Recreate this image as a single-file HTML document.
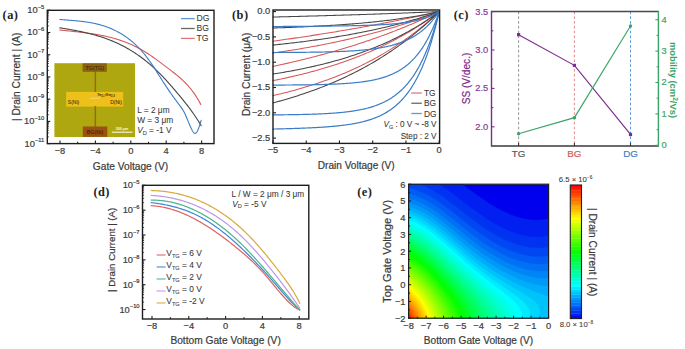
<!DOCTYPE html>
<html><head><meta charset="utf-8"><title>Figure</title>
<style>
html,body{margin:0;padding:0;background:#fff;}
body{width:685px;height:349px;overflow:hidden;}
svg{display:block;}

</style></head>
<body>
<svg width="685" height="349" viewBox="0 0 685 349">
<rect width="685" height="349" fill="#fff"/>
<g>
<rect x="54.4" y="63.2" width="80.6" height="73.8" fill="#afa70f"/>
<rect x="66.2" y="91.9" width="57" height="14.7" fill="#eec01a"/>
<rect x="94.6" y="71" width="1.5" height="21" fill="#9a6a12"/>
<rect x="94.6" y="106" width="1.5" height="21" fill="#9a6a12"/>
<rect x="82.6" y="63.3" width="24.2" height="8.5" fill="#8a6212"/>
<rect x="82.8" y="126.5" width="24.5" height="10.4" fill="#9a5212"/>
<rect x="90" y="97.6" width="10" height="1.4" fill="#f2d27a" opacity="0.8"/>
<text x="94.7" y="70" font-size="5.4" text-anchor="middle" fill="#3a2a08" font-family='"Liberation Sans", sans-serif' stroke="#3a2a08" stroke-width="0.08">TG(TG)</text>
<text x="95" y="133.6" font-size="5.4" text-anchor="middle" fill="#3a2008" font-family='"Liberation Sans", sans-serif' stroke="#3a2008" stroke-width="0.08">BG(Ni)</text>
<text x="73.5" y="104.4" font-size="5" text-anchor="middle" fill="#4a3208" font-family='"Liberation Sans", sans-serif' stroke="#4a3208" stroke-width="0.08">S(Ni)</text>
<text x="116" y="104.4" font-size="5" text-anchor="middle" fill="#4a3208" font-family='"Liberation Sans", sans-serif' stroke="#4a3208" stroke-width="0.08">D(Ni)</text>
<text x="97" y="96.2" font-size="4.2" fill="#3a2a08" font-family='"Liberation Sans", sans-serif' stroke="#3a2a08" stroke-width="0.08">Te<tspan font-size="3" dy="1">0.7</tspan><tspan dy="-1">Se</tspan><tspan font-size="3" dy="1">0.3</tspan></text>
<rect x="111.8" y="131.6" width="20.7" height="1.2" fill="#f4f0d0"/>
<text x="122" y="130" font-size="3.6" text-anchor="middle" fill="#f4f0d0" font-family='"Liberation Sans", sans-serif' font-weight="bold" stroke="#f4f0d0" stroke-width="0.08">200 μm</text>
</g>
<path d="M59.8,30 60.8,30.11 61.8,30.22 62.8,30.33 63.8,30.44 64.8,30.54 65.8,30.65 66.8,30.76 67.8,30.86 68.8,30.97 69.8,31.07 70.8,31.18 71.8,31.28 72.8,31.39 73.8,31.49 74.8,31.6 75.8,31.71 76.8,31.82 77.8,31.93 78.8,32.04 79.8,32.16 80.8,32.27 81.8,32.39 82.8,32.51 83.8,32.63 84.8,32.76 85.8,32.89 86.8,33.02 87.8,33.15 88.8,33.29 89.8,33.43 90.8,33.58 91.8,33.72 92.8,33.88 93.8,34.03 94.8,34.19 95.8,34.36 96.8,34.53 97.8,34.7 98.8,34.88 99.8,35.07 100.8,35.26 101.8,35.46 102.8,35.66 103.8,35.87 104.8,36.08 105.8,36.3 106.8,36.53 107.8,36.76 108.8,37 109.8,37.25 110.8,37.5 111.8,37.76 112.8,38.03 113.8,38.31 114.8,38.59 115.8,38.89 116.8,39.19 117.8,39.5 118.8,39.82 119.8,40.14 120.8,40.48 121.8,40.82 122.8,41.18 123.8,41.54 124.8,41.92 125.8,42.3 126.8,42.69 127.8,43.1 128.8,43.51 129.8,43.93 130.8,44.37 131.8,44.81 132.8,45.27 133.8,45.74 134.8,46.22 135.8,46.71 136.8,47.21 137.8,47.73 138.8,48.26 139.8,48.79 140.8,49.35 141.8,49.91 142.8,50.49 143.8,51.08 144.8,51.68 145.8,52.3 146.8,52.93 147.8,53.57 148.8,54.23 149.8,54.9 150.8,55.58 151.8,56.28 152.8,56.98 153.8,57.7 154.8,58.42 155.8,59.15 156.8,59.88 157.8,60.63 158.8,61.37 159.8,62.13 160.8,62.88 161.8,63.64 162.8,64.39 163.8,65.15 164.8,65.91 165.8,66.67 166.8,67.42 167.8,68.17 168.8,68.92 169.8,69.67 170.8,70.42 171.8,71.18 172.8,71.94 173.8,72.72 174.8,73.5 175.8,74.29 176.8,75.1 177.8,75.93 178.8,76.77 179.8,77.63 180.8,78.51 181.8,79.42 182.8,80.35 183.8,81.3 184.8,82.29 185.8,83.3 186.8,84.35 187.8,85.44 188.8,86.57 189.8,87.74 190.8,88.96 191.8,90.23 192.8,91.56 193.8,92.94 194.8,94.38 195.8,95.89 196.8,97.46 197.8,99.1 198.8,100.81 199.8,102.61 200.8,104.48" fill="none" stroke="#d85858" stroke-width="1.1" stroke-linejoin="round" stroke-linecap="round"/>
<path d="M59.8,27.84 60.8,28 61.81,28.16 62.81,28.32 63.81,28.49 64.81,28.65 65.82,28.82 66.82,28.99 67.82,29.16 68.83,29.33 69.83,29.5 70.83,29.68 71.83,29.86 72.84,30.04 73.84,30.23 74.84,30.41 75.85,30.61 76.85,30.8 77.85,31 78.85,31.2 79.86,31.4 80.86,31.61 81.86,31.82 82.87,32.04 83.87,32.26 84.87,32.49 85.87,32.72 86.88,32.95 87.88,33.19 88.88,33.44 89.89,33.69 90.89,33.95 91.89,34.21 92.89,34.48 93.9,34.75 94.9,35.03 95.9,35.32 96.9,35.61 97.91,35.91 98.91,36.21 99.91,36.52 100.92,36.84 101.92,37.17 102.92,37.51 103.92,37.85 104.93,38.2 105.93,38.55 106.93,38.92 107.94,39.29 108.94,39.68 109.94,40.07 110.94,40.46 111.95,40.87 112.95,41.29 113.95,41.71 114.96,42.15 115.96,42.59 116.96,43.05 117.96,43.51 118.97,43.99 119.97,44.47 120.97,44.96 121.98,45.47 122.98,45.98 123.98,46.51 124.98,47.04 125.99,47.59 126.99,48.15 127.99,48.72 129,49.3 130,49.89 131,50.5 132,51.12 133.01,51.74 134.01,52.39 135.01,53.04 136.02,53.71 137.02,54.38 138.02,55.08 139.02,55.78 140.03,56.5 141.03,57.23 142.03,57.97 143.04,58.73 144.04,59.51 145.04,60.29 146.04,61.09 147.05,61.91 148.05,62.74 149.05,63.58 150.06,64.44 151.06,65.31 152.06,66.2 153.06,67.11 154.07,68.02 155.07,68.96 156.07,69.91 157.08,70.88 158.08,71.86 159.08,72.86 160.08,73.87 161.09,74.9 162.09,75.94 163.09,76.99 164.1,78.06 165.1,79.14 166.1,80.23 167.1,81.33 168.11,82.44 169.11,83.56 170.11,84.69 171.11,85.83 172.12,86.98 173.12,88.13 174.12,89.29 175.13,90.46 176.13,91.63 177.13,92.8 178.13,93.99 179.14,95.18 180.14,96.38 181.14,97.59 182.15,98.81 183.15,100.04 184.15,101.29 185.15,102.55 186.16,103.83 187.16,105.12 188.16,106.43 189.17,107.76 190.17,109.11 191.17,110.48 192.17,111.87 193.18,113.29 194.18,114.73 195.18,116.2 196.19,117.7 197.19,119.23 198.19,120.8 199.19,122.39 200.2,124.03 201.2,125.7" fill="none" stroke="#454545" stroke-width="1.1" stroke-linejoin="round" stroke-linecap="round"/>
<path d="M59.8,19.48 60.3,19.52 60.8,19.56 61.3,19.6 61.81,19.64 62.31,19.68 62.81,19.72 63.31,19.76 63.81,19.8 64.31,19.84 64.81,19.88 65.32,19.92 65.82,19.96 66.32,20 66.82,20.04 67.32,20.08 67.82,20.12 68.32,20.15 68.83,20.19 69.33,20.23 69.83,20.27 70.33,20.31 70.83,20.35 71.33,20.39 71.83,20.43 72.34,20.47 72.84,20.52 73.34,20.56 73.84,20.6 74.34,20.65 74.84,20.69 75.34,20.73 75.85,20.78 76.35,20.83 76.85,20.87 77.35,20.92 77.85,20.97 78.35,21.02 78.85,21.07 79.36,21.13 79.86,21.18 80.36,21.23 80.86,21.29 81.36,21.35 81.86,21.41 82.36,21.47 82.87,21.53 83.37,21.59 83.87,21.65 84.37,21.72 84.87,21.79 85.37,21.86 85.87,21.93 86.38,22 86.88,22.07 87.38,22.15 87.88,22.23 88.38,22.3 88.88,22.39 89.38,22.47 89.89,22.55 90.39,22.64 90.89,22.73 91.39,22.82 91.89,22.92 92.39,23.01 92.89,23.11 93.4,23.21 93.9,23.31 94.4,23.42 94.9,23.53 95.4,23.64 95.9,23.75 96.4,23.87 96.9,23.99 97.41,24.11 97.91,24.23 98.41,24.36 98.91,24.49 99.41,24.62 99.91,24.75 100.41,24.89 100.92,25.03 101.42,25.17 101.92,25.32 102.42,25.47 102.92,25.63 103.42,25.78 103.92,25.94 104.43,26.1 104.93,26.27 105.43,26.44 105.93,26.61 106.43,26.79 106.93,26.97 107.43,27.15 107.94,27.34 108.44,27.53 108.94,27.73 109.44,27.93 109.94,28.13 110.44,28.34 110.94,28.55 111.45,28.76 111.95,28.98 112.45,29.2 112.95,29.43 113.45,29.66 113.95,29.89 114.45,30.13 114.96,30.37 115.46,30.62 115.96,30.87 116.46,31.13 116.96,31.39 117.46,31.65 117.96,31.92 118.47,32.19 118.97,32.47 119.47,32.75 119.97,33.04 120.47,33.33 120.97,33.63 121.47,33.93 121.98,34.24 122.48,34.55 122.98,34.87 123.48,35.19 123.98,35.52 124.48,35.85 124.98,36.19 125.49,36.53 125.99,36.87 126.49,37.23 126.99,37.59 127.49,37.95 127.99,38.32 128.49,38.69 129,39.08 129.5,39.46 130,39.86 130.5,40.25 131,40.66 131.5,41.07 132,41.49 132.51,41.92 133.01,42.35 133.51,42.79 134.01,43.23 134.51,43.68 135.01,44.14 135.51,44.61 136.02,45.08 136.52,45.56 137.02,46.05 137.52,46.55 138.02,47.05 138.52,47.56 139.02,48.08 139.53,48.61 140.03,49.15 140.53,49.69 141.03,50.24 141.53,50.8 142.03,51.37 142.53,51.95 143.04,52.53 143.54,53.13 144.04,53.73 144.54,54.35 145.04,54.97 145.54,55.6 146.04,56.24 146.55,56.89 147.05,57.55 147.55,58.22 148.05,58.89 148.55,59.58 149.05,60.28 149.55,60.98 150.06,61.7 150.56,62.42 151.06,63.15 151.56,63.89 152.06,64.63 152.56,65.38 153.06,66.13 153.57,66.89 154.07,67.66 154.57,68.43 155.07,69.2 155.57,69.98 156.07,70.76 156.57,71.55 157.08,72.33 157.58,73.12 158.08,73.91 158.58,74.7 159.08,75.5 159.58,76.29 160.08,77.08 160.59,77.87 161.09,78.66 161.59,79.45 162.09,80.24 162.59,81.03 163.09,81.81 163.59,82.59 164.1,83.37 164.6,84.14 165.1,84.91 165.6,85.67 166.1,86.43 166.6,87.18 167.1,87.93 167.6,88.68 168.11,89.42 168.61,90.15 169.11,90.88 169.61,91.6 170.11,92.33 170.61,93.04 171.11,93.75 171.62,94.46 172.12,95.17 172.62,95.87 173.12,96.56 173.62,97.26 174.12,97.95 174.62,98.63 175.13,99.31 175.63,99.99 176.13,100.67 176.63,101.34 177.13,102.01 177.63,102.68 178.13,103.34 178.64,104 179.14,104.66 179.64,105.32 180.14,105.99 180.64,106.67 181.14,107.37 181.64,108.1 182.15,108.85 182.65,109.65 183.15,110.48 183.65,111.36 184.15,112.29 184.65,113.28 185.15,114.33 185.66,115.43 186.16,116.57 186.66,117.74 187.16,118.94 187.66,120.15 188.16,121.37 188.66,122.59 189.17,123.79 189.67,124.98 190.17,126.14 190.67,127.26 191.17,128.34 191.67,129.36 192.17,130.32 192.68,131.2 193.18,131.97 193.68,132.61 194.18,133.09 194.68,133.39 195.18,133.47 195.68,133.32 196.19,132.93 196.69,132.33 197.19,131.52 197.69,130.52 198.19,129.35 198.69,128.04 199.19,126.6 199.7,125.09 200.2,123.51 200.7,121.91 201.2,120.32" fill="none" stroke="#3b7cc8" stroke-width="1.1" stroke-linejoin="round" stroke-linecap="round"/>
<rect x="47.3" y="10.3" width="166.7" height="133.29999999999998" fill="none" stroke="#1e1e1e" stroke-width="1.4"/>
<line x1="60" y1="143.6" x2="60" y2="140.6" stroke="#1e1e1e" stroke-width="1.1" />
<text x="60" y="154" font-size="9.3" text-anchor="middle" fill="#3a3a3a" font-family='"Liberation Sans", sans-serif' font-weight="normal"  stroke="#3a3a3a" stroke-width="0.2">−8</text>
<line x1="77.7" y1="143.6" x2="77.7" y2="141.8" stroke="#1e1e1e" stroke-width="1.1" />
<line x1="95.4" y1="143.6" x2="95.4" y2="140.6" stroke="#1e1e1e" stroke-width="1.1" />
<text x="95.4" y="154" font-size="9.3" text-anchor="middle" fill="#3a3a3a" font-family='"Liberation Sans", sans-serif' font-weight="normal"  stroke="#3a3a3a" stroke-width="0.2">−4</text>
<line x1="113.1" y1="143.6" x2="113.1" y2="141.8" stroke="#1e1e1e" stroke-width="1.1" />
<line x1="130.8" y1="143.6" x2="130.8" y2="140.6" stroke="#1e1e1e" stroke-width="1.1" />
<text x="130.8" y="154" font-size="9.3" text-anchor="middle" fill="#3a3a3a" font-family='"Liberation Sans", sans-serif' font-weight="normal"  stroke="#3a3a3a" stroke-width="0.2">0</text>
<line x1="148.5" y1="143.6" x2="148.5" y2="141.8" stroke="#1e1e1e" stroke-width="1.1" />
<line x1="166.2" y1="143.6" x2="166.2" y2="140.6" stroke="#1e1e1e" stroke-width="1.1" />
<text x="166.2" y="154" font-size="9.3" text-anchor="middle" fill="#3a3a3a" font-family='"Liberation Sans", sans-serif' font-weight="normal"  stroke="#3a3a3a" stroke-width="0.2">4</text>
<line x1="183.9" y1="143.6" x2="183.9" y2="141.8" stroke="#1e1e1e" stroke-width="1.1" />
<line x1="201.6" y1="143.6" x2="201.6" y2="140.6" stroke="#1e1e1e" stroke-width="1.1" />
<text x="201.6" y="154" font-size="9.3" text-anchor="middle" fill="#3a3a3a" font-family='"Liberation Sans", sans-serif' font-weight="normal"  stroke="#3a3a3a" stroke-width="0.2">8</text>
<line x1="47.3" y1="10.3" x2="50.3" y2="10.3" stroke="#1e1e1e" stroke-width="1.1" />
<line x1="47.3" y1="25.83" x2="48.9" y2="25.83" stroke="#1e1e1e" stroke-width="0.8" />
<line x1="47.3" y1="21.92" x2="48.9" y2="21.92" stroke="#1e1e1e" stroke-width="0.8" />
<line x1="47.3" y1="19.14" x2="48.9" y2="19.14" stroke="#1e1e1e" stroke-width="0.8" />
<line x1="47.3" y1="16.99" x2="48.9" y2="16.99" stroke="#1e1e1e" stroke-width="0.8" />
<line x1="47.3" y1="15.23" x2="48.9" y2="15.23" stroke="#1e1e1e" stroke-width="0.8" />
<line x1="47.3" y1="13.74" x2="48.9" y2="13.74" stroke="#1e1e1e" stroke-width="0.8" />
<line x1="47.3" y1="12.45" x2="48.9" y2="12.45" stroke="#1e1e1e" stroke-width="0.8" />
<line x1="47.3" y1="11.32" x2="48.9" y2="11.32" stroke="#1e1e1e" stroke-width="0.8" />
<text x="44.3" y="13.2" font-size="9.3" text-anchor="end" fill="#3a3a3a" font-family='"Liberation Sans", sans-serif' stroke="#3a3a3a" stroke-width="0.2">10<tspan font-size="5.8" dy="-4.3">−5</tspan></text>
<line x1="47.3" y1="32.52" x2="50.3" y2="32.52" stroke="#1e1e1e" stroke-width="1.1" />
<line x1="47.3" y1="48.05" x2="48.9" y2="48.05" stroke="#1e1e1e" stroke-width="0.8" />
<line x1="47.3" y1="44.14" x2="48.9" y2="44.14" stroke="#1e1e1e" stroke-width="0.8" />
<line x1="47.3" y1="41.36" x2="48.9" y2="41.36" stroke="#1e1e1e" stroke-width="0.8" />
<line x1="47.3" y1="39.21" x2="48.9" y2="39.21" stroke="#1e1e1e" stroke-width="0.8" />
<line x1="47.3" y1="37.45" x2="48.9" y2="37.45" stroke="#1e1e1e" stroke-width="0.8" />
<line x1="47.3" y1="35.96" x2="48.9" y2="35.96" stroke="#1e1e1e" stroke-width="0.8" />
<line x1="47.3" y1="34.67" x2="48.9" y2="34.67" stroke="#1e1e1e" stroke-width="0.8" />
<line x1="47.3" y1="33.54" x2="48.9" y2="33.54" stroke="#1e1e1e" stroke-width="0.8" />
<text x="44.3" y="35.42" font-size="9.3" text-anchor="end" fill="#3a3a3a" font-family='"Liberation Sans", sans-serif' stroke="#3a3a3a" stroke-width="0.2">10<tspan font-size="5.8" dy="-4.3">−6</tspan></text>
<line x1="47.3" y1="54.74" x2="50.3" y2="54.74" stroke="#1e1e1e" stroke-width="1.1" />
<line x1="47.3" y1="70.27" x2="48.9" y2="70.27" stroke="#1e1e1e" stroke-width="0.8" />
<line x1="47.3" y1="66.36" x2="48.9" y2="66.36" stroke="#1e1e1e" stroke-width="0.8" />
<line x1="47.3" y1="63.58" x2="48.9" y2="63.58" stroke="#1e1e1e" stroke-width="0.8" />
<line x1="47.3" y1="61.43" x2="48.9" y2="61.43" stroke="#1e1e1e" stroke-width="0.8" />
<line x1="47.3" y1="59.67" x2="48.9" y2="59.67" stroke="#1e1e1e" stroke-width="0.8" />
<line x1="47.3" y1="58.18" x2="48.9" y2="58.18" stroke="#1e1e1e" stroke-width="0.8" />
<line x1="47.3" y1="56.89" x2="48.9" y2="56.89" stroke="#1e1e1e" stroke-width="0.8" />
<line x1="47.3" y1="55.76" x2="48.9" y2="55.76" stroke="#1e1e1e" stroke-width="0.8" />
<text x="44.3" y="57.64" font-size="9.3" text-anchor="end" fill="#3a3a3a" font-family='"Liberation Sans", sans-serif' stroke="#3a3a3a" stroke-width="0.2">10<tspan font-size="5.8" dy="-4.3">−7</tspan></text>
<line x1="47.3" y1="76.96" x2="50.3" y2="76.96" stroke="#1e1e1e" stroke-width="1.1" />
<line x1="47.3" y1="92.49" x2="48.9" y2="92.49" stroke="#1e1e1e" stroke-width="0.8" />
<line x1="47.3" y1="88.58" x2="48.9" y2="88.58" stroke="#1e1e1e" stroke-width="0.8" />
<line x1="47.3" y1="85.8" x2="48.9" y2="85.8" stroke="#1e1e1e" stroke-width="0.8" />
<line x1="47.3" y1="83.65" x2="48.9" y2="83.65" stroke="#1e1e1e" stroke-width="0.8" />
<line x1="47.3" y1="81.89" x2="48.9" y2="81.89" stroke="#1e1e1e" stroke-width="0.8" />
<line x1="47.3" y1="80.4" x2="48.9" y2="80.4" stroke="#1e1e1e" stroke-width="0.8" />
<line x1="47.3" y1="79.11" x2="48.9" y2="79.11" stroke="#1e1e1e" stroke-width="0.8" />
<line x1="47.3" y1="77.98" x2="48.9" y2="77.98" stroke="#1e1e1e" stroke-width="0.8" />
<text x="44.3" y="79.86" font-size="9.3" text-anchor="end" fill="#3a3a3a" font-family='"Liberation Sans", sans-serif' stroke="#3a3a3a" stroke-width="0.2">10<tspan font-size="5.8" dy="-4.3">−8</tspan></text>
<line x1="47.3" y1="99.18" x2="50.3" y2="99.18" stroke="#1e1e1e" stroke-width="1.1" />
<line x1="47.3" y1="114.71" x2="48.9" y2="114.71" stroke="#1e1e1e" stroke-width="0.8" />
<line x1="47.3" y1="110.8" x2="48.9" y2="110.8" stroke="#1e1e1e" stroke-width="0.8" />
<line x1="47.3" y1="108.02" x2="48.9" y2="108.02" stroke="#1e1e1e" stroke-width="0.8" />
<line x1="47.3" y1="105.87" x2="48.9" y2="105.87" stroke="#1e1e1e" stroke-width="0.8" />
<line x1="47.3" y1="104.11" x2="48.9" y2="104.11" stroke="#1e1e1e" stroke-width="0.8" />
<line x1="47.3" y1="102.62" x2="48.9" y2="102.62" stroke="#1e1e1e" stroke-width="0.8" />
<line x1="47.3" y1="101.33" x2="48.9" y2="101.33" stroke="#1e1e1e" stroke-width="0.8" />
<line x1="47.3" y1="100.2" x2="48.9" y2="100.2" stroke="#1e1e1e" stroke-width="0.8" />
<text x="44.3" y="102.08" font-size="9.3" text-anchor="end" fill="#3a3a3a" font-family='"Liberation Sans", sans-serif' stroke="#3a3a3a" stroke-width="0.2">10<tspan font-size="5.8" dy="-4.3">−9</tspan></text>
<line x1="47.3" y1="121.4" x2="50.3" y2="121.4" stroke="#1e1e1e" stroke-width="1.1" />
<line x1="47.3" y1="136.93" x2="48.9" y2="136.93" stroke="#1e1e1e" stroke-width="0.8" />
<line x1="47.3" y1="133.02" x2="48.9" y2="133.02" stroke="#1e1e1e" stroke-width="0.8" />
<line x1="47.3" y1="130.24" x2="48.9" y2="130.24" stroke="#1e1e1e" stroke-width="0.8" />
<line x1="47.3" y1="128.09" x2="48.9" y2="128.09" stroke="#1e1e1e" stroke-width="0.8" />
<line x1="47.3" y1="126.33" x2="48.9" y2="126.33" stroke="#1e1e1e" stroke-width="0.8" />
<line x1="47.3" y1="124.84" x2="48.9" y2="124.84" stroke="#1e1e1e" stroke-width="0.8" />
<line x1="47.3" y1="123.55" x2="48.9" y2="123.55" stroke="#1e1e1e" stroke-width="0.8" />
<line x1="47.3" y1="122.42" x2="48.9" y2="122.42" stroke="#1e1e1e" stroke-width="0.8" />
<text x="44.3" y="124.3" font-size="9.3" text-anchor="end" fill="#3a3a3a" font-family='"Liberation Sans", sans-serif' stroke="#3a3a3a" stroke-width="0.2">10<tspan font-size="5.8" dy="-4.3">−10</tspan></text>
<line x1="47.3" y1="143.62" x2="50.3" y2="143.62" stroke="#1e1e1e" stroke-width="1.1" />
<text x="44.3" y="146.52" font-size="9.3" text-anchor="end" fill="#3a3a3a" font-family='"Liberation Sans", sans-serif' stroke="#3a3a3a" stroke-width="0.2">10<tspan font-size="5.8" dy="-4.3">−11</tspan></text>
<line x1="181" y1="18.6" x2="194.7" y2="18.6" stroke="#3b7cc8" stroke-width="1.3" opacity="0.8"/>
<text x="196.5" y="21" font-size="8.6" text-anchor="start" fill="#3a3a3a" font-family='"Liberation Sans", sans-serif' font-weight="normal"  stroke="#3a3a3a" stroke-width="0.08">DG</text>
<line x1="181" y1="28.5" x2="194.7" y2="28.5" stroke="#454545" stroke-width="1.3" opacity="0.8"/>
<text x="196.5" y="30.9" font-size="8.6" text-anchor="start" fill="#3a3a3a" font-family='"Liberation Sans", sans-serif' font-weight="normal"  stroke="#3a3a3a" stroke-width="0.08">BG</text>
<line x1="181" y1="38.4" x2="194.7" y2="38.4" stroke="#d85858" stroke-width="1.3" opacity="0.8"/>
<text x="196.5" y="40.8" font-size="8.6" text-anchor="start" fill="#3a3a3a" font-family='"Liberation Sans", sans-serif' font-weight="normal"  stroke="#3a3a3a" stroke-width="0.08">TG</text>
<text x="137.2" y="112.6" font-size="8.3" text-anchor="start" fill="#3a3a3a" font-family='"Liberation Sans", sans-serif' font-weight="normal"  stroke="#3a3a3a" stroke-width="0.08">L = 2 μm</text>
<text x="137.2" y="123.2" font-size="8.3" text-anchor="start" fill="#3a3a3a" font-family='"Liberation Sans", sans-serif' font-weight="normal"  stroke="#3a3a3a" stroke-width="0.08">W = 3 μm</text>
<text x="137.2" y="133.4" font-size="8.3" fill="#3a3a3a" font-family='"Liberation Sans", sans-serif' stroke="#3a3a3a" stroke-width="0.08"><tspan font-style="italic">V</tspan><tspan font-size="5.6" dy="1.8">D</tspan><tspan dy="-1.8"> = -1 V</tspan></text>
<text x="130.5" y="169.8" font-size="10.2" text-anchor="middle" fill="#3a3a3a" font-family='"Liberation Sans", sans-serif' font-weight="normal"  stroke="#3a3a3a" stroke-width="0.2">Gate Voltage (V)</text>
<text x="0" y="0" font-size="10.2" text-anchor="middle" fill="#3a3a3a" font-family='"Liberation Sans", sans-serif' transform="translate(16.4,76.8) rotate(-90)" dy="3.65"  stroke="#3a3a3a" stroke-width="0.2">| Drain Current | (A)</text>
<text x="2.6" y="19" font-size="12.4" text-anchor="start" fill="#222" font-family='"Liberation Serif", serif' font-weight="bold" stroke="none" letter-spacing="0.45">(a)</text>
<path d="M273,41.2 274.66,40.97 276.32,40.74 277.99,40.51 279.65,40.28 281.31,40.05 282.97,39.81 284.63,39.58 286.3,39.34 287.96,39.1 289.62,38.86 291.28,38.62 292.94,38.38 294.61,38.14 296.27,37.89 297.93,37.65 299.59,37.4 301.25,37.15 302.92,36.9 304.58,36.65 306.24,36.4 307.9,36.15 309.56,35.9 311.23,35.64 312.89,35.38 314.55,35.13 316.21,34.87 317.87,34.61 319.54,34.34 321.2,34.08 322.86,33.82 324.52,33.55 326.18,33.28 327.85,33.02 329.51,32.75 331.17,32.47 332.83,32.2 334.49,31.93 336.16,31.65 337.82,31.38 339.48,31.1 341.14,30.82 342.8,30.54 344.47,30.26 346.13,29.97 347.79,29.69 349.45,29.4 351.11,29.11 352.78,28.82 354.44,28.53 356.1,28.24 357.76,27.95 359.42,27.65 361.09,27.36 362.75,27.06 364.41,26.76 366.07,26.46 367.73,26.15 369.4,25.85 371.06,25.54 372.72,25.24 374.38,24.93 376.04,24.62 377.71,24.31 379.37,23.99 381.03,23.68 382.69,23.36 384.35,23.04 386.02,22.72 387.68,22.4 389.34,22.08 391,21.75 392.66,21.43 394.33,21.1 395.99,20.77 397.65,20.44 399.31,20.11 400.97,19.77 402.64,19.44 404.3,19.1 405.96,18.76 407.62,18.42 409.28,18.08 410.95,17.73 412.61,17.38 414.27,17.04 415.93,16.69 417.59,16.33 419.26,15.98 420.92,15.63 422.58,15.27 424.24,14.91 425.9,14.55 427.57,14.19 429.23,13.82 430.89,13.46 432.55,13.09 434.21,12.72 435.88,12.35 437.54,11.98 439.2,11.6" fill="none" stroke="#d85858" stroke-width="1.05" stroke-linejoin="round" stroke-linecap="round"/>
<path d="M273,53.09 274.66,52.85 276.32,52.6 277.99,52.36 279.65,52.11 281.31,51.85 282.97,51.6 284.63,51.34 286.3,51.08 287.96,50.82 289.62,50.55 291.28,50.28 292.94,50.01 294.61,49.74 296.27,49.46 297.93,49.18 299.59,48.9 301.25,48.62 302.92,48.33 304.58,48.04 306.24,47.75 307.9,47.45 309.56,47.15 311.23,46.85 312.89,46.54 314.55,46.23 316.21,45.92 317.87,45.61 319.54,45.29 321.2,44.97 322.86,44.64 324.52,44.32 326.18,43.99 327.85,43.65 329.51,43.31 331.17,42.97 332.83,42.63 334.49,42.28 336.16,41.93 337.82,41.57 339.48,41.22 341.14,40.85 342.8,40.49 344.47,40.12 346.13,39.75 347.79,39.37 349.45,38.99 351.11,38.6 352.78,38.22 354.44,37.82 356.1,37.43 357.76,37.03 359.42,36.62 361.09,36.21 362.75,35.8 364.41,35.39 366.07,34.97 367.73,34.54 369.4,34.11 371.06,33.68 372.72,33.24 374.38,32.8 376.04,32.35 377.71,31.9 379.37,31.44 381.03,30.98 382.69,30.52 384.35,30.05 386.02,29.58 387.68,29.1 389.34,28.61 391,28.12 392.66,27.63 394.33,27.13 395.99,26.63 397.65,26.12 399.31,25.61 400.97,25.09 402.64,24.56 404.3,24.03 405.96,23.5 407.62,22.96 409.28,22.41 410.95,21.86 412.61,21.31 414.27,20.74 415.93,20.18 417.59,19.6 419.26,19.02 420.92,18.44 422.58,17.85 424.24,17.25 425.9,16.65 427.57,16.04 429.23,15.42 430.89,14.8 432.55,14.17 434.21,13.54 435.88,12.9 437.54,12.25 439.2,11.6" fill="none" stroke="#d85858" stroke-width="1.05" stroke-linejoin="round" stroke-linecap="round"/>
<path d="M273,66.4 274.66,66.05 276.32,65.69 277.99,65.33 279.65,64.97 281.31,64.61 282.97,64.24 284.63,63.87 286.3,63.5 287.96,63.12 289.62,62.74 291.28,62.36 292.94,61.97 294.61,61.58 296.27,61.19 297.93,60.79 299.59,60.39 301.25,59.99 302.92,59.58 304.58,59.17 306.24,58.76 307.9,58.34 309.56,57.92 311.23,57.5 312.89,57.07 314.55,56.64 316.21,56.21 317.87,55.77 319.54,55.33 321.2,54.88 322.86,54.44 324.52,53.98 326.18,53.53 327.85,53.07 329.51,52.6 331.17,52.13 332.83,51.66 334.49,51.19 336.16,50.71 337.82,50.22 339.48,49.74 341.14,49.24 342.8,48.75 344.47,48.25 346.13,47.74 347.79,47.23 349.45,46.72 351.11,46.2 352.78,45.68 354.44,45.16 356.1,44.63 357.76,44.09 359.42,43.55 361.09,43.01 362.75,42.46 364.41,41.91 366.07,41.35 367.73,40.79 369.4,40.22 371.06,39.65 372.72,39.07 374.38,38.49 376.04,37.91 377.71,37.32 379.37,36.72 381.03,36.12 382.69,35.51 384.35,34.9 386.02,34.29 387.68,33.67 389.34,33.04 391,32.41 392.66,31.77 394.33,31.13 395.99,30.48 397.65,29.83 399.31,29.17 400.97,28.5 402.64,27.84 404.3,27.16 405.96,26.48 407.62,25.79 409.28,25.1 410.95,24.4 412.61,23.7 414.27,22.99 415.93,22.27 417.59,21.55 419.26,20.82 420.92,20.09 422.58,19.35 424.24,18.6 425.9,17.85 427.57,17.09 429.23,16.33 430.89,15.56 432.55,14.78 434.21,13.99 435.88,13.2 437.54,12.4 439.2,11.6" fill="none" stroke="#d85858" stroke-width="1.05" stroke-linejoin="round" stroke-linecap="round"/>
<path d="M273,80.62 274.66,80.29 276.32,79.96 277.99,79.62 279.65,79.28 281.31,78.93 282.97,78.58 284.63,78.23 286.3,77.87 287.96,77.5 289.62,77.13 291.28,76.75 292.94,76.37 294.61,75.99 296.27,75.6 297.93,75.2 299.59,74.8 301.25,74.39 302.92,73.98 304.58,73.56 306.24,73.14 307.9,72.71 309.56,72.27 311.23,71.83 312.89,71.38 314.55,70.93 316.21,70.47 317.87,70 319.54,69.53 321.2,69.05 322.86,68.57 324.52,68.07 326.18,67.57 327.85,67.07 329.51,66.56 331.17,66.04 332.83,65.51 334.49,64.98 336.16,64.44 337.82,63.89 339.48,63.33 341.14,62.77 342.8,62.2 344.47,61.62 346.13,61.03 347.79,60.44 349.45,59.84 351.11,59.23 352.78,58.61 354.44,57.98 356.1,57.34 357.76,56.7 359.42,56.05 361.09,55.38 362.75,54.71 364.41,54.03 366.07,53.34 367.73,52.64 369.4,51.93 371.06,51.22 372.72,50.49 374.38,49.75 376.04,49 377.71,48.24 379.37,47.47 381.03,46.7 382.69,45.91 384.35,45.11 386.02,44.29 387.68,43.47 389.34,42.64 391,41.79 392.66,40.94 394.33,40.07 395.99,39.19 397.65,38.3 399.31,37.4 400.97,36.48 402.64,35.55 404.3,34.61 405.96,33.66 407.62,32.69 409.28,31.71 410.95,30.71 412.61,29.71 414.27,28.69 415.93,27.65 417.59,26.6 419.26,25.54 420.92,24.46 422.58,23.37 424.24,22.26 425.9,21.14 427.57,20.01 429.23,18.85 430.89,17.68 432.55,16.5 434.21,15.3 435.88,14.08 437.54,12.85 439.2,11.6" fill="none" stroke="#d85858" stroke-width="1.05" stroke-linejoin="round" stroke-linecap="round"/>
<path d="M273,95.6 274.66,95.22 276.32,94.83 277.99,94.44 279.65,94.04 281.31,93.64 282.97,93.23 284.63,92.81 286.3,92.39 287.96,91.96 289.62,91.53 291.28,91.09 292.94,90.65 294.61,90.19 296.27,89.73 297.93,89.27 299.59,88.8 301.25,88.32 302.92,87.83 304.58,87.34 306.24,86.84 307.9,86.33 309.56,85.82 311.23,85.3 312.89,84.77 314.55,84.23 316.21,83.69 317.87,83.14 319.54,82.58 321.2,82.01 322.86,81.43 324.52,80.85 326.18,80.25 327.85,79.65 329.51,79.04 331.17,78.42 332.83,77.79 334.49,77.16 336.16,76.51 337.82,75.85 339.48,75.19 341.14,74.52 342.8,73.83 344.47,73.14 346.13,72.43 347.79,71.72 349.45,70.99 351.11,70.26 352.78,69.51 354.44,68.76 356.1,67.99 357.76,67.21 359.42,66.42 361.09,65.62 362.75,64.81 364.41,63.99 366.07,63.15 367.73,62.3 369.4,61.44 371.06,60.57 372.72,59.69 374.38,58.79 376.04,57.88 377.71,56.95 379.37,56.02 381.03,55.07 382.69,54.1 384.35,53.12 386.02,52.13 387.68,51.13 389.34,50.11 391,49.07 392.66,48.02 394.33,46.95 395.99,45.87 397.65,44.78 399.31,43.67 400.97,42.54 402.64,41.39 404.3,40.23 405.96,39.05 407.62,37.86 409.28,36.65 410.95,35.42 412.61,34.17 414.27,32.91 415.93,31.62 417.59,30.32 419.26,29 420.92,27.66 422.58,26.31 424.24,24.93 425.9,23.53 427.57,22.11 429.23,20.67 430.89,19.22 432.55,17.74 434.21,16.23 435.88,14.71 437.54,13.17 439.2,11.6" fill="none" stroke="#d85858" stroke-width="1.05" stroke-linejoin="round" stroke-linecap="round"/>
<path d="M273,17.01 274.66,16.98 276.32,16.94 277.99,16.9 279.65,16.86 281.31,16.82 282.97,16.78 284.63,16.74 286.3,16.69 287.96,16.65 289.62,16.61 291.28,16.57 292.94,16.53 294.61,16.49 296.27,16.44 297.93,16.4 299.59,16.36 301.25,16.32 302.92,16.27 304.58,16.23 306.24,16.18 307.9,16.14 309.56,16.1 311.23,16.05 312.89,16.01 314.55,15.96 316.21,15.91 317.87,15.87 319.54,15.82 321.2,15.78 322.86,15.73 324.52,15.68 326.18,15.63 327.85,15.59 329.51,15.54 331.17,15.49 332.83,15.44 334.49,15.39 336.16,15.34 337.82,15.29 339.48,15.24 341.14,15.19 342.8,15.14 344.47,15.09 346.13,15.04 347.79,14.99 349.45,14.94 351.11,14.88 352.78,14.83 354.44,14.78 356.1,14.73 357.76,14.67 359.42,14.62 361.09,14.57 362.75,14.51 364.41,14.46 366.07,14.4 367.73,14.35 369.4,14.29 371.06,14.23 372.72,14.18 374.38,14.12 376.04,14.06 377.71,14.01 379.37,13.95 381.03,13.89 382.69,13.83 384.35,13.77 386.02,13.71 387.68,13.65 389.34,13.59 391,13.53 392.66,13.47 394.33,13.41 395.99,13.35 397.65,13.29 399.31,13.22 400.97,13.16 402.64,13.1 404.3,13.03 405.96,12.97 407.62,12.9 409.28,12.84 410.95,12.77 412.61,12.71 414.27,12.64 415.93,12.58 417.59,12.51 419.26,12.44 420.92,12.37 422.58,12.31 424.24,12.24 425.9,12.17 427.57,12.1 429.23,12.03 430.89,11.96 432.55,11.89 434.21,11.82 435.88,11.74 437.54,11.67 439.2,11.6" fill="none" stroke="#454545" stroke-width="1.05" stroke-linejoin="round" stroke-linecap="round"/>
<path d="M273,27.99 274.66,27.94 276.32,27.89 277.99,27.84 279.65,27.78 281.31,27.72 282.97,27.67 284.63,27.61 286.3,27.55 287.96,27.49 289.62,27.43 291.28,27.36 292.94,27.3 294.61,27.23 296.27,27.17 297.93,27.1 299.59,27.03 301.25,26.96 302.92,26.88 304.58,26.81 306.24,26.73 307.9,26.66 309.56,26.58 311.23,26.5 312.89,26.41 314.55,26.33 316.21,26.24 317.87,26.16 319.54,26.07 321.2,25.98 322.86,25.88 324.52,25.79 326.18,25.69 327.85,25.6 329.51,25.5 331.17,25.39 332.83,25.29 334.49,25.18 336.16,25.07 337.82,24.96 339.48,24.85 341.14,24.73 342.8,24.62 344.47,24.5 346.13,24.37 347.79,24.25 349.45,24.12 351.11,23.99 352.78,23.86 354.44,23.72 356.1,23.59 357.76,23.44 359.42,23.3 361.09,23.15 362.75,23 364.41,22.85 366.07,22.7 367.73,22.54 369.4,22.38 371.06,22.21 372.72,22.04 374.38,21.87 376.04,21.69 377.71,21.51 379.37,21.33 381.03,21.14 382.69,20.95 384.35,20.76 386.02,20.56 387.68,20.36 389.34,20.15 391,19.94 392.66,19.73 394.33,19.51 395.99,19.29 397.65,19.06 399.31,18.83 400.97,18.59 402.64,18.35 404.3,18.1 405.96,17.85 407.62,17.59 409.28,17.33 410.95,17.06 412.61,16.79 414.27,16.51 415.93,16.23 417.59,15.94 419.26,15.65 420.92,15.34 422.58,15.04 424.24,14.72 425.9,14.4 427.57,14.08 429.23,13.74 430.89,13.4 432.55,13.06 434.21,12.7 435.88,12.34 437.54,11.98 439.2,11.6" fill="none" stroke="#454545" stroke-width="1.05" stroke-linejoin="round" stroke-linecap="round"/>
<path d="M273,45.05 274.66,44.88 276.32,44.71 277.99,44.53 279.65,44.36 281.31,44.18 282.97,44 284.63,43.82 286.3,43.63 287.96,43.45 289.62,43.26 291.28,43.07 292.94,42.87 294.61,42.68 296.27,42.48 297.93,42.28 299.59,42.07 301.25,41.87 302.92,41.66 304.58,41.45 306.24,41.23 307.9,41.02 309.56,40.8 311.23,40.57 312.89,40.35 314.55,40.12 316.21,39.89 317.87,39.66 319.54,39.42 321.2,39.18 322.86,38.94 324.52,38.69 326.18,38.44 327.85,38.19 329.51,37.93 331.17,37.68 332.83,37.41 334.49,37.15 336.16,36.88 337.82,36.61 339.48,36.33 341.14,36.06 342.8,35.77 344.47,35.49 346.13,35.2 347.79,34.91 349.45,34.61 351.11,34.31 352.78,34.01 354.44,33.7 356.1,33.39 357.76,33.07 359.42,32.75 361.09,32.43 362.75,32.1 364.41,31.77 366.07,31.43 367.73,31.09 369.4,30.75 371.06,30.4 372.72,30.04 374.38,29.69 376.04,29.32 377.71,28.96 379.37,28.59 381.03,28.21 382.69,27.83 384.35,27.44 386.02,27.05 387.68,26.66 389.34,26.26 391,25.85 392.66,25.44 394.33,25.03 395.99,24.61 397.65,24.18 399.31,23.75 400.97,23.31 402.64,22.87 404.3,22.42 405.96,21.97 407.62,21.51 409.28,21.04 410.95,20.57 412.61,20.1 414.27,19.61 415.93,19.13 417.59,18.63 419.26,18.13 420.92,17.62 422.58,17.11 424.24,16.59 425.9,16.06 427.57,15.53 429.23,14.99 430.89,14.44 432.55,13.89 434.21,13.33 435.88,12.76 437.54,12.18 439.2,11.6" fill="none" stroke="#454545" stroke-width="1.05" stroke-linejoin="round" stroke-linecap="round"/>
<path d="M273,74.04 274.66,73.78 276.32,73.51 277.99,73.25 279.65,72.97 281.31,72.69 282.97,72.41 284.63,72.13 286.3,71.84 287.96,71.54 289.62,71.24 291.28,70.94 292.94,70.63 294.61,70.31 296.27,69.99 297.93,69.67 299.59,69.34 301.25,69 302.92,68.66 304.58,68.32 306.24,67.97 307.9,67.61 309.56,67.25 311.23,66.88 312.89,66.51 314.55,66.13 316.21,65.74 317.87,65.35 319.54,64.95 321.2,64.55 322.86,64.14 324.52,63.72 326.18,63.3 327.85,62.87 329.51,62.43 331.17,61.99 332.83,61.54 334.49,61.08 336.16,60.61 337.82,60.14 339.48,59.66 341.14,59.18 342.8,58.68 344.47,58.18 346.13,57.67 347.79,57.15 349.45,56.62 351.11,56.09 352.78,55.54 354.44,54.99 356.1,54.43 357.76,53.86 359.42,53.28 361.09,52.7 362.75,52.1 364.41,51.49 366.07,50.88 367.73,50.25 369.4,49.62 371.06,48.97 372.72,48.31 374.38,47.65 376.04,46.97 377.71,46.28 379.37,45.59 381.03,44.88 382.69,44.16 384.35,43.43 386.02,42.68 387.68,41.93 389.34,41.16 391,40.38 392.66,39.59 394.33,38.79 395.99,37.97 397.65,37.15 399.31,36.3 400.97,35.45 402.64,34.58 404.3,33.7 405.96,32.8 407.62,31.89 409.28,30.97 410.95,30.03 412.61,29.07 414.27,28.11 415.93,27.12 417.59,26.12 419.26,25.11 420.92,24.08 422.58,23.03 424.24,21.96 425.9,20.88 427.57,19.78 429.23,18.67 430.89,17.54 432.55,16.39 434.21,15.22 435.88,14.03 437.54,12.82 439.2,11.6" fill="none" stroke="#454545" stroke-width="1.05" stroke-linejoin="round" stroke-linecap="round"/>
<path d="M273,102.93 274.66,102.49 276.32,102.04 277.99,101.58 279.65,101.12 281.31,100.66 282.97,100.18 284.63,99.7 286.3,99.22 287.96,98.72 289.62,98.22 291.28,97.72 292.94,97.21 294.61,96.69 296.27,96.16 297.93,95.63 299.59,95.09 301.25,94.54 302.92,93.98 304.58,93.42 306.24,92.85 307.9,92.28 309.56,91.69 311.23,91.1 312.89,90.5 314.55,89.89 316.21,89.27 317.87,88.65 319.54,88.02 321.2,87.38 322.86,86.73 324.52,86.07 326.18,85.4 327.85,84.73 329.51,84.04 331.17,83.35 332.83,82.65 334.49,81.93 336.16,81.21 337.82,80.48 339.48,79.74 341.14,78.99 342.8,78.23 344.47,77.46 346.13,76.68 347.79,75.89 349.45,75.08 351.11,74.27 352.78,73.45 354.44,72.61 356.1,71.77 357.76,70.91 359.42,70.05 361.09,69.17 362.75,68.28 364.41,67.37 366.07,66.46 367.73,65.53 369.4,64.59 371.06,63.64 372.72,62.68 374.38,61.7 376.04,60.71 377.71,59.71 379.37,58.69 381.03,57.66 382.69,56.62 384.35,55.56 386.02,54.49 387.68,53.41 389.34,52.31 391,51.19 392.66,50.07 394.33,48.92 395.99,47.76 397.65,46.59 399.31,45.4 400.97,44.19 402.64,42.97 404.3,41.73 405.96,40.48 407.62,39.21 409.28,37.92 410.95,36.62 412.61,35.3 414.27,33.96 415.93,32.6 417.59,31.22 419.26,29.83 420.92,28.42 422.58,26.99 424.24,25.54 425.9,24.07 427.57,22.58 429.23,21.08 430.89,19.55 432.55,18 434.21,16.43 435.88,14.84 437.54,13.23 439.2,11.6" fill="none" stroke="#454545" stroke-width="1.05" stroke-linejoin="round" stroke-linecap="round"/>
<path d="M273,26.55 273.83,26.54 274.66,26.54 275.49,26.53 276.32,26.52 277.15,26.52 277.99,26.51 278.82,26.51 279.65,26.5 280.48,26.49 281.31,26.49 282.14,26.48 282.97,26.47 283.8,26.47 284.63,26.46 285.46,26.45 286.3,26.45 287.13,26.44 287.96,26.44 288.79,26.43 289.62,26.42 290.45,26.42 291.28,26.41 292.11,26.4 292.94,26.4 293.77,26.39 294.61,26.38 295.44,26.38 296.27,26.37 297.1,26.36 297.93,26.36 298.76,26.35 299.59,26.34 300.42,26.34 301.25,26.33 302.08,26.32 302.92,26.31 303.75,26.31 304.58,26.3 305.41,26.29 306.24,26.29 307.07,26.28 307.9,26.27 308.73,26.26 309.56,26.26 310.39,26.25 311.23,26.24 312.06,26.23 312.89,26.23 313.72,26.22 314.55,26.21 315.38,26.2 316.21,26.19 317.04,26.19 317.87,26.18 318.7,26.17 319.54,26.16 320.37,26.15 321.2,26.15 322.03,26.14 322.86,26.13 323.69,26.12 324.52,26.11 325.35,26.1 326.18,26.09 327.01,26.08 327.85,26.07 328.68,26.06 329.51,26.05 330.34,26.04 331.17,26.03 332,26.02 332.83,26.01 333.66,26 334.49,25.99 335.32,25.98 336.16,25.97 336.99,25.96 337.82,25.95 338.65,25.94 339.48,25.92 340.31,25.91 341.14,25.9 341.97,25.89 342.8,25.87 343.63,25.86 344.47,25.85 345.3,25.83 346.13,25.82 346.96,25.81 347.79,25.79 348.62,25.78 349.45,25.76 350.28,25.75 351.11,25.73 351.94,25.71 352.78,25.7 353.61,25.68 354.44,25.66 355.27,25.64 356.1,25.63 356.93,25.61 357.76,25.59 358.59,25.57 359.42,25.55 360.25,25.53 361.09,25.51 361.92,25.48 362.75,25.46 363.58,25.44 364.41,25.41 365.24,25.39 366.07,25.36 366.9,25.34 367.73,25.31 368.56,25.28 369.4,25.25 370.23,25.22 371.06,25.19 371.89,25.16 372.72,25.13 373.55,25.1 374.38,25.06 375.21,25.03 376.04,24.99 376.88,24.95 377.71,24.92 378.54,24.88 379.37,24.84 380.2,24.79 381.03,24.75 381.86,24.7 382.69,24.66 383.52,24.61 384.35,24.56 385.19,24.51 386.02,24.45 386.85,24.4 387.68,24.34 388.51,24.28 389.34,24.22 390.17,24.16 391,24.1 391.83,24.03 392.66,23.96 393.5,23.89 394.33,23.81 395.16,23.74 395.99,23.66 396.82,23.58 397.65,23.49 398.48,23.4 399.31,23.31 400.14,23.22 400.97,23.12 401.81,23.02 402.64,22.91 403.47,22.81 404.3,22.69 405.13,22.58 405.96,22.46 406.79,22.33 407.62,22.2 408.45,22.07 409.28,21.93 410.12,21.79 410.95,21.64 411.78,21.49 412.61,21.33 413.44,21.16 414.27,20.99 415.1,20.81 415.93,20.63 416.76,20.44 417.59,20.24 418.43,20.04 419.26,19.83 420.09,19.61 420.92,19.38 421.75,19.14 422.58,18.9 423.41,18.64 424.24,18.38 425.07,18.11 425.9,17.83 426.74,17.53 427.57,17.23 428.4,16.92 429.23,16.59 430.06,16.25 430.89,15.9 431.72,15.54 432.55,15.16 433.38,14.77 434.21,14.37 435.05,13.95 435.88,13.51 436.71,13.06 437.54,12.59 438.37,12.1 439.2,11.6" fill="none" stroke="#3b7cc8" stroke-width="1.2" stroke-linejoin="round" stroke-linecap="round"/>
<path d="M273,52.49 273.83,52.49 274.66,52.49 275.49,52.49 276.32,52.48 277.15,52.48 277.99,52.48 278.82,52.47 279.65,52.47 280.48,52.46 281.31,52.46 282.14,52.46 282.97,52.45 283.8,52.45 284.63,52.44 285.46,52.44 286.3,52.44 287.13,52.43 287.96,52.43 288.79,52.42 289.62,52.42 290.45,52.41 291.28,52.41 292.11,52.4 292.94,52.39 293.77,52.39 294.61,52.38 295.44,52.38 296.27,52.37 297.1,52.36 297.93,52.36 298.76,52.35 299.59,52.34 300.42,52.33 301.25,52.33 302.08,52.32 302.92,52.31 303.75,52.3 304.58,52.29 305.41,52.28 306.24,52.27 307.07,52.26 307.9,52.25 308.73,52.24 309.56,52.23 310.39,52.22 311.23,52.21 312.06,52.2 312.89,52.19 313.72,52.18 314.55,52.16 315.38,52.15 316.21,52.14 317.04,52.12 317.87,52.11 318.7,52.09 319.54,52.08 320.37,52.06 321.2,52.05 322.03,52.03 322.86,52.01 323.69,51.99 324.52,51.98 325.35,51.96 326.18,51.94 327.01,51.92 327.85,51.9 328.68,51.88 329.51,51.85 330.34,51.83 331.17,51.81 332,51.78 332.83,51.76 333.66,51.73 334.49,51.71 335.32,51.68 336.16,51.65 336.99,51.62 337.82,51.59 338.65,51.56 339.48,51.53 340.31,51.5 341.14,51.46 341.97,51.43 342.8,51.39 343.63,51.36 344.47,51.32 345.3,51.28 346.13,51.24 346.96,51.2 347.79,51.15 348.62,51.11 349.45,51.06 350.28,51.02 351.11,50.97 351.94,50.92 352.78,50.87 353.61,50.81 354.44,50.76 355.27,50.7 356.1,50.64 356.93,50.58 357.76,50.52 358.59,50.46 359.42,50.39 360.25,50.32 361.09,50.25 361.92,50.18 362.75,50.11 363.58,50.03 364.41,49.95 365.24,49.87 366.07,49.78 366.9,49.7 367.73,49.61 368.56,49.52 369.4,49.42 370.23,49.32 371.06,49.22 371.89,49.12 372.72,49.01 373.55,48.9 374.38,48.79 375.21,48.67 376.04,48.55 376.88,48.42 377.71,48.29 378.54,48.16 379.37,48.02 380.2,47.88 381.03,47.74 381.86,47.59 382.69,47.43 383.52,47.27 384.35,47.11 385.19,46.94 386.02,46.76 386.85,46.58 387.68,46.4 388.51,46.2 389.34,46.01 390.17,45.8 391,45.59 391.83,45.38 392.66,45.15 393.5,44.92 394.33,44.69 395.16,44.44 395.99,44.19 396.82,43.93 397.65,43.66 398.48,43.38 399.31,43.1 400.14,42.81 400.97,42.5 401.81,42.19 402.64,41.87 403.47,41.54 404.3,41.2 405.13,40.84 405.96,40.48 406.79,40.11 407.62,39.72 408.45,39.32 409.28,38.91 410.12,38.49 410.95,38.05 411.78,37.6 412.61,37.14 413.44,36.66 414.27,36.16 415.1,35.66 415.93,35.13 416.76,34.59 417.59,34.03 418.43,33.46 419.26,32.87 420.09,32.26 420.92,31.63 421.75,30.98 422.58,30.31 423.41,29.62 424.24,28.91 425.07,28.18 425.9,27.42 426.74,26.64 427.57,25.84 428.4,25.01 429.23,24.16 430.06,23.28 430.89,22.37 431.72,21.44 432.55,20.47 433.38,19.48 434.21,18.45 435.05,17.39 435.88,16.31 436.71,15.18 437.54,14.02 438.37,12.83 439.2,11.6" fill="none" stroke="#3b7cc8" stroke-width="1.2" stroke-linejoin="round" stroke-linecap="round"/>
<path d="M273,85.08 273.83,85.08 274.66,85.08 275.49,85.07 276.32,85.07 277.15,85.07 277.99,85.06 278.82,85.06 279.65,85.06 280.48,85.05 281.31,85.05 282.14,85.04 282.97,85.04 283.8,85.03 284.63,85.03 285.46,85.02 286.3,85.02 287.13,85.01 287.96,85.01 288.79,85 289.62,85 290.45,84.99 291.28,84.99 292.11,84.98 292.94,84.97 293.77,84.97 294.61,84.96 295.44,84.95 296.27,84.94 297.1,84.94 297.93,84.93 298.76,84.92 299.59,84.91 300.42,84.9 301.25,84.89 302.08,84.88 302.92,84.87 303.75,84.86 304.58,84.85 305.41,84.84 306.24,84.83 307.07,84.82 307.9,84.81 308.73,84.79 309.56,84.78 310.39,84.77 311.23,84.75 312.06,84.74 312.89,84.72 313.72,84.71 314.55,84.69 315.38,84.68 316.21,84.66 317.04,84.64 317.87,84.62 318.7,84.61 319.54,84.59 320.37,84.57 321.2,84.55 322.03,84.52 322.86,84.5 323.69,84.48 324.52,84.46 325.35,84.43 326.18,84.41 327.01,84.38 327.85,84.35 328.68,84.32 329.51,84.3 330.34,84.27 331.17,84.23 332,84.2 332.83,84.17 333.66,84.14 334.49,84.1 335.32,84.06 336.16,84.03 336.99,83.99 337.82,83.95 338.65,83.9 339.48,83.86 340.31,83.82 341.14,83.77 341.97,83.72 342.8,83.67 343.63,83.62 344.47,83.57 345.3,83.51 346.13,83.46 346.96,83.4 347.79,83.34 348.62,83.27 349.45,83.21 350.28,83.14 351.11,83.07 351.94,83 352.78,82.93 353.61,82.85 354.44,82.77 355.27,82.69 356.1,82.61 356.93,82.52 357.76,82.43 358.59,82.33 359.42,82.24 360.25,82.14 361.09,82.03 361.92,81.93 362.75,81.82 363.58,81.7 364.41,81.58 365.24,81.46 366.07,81.33 366.9,81.2 367.73,81.07 368.56,80.93 369.4,80.78 370.23,80.63 371.06,80.48 371.89,80.32 372.72,80.15 373.55,79.98 374.38,79.8 375.21,79.62 376.04,79.43 376.88,79.23 377.71,79.03 378.54,78.82 379.37,78.6 380.2,78.38 381.03,78.15 381.86,77.91 382.69,77.66 383.52,77.4 384.35,77.14 385.19,76.87 386.02,76.58 386.85,76.29 387.68,75.99 388.51,75.67 389.34,75.35 390.17,75.01 391,74.67 391.83,74.31 392.66,73.94 393.5,73.55 394.33,73.16 395.16,72.75 395.99,72.32 396.82,71.88 397.65,71.43 398.48,70.96 399.31,70.48 400.14,69.98 400.97,69.46 401.81,68.92 402.64,68.37 403.47,67.79 404.3,67.2 405.13,66.59 405.96,65.95 406.79,65.3 407.62,64.62 408.45,63.92 409.28,63.19 410.12,62.44 410.95,61.66 411.78,60.86 412.61,60.03 413.44,59.17 414.27,58.29 415.1,57.37 415.93,56.42 416.76,55.44 417.59,54.43 418.43,53.38 419.26,52.29 420.09,51.17 420.92,50.01 421.75,48.81 422.58,47.57 423.41,46.28 424.24,44.96 425.07,43.58 425.9,42.17 426.74,40.7 427.57,39.18 428.4,37.61 429.23,35.99 430.06,34.31 430.89,32.57 431.72,30.78 432.55,28.92 433.38,27 434.21,25.02 435.05,22.96 435.88,20.84 436.71,18.65 437.54,16.38 438.37,14.03 439.2,11.6" fill="none" stroke="#3b7cc8" stroke-width="1.2" stroke-linejoin="round" stroke-linecap="round"/>
<path d="M273,114.88 273.83,114.87 274.66,114.86 275.49,114.86 276.32,114.85 277.15,114.84 277.99,114.84 278.82,114.83 279.65,114.82 280.48,114.81 281.31,114.8 282.14,114.8 282.97,114.79 283.8,114.78 284.63,114.77 285.46,114.76 286.3,114.75 287.13,114.74 287.96,114.73 288.79,114.72 289.62,114.7 290.45,114.69 291.28,114.68 292.11,114.67 292.94,114.65 293.77,114.64 294.61,114.63 295.44,114.61 296.27,114.6 297.1,114.58 297.93,114.57 298.76,114.55 299.59,114.53 300.42,114.52 301.25,114.5 302.08,114.48 302.92,114.46 303.75,114.44 304.58,114.42 305.41,114.4 306.24,114.38 307.07,114.36 307.9,114.33 308.73,114.31 309.56,114.29 310.39,114.26 311.23,114.24 312.06,114.21 312.89,114.18 313.72,114.15 314.55,114.12 315.38,114.09 316.21,114.06 317.04,114.03 317.87,114 318.7,113.96 319.54,113.93 320.37,113.89 321.2,113.85 322.03,113.81 322.86,113.77 323.69,113.73 324.52,113.69 325.35,113.65 326.18,113.6 327.01,113.55 327.85,113.51 328.68,113.46 329.51,113.4 330.34,113.35 331.17,113.3 332,113.24 332.83,113.18 333.66,113.12 334.49,113.06 335.32,113 336.16,112.93 336.99,112.86 337.82,112.79 338.65,112.72 339.48,112.64 340.31,112.57 341.14,112.49 341.97,112.4 342.8,112.32 343.63,112.23 344.47,112.14 345.3,112.05 346.13,111.95 346.96,111.85 347.79,111.75 348.62,111.65 349.45,111.54 350.28,111.42 351.11,111.31 351.94,111.19 352.78,111.06 353.61,110.94 354.44,110.81 355.27,110.67 356.1,110.53 356.93,110.39 357.76,110.24 358.59,110.08 359.42,109.93 360.25,109.76 361.09,109.59 361.92,109.42 362.75,109.24 363.58,109.05 364.41,108.86 365.24,108.67 366.07,108.46 366.9,108.25 367.73,108.04 368.56,107.81 369.4,107.58 370.23,107.34 371.06,107.1 371.89,106.84 372.72,106.58 373.55,106.31 374.38,106.04 375.21,105.75 376.04,105.45 376.88,105.15 377.71,104.83 378.54,104.51 379.37,104.17 380.2,103.82 381.03,103.47 381.86,103.1 382.69,102.72 383.52,102.33 384.35,101.92 385.19,101.5 386.02,101.07 386.85,100.63 387.68,100.17 388.51,99.7 389.34,99.21 390.17,98.7 391,98.18 391.83,97.65 392.66,97.1 393.5,96.52 394.33,95.94 395.16,95.33 395.99,94.7 396.82,94.05 397.65,93.39 398.48,92.7 399.31,91.99 400.14,91.26 400.97,90.5 401.81,89.72 402.64,88.91 403.47,88.08 404.3,87.23 405.13,86.34 405.96,85.43 406.79,84.49 407.62,83.52 408.45,82.52 409.28,81.48 410.12,80.42 410.95,79.32 411.78,78.18 412.61,77.01 413.44,75.8 414.27,74.55 415.1,73.27 415.93,71.94 416.76,70.57 417.59,69.16 418.43,67.7 419.26,66.2 420.09,64.65 420.92,63.05 421.75,61.39 422.58,59.69 423.41,57.93 424.24,56.12 425.07,54.25 425.9,52.32 426.74,50.32 427.57,48.27 428.4,46.15 429.23,43.96 430.06,41.7 430.89,39.37 431.72,36.97 432.55,34.49 433.38,31.93 434.21,29.29 435.05,26.57 435.88,23.76 436.71,20.86 437.54,17.87 438.37,14.78 439.2,11.6" fill="none" stroke="#3b7cc8" stroke-width="1.2" stroke-linejoin="round" stroke-linecap="round"/>
<path d="M273,129.06 273.83,129.04 274.66,129.02 275.49,129 276.32,128.98 277.15,128.96 277.99,128.93 278.82,128.91 279.65,128.89 280.48,128.87 281.31,128.85 282.14,128.83 282.97,128.8 283.8,128.78 284.63,128.76 285.46,128.74 286.3,128.71 287.13,128.69 287.96,128.66 288.79,128.64 289.62,128.62 290.45,128.59 291.28,128.56 292.11,128.54 292.94,128.51 293.77,128.49 294.61,128.46 295.44,128.43 296.27,128.4 297.1,128.37 297.93,128.34 298.76,128.31 299.59,128.28 300.42,128.25 301.25,128.22 302.08,128.19 302.92,128.16 303.75,128.13 304.58,128.09 305.41,128.06 306.24,128.02 307.07,127.99 307.9,127.95 308.73,127.91 309.56,127.87 310.39,127.84 311.23,127.8 312.06,127.76 312.89,127.71 313.72,127.67 314.55,127.63 315.38,127.59 316.21,127.54 317.04,127.49 317.87,127.45 318.7,127.4 319.54,127.35 320.37,127.3 321.2,127.25 322.03,127.19 322.86,127.14 323.69,127.08 324.52,127.03 325.35,126.97 326.18,126.91 327.01,126.85 327.85,126.78 328.68,126.72 329.51,126.65 330.34,126.59 331.17,126.52 332,126.44 332.83,126.37 333.66,126.3 334.49,126.22 335.32,126.14 336.16,126.06 336.99,125.97 337.82,125.89 338.65,125.8 339.48,125.71 340.31,125.61 341.14,125.52 341.97,125.42 342.8,125.32 343.63,125.21 344.47,125.11 345.3,124.99 346.13,124.88 346.96,124.76 347.79,124.64 348.62,124.52 349.45,124.39 350.28,124.26 351.11,124.13 351.94,123.99 352.78,123.85 353.61,123.7 354.44,123.55 355.27,123.39 356.1,123.23 356.93,123.06 357.76,122.89 358.59,122.72 359.42,122.54 360.25,122.35 361.09,122.16 361.92,121.96 362.75,121.76 363.58,121.55 364.41,121.33 365.24,121.11 366.07,120.88 366.9,120.64 367.73,120.4 368.56,120.15 369.4,119.89 370.23,119.62 371.06,119.35 371.89,119.06 372.72,118.77 373.55,118.47 374.38,118.16 375.21,117.84 376.04,117.51 376.88,117.17 377.71,116.81 378.54,116.45 379.37,116.08 380.2,115.69 381.03,115.29 381.86,114.88 382.69,114.46 383.52,114.02 384.35,113.57 385.19,113.11 386.02,112.63 386.85,112.13 387.68,111.62 388.51,111.09 389.34,110.55 390.17,109.99 391,109.41 391.83,108.82 392.66,108.2 393.5,107.56 394.33,106.91 395.16,106.23 395.99,105.53 396.82,104.81 397.65,104.07 398.48,103.3 399.31,102.51 400.14,101.69 400.97,100.85 401.81,99.98 402.64,99.08 403.47,98.15 404.3,97.2 405.13,96.21 405.96,95.19 406.79,94.14 407.62,93.05 408.45,91.93 409.28,90.77 410.12,89.58 410.95,88.34 411.78,87.07 412.61,85.76 413.44,84.4 414.27,83 415.1,81.56 415.93,80.07 416.76,78.53 417.59,76.94 418.43,75.3 419.26,73.6 420.09,71.86 420.92,70.05 421.75,68.19 422.58,66.26 423.41,64.28 424.24,62.23 425.07,60.11 425.9,57.93 426.74,55.67 427.57,53.35 428.4,50.94 429.23,48.46 430.06,45.9 430.89,43.25 431.72,40.52 432.55,37.7 433.38,34.79 434.21,31.79 435.05,28.69 435.88,25.48 436.71,22.18 437.54,18.76 438.37,15.24 439.2,11.6" fill="none" stroke="#3b7cc8" stroke-width="1.2" stroke-linejoin="round" stroke-linecap="round"/>
<rect x="273.0" y="10.0" width="166.60000000000002" height="133.4" fill="none" stroke="#1e1e1e" stroke-width="1.4"/>
<line x1="273" y1="143.4" x2="273" y2="140.4" stroke="#1e1e1e" stroke-width="1.1" />
<text x="273" y="153.1" font-size="9.3" text-anchor="middle" fill="#3a3a3a" font-family='"Liberation Sans", sans-serif' font-weight="normal"  stroke="#3a3a3a" stroke-width="0.2">−5</text>
<line x1="306.24" y1="143.4" x2="306.24" y2="140.4" stroke="#1e1e1e" stroke-width="1.1" />
<text x="306.24" y="153.1" font-size="9.3" text-anchor="middle" fill="#3a3a3a" font-family='"Liberation Sans", sans-serif' font-weight="normal"  stroke="#3a3a3a" stroke-width="0.2">−4</text>
<line x1="339.48" y1="143.4" x2="339.48" y2="140.4" stroke="#1e1e1e" stroke-width="1.1" />
<text x="339.48" y="153.1" font-size="9.3" text-anchor="middle" fill="#3a3a3a" font-family='"Liberation Sans", sans-serif' font-weight="normal"  stroke="#3a3a3a" stroke-width="0.2">−3</text>
<line x1="372.72" y1="143.4" x2="372.72" y2="140.4" stroke="#1e1e1e" stroke-width="1.1" />
<text x="372.72" y="153.1" font-size="9.3" text-anchor="middle" fill="#3a3a3a" font-family='"Liberation Sans", sans-serif' font-weight="normal"  stroke="#3a3a3a" stroke-width="0.2">−2</text>
<line x1="405.96" y1="143.4" x2="405.96" y2="140.4" stroke="#1e1e1e" stroke-width="1.1" />
<text x="405.96" y="153.1" font-size="9.3" text-anchor="middle" fill="#3a3a3a" font-family='"Liberation Sans", sans-serif' font-weight="normal"  stroke="#3a3a3a" stroke-width="0.2">−1</text>
<line x1="439.2" y1="143.4" x2="439.2" y2="140.4" stroke="#1e1e1e" stroke-width="1.1" />
<text x="439.2" y="153.1" font-size="9.3" text-anchor="middle" fill="#3a3a3a" font-family='"Liberation Sans", sans-serif' font-weight="normal"  stroke="#3a3a3a" stroke-width="0.2">0</text>
<line x1="273" y1="11.6" x2="276" y2="11.6" stroke="#1e1e1e" stroke-width="1.1" />
<text x="270.3" y="14.3" font-size="9.3" text-anchor="end" fill="#3a3a3a" font-family='"Liberation Sans", sans-serif' font-weight="normal"  stroke="#3a3a3a" stroke-width="0.2">0.0</text>
<line x1="273" y1="36.9" x2="276" y2="36.9" stroke="#1e1e1e" stroke-width="1.1" />
<text x="270.3" y="39.6" font-size="9.3" text-anchor="end" fill="#3a3a3a" font-family='"Liberation Sans", sans-serif' font-weight="normal"  stroke="#3a3a3a" stroke-width="0.2">−0.5</text>
<line x1="273" y1="62.2" x2="276" y2="62.2" stroke="#1e1e1e" stroke-width="1.1" />
<text x="270.3" y="64.9" font-size="9.3" text-anchor="end" fill="#3a3a3a" font-family='"Liberation Sans", sans-serif' font-weight="normal"  stroke="#3a3a3a" stroke-width="0.2">−1.0</text>
<line x1="273" y1="87.5" x2="276" y2="87.5" stroke="#1e1e1e" stroke-width="1.1" />
<text x="270.3" y="90.2" font-size="9.3" text-anchor="end" fill="#3a3a3a" font-family='"Liberation Sans", sans-serif' font-weight="normal"  stroke="#3a3a3a" stroke-width="0.2">−1.5</text>
<line x1="273" y1="112.8" x2="276" y2="112.8" stroke="#1e1e1e" stroke-width="1.1" />
<text x="270.3" y="115.5" font-size="9.3" text-anchor="end" fill="#3a3a3a" font-family='"Liberation Sans", sans-serif' font-weight="normal"  stroke="#3a3a3a" stroke-width="0.2">−2.0</text>
<line x1="273" y1="138.1" x2="276" y2="138.1" stroke="#1e1e1e" stroke-width="1.1" />
<text x="270.3" y="140.8" font-size="9.3" text-anchor="end" fill="#3a3a3a" font-family='"Liberation Sans", sans-serif' font-weight="normal"  stroke="#3a3a3a" stroke-width="0.2">−2.5</text>
<line x1="411.3" y1="93" x2="421.8" y2="93" stroke="#d85858" stroke-width="1.3" opacity="0.8"/>
<text x="424" y="96" font-size="8.4" text-anchor="start" fill="#3a3a3a" font-family='"Liberation Sans", sans-serif' font-weight="normal"  stroke="#3a3a3a" stroke-width="0.08">TG</text>
<line x1="411.3" y1="103.25" x2="421.8" y2="103.25" stroke="#454545" stroke-width="1.3" opacity="0.8"/>
<text x="424" y="106.25" font-size="8.4" text-anchor="start" fill="#3a3a3a" font-family='"Liberation Sans", sans-serif' font-weight="normal"  stroke="#3a3a3a" stroke-width="0.08">BG</text>
<line x1="411.3" y1="113.5" x2="421.8" y2="113.5" stroke="#3b7cc8" stroke-width="1.3" opacity="0.8"/>
<text x="424" y="116.5" font-size="8.4" text-anchor="start" fill="#3a3a3a" font-family='"Liberation Sans", sans-serif' font-weight="normal"  stroke="#3a3a3a" stroke-width="0.08">DG</text>
<text x="436.6" y="127.2" font-size="8.2" text-anchor="end" fill="#3a3a3a" font-family='"Liberation Sans", sans-serif' stroke="#3a3a3a" stroke-width="0.08"><tspan font-style="italic">V</tspan><tspan font-size="5.4" dy="1.8">G</tspan><tspan dy="-1.8"> : 0 V ~ -8 V</tspan></text>
<text x="436.6" y="138.8" font-size="8.2" text-anchor="end" fill="#3a3a3a" font-family='"Liberation Sans", sans-serif' font-weight="normal"  stroke="#3a3a3a" stroke-width="0.08">Step : 2 V</text>
<text x="356.2" y="169.1" font-size="10.1" text-anchor="middle" fill="#3a3a3a" font-family='"Liberation Sans", sans-serif' font-weight="normal"  stroke="#3a3a3a" stroke-width="0.2">Drain Voltage (V)</text>
<text x="0" y="0" font-size="10.2" text-anchor="middle" fill="#3a3a3a" font-family='"Liberation Sans", sans-serif' transform="translate(246.8,74.4) rotate(-90)" dy="3.65"  stroke="#3a3a3a" stroke-width="0.2">Drain Current (μA)</text>
<text x="232" y="19" font-size="12.4" text-anchor="start" fill="#222" font-family='"Liberation Serif", serif' font-weight="bold" stroke="none" letter-spacing="0.45">(b)</text>
<line x1="518.6" y1="11.5" x2="518.6" y2="146" stroke="#888888" stroke-width="0.9" stroke-dasharray="2.6,2.2"/>
<line x1="574.4" y1="11.5" x2="574.4" y2="146" stroke="#e07a7a" stroke-width="0.9" stroke-dasharray="2.6,2.2"/>
<line x1="630.5" y1="11.5" x2="630.5" y2="146" stroke="#4a8ad6" stroke-width="0.9" stroke-dasharray="2.6,2.2"/>
<polyline points="518.6,34.64 574.4,65.36 630.5,134.48" fill="none" stroke="#7e2a8e" stroke-width="1.15"/>
<polyline points="518.6,133.68 574.4,117.67 630.5,25.98" fill="none" stroke="#3ca469" stroke-width="1.15"/>
<rect x="517" y="33.04" width="3.2" height="3.2" fill="#7e2a8e"/>
<rect x="572.8" y="63.76" width="3.2" height="3.2" fill="#7e2a8e"/>
<rect x="628.9" y="132.88" width="3.2" height="3.2" fill="#7e2a8e"/>
<circle cx="518.6" cy="133.68" r="1.75" fill="#3ca469"/>
<circle cx="574.4" cy="117.67" r="1.75" fill="#3ca469"/>
<circle cx="630.5" cy="25.98" r="1.75" fill="#3ca469"/>
<line x1="491.5" y1="11.5" x2="658.4" y2="11.5" stroke="#4a4a4a" stroke-width="1.3" />
<line x1="491.5" y1="146" x2="658.4" y2="146" stroke="#3a3a3a" stroke-width="1.3" />
<line x1="491.5" y1="10.8" x2="491.5" y2="146.7" stroke="#7e2a8e" stroke-width="1.4" />
<line x1="658.4" y1="10.8" x2="658.4" y2="146.7" stroke="#3ca469" stroke-width="1.4" />
<line x1="491.5" y1="11.6" x2="494.5" y2="11.6" stroke="#7e2a8e" stroke-width="1.1" />
<text x="488.3" y="14.65" font-size="9.3" text-anchor="end" fill="#873a96" font-family='"Liberation Sans", sans-serif' font-weight="normal"  stroke="#873a96" stroke-width="0.2">3.5</text>
<line x1="491.5" y1="30.8" x2="493.3" y2="30.8" stroke="#7e2a8e" stroke-width="1.1" />
<line x1="491.5" y1="50" x2="494.5" y2="50" stroke="#7e2a8e" stroke-width="1.1" />
<text x="488.3" y="53.05" font-size="9.3" text-anchor="end" fill="#873a96" font-family='"Liberation Sans", sans-serif' font-weight="normal"  stroke="#873a96" stroke-width="0.2">3.0</text>
<line x1="491.5" y1="69.2" x2="493.3" y2="69.2" stroke="#7e2a8e" stroke-width="1.1" />
<line x1="491.5" y1="88.4" x2="494.5" y2="88.4" stroke="#7e2a8e" stroke-width="1.1" />
<text x="488.3" y="91.45" font-size="9.3" text-anchor="end" fill="#873a96" font-family='"Liberation Sans", sans-serif' font-weight="normal"  stroke="#873a96" stroke-width="0.2">2.5</text>
<line x1="491.5" y1="107.6" x2="493.3" y2="107.6" stroke="#7e2a8e" stroke-width="1.1" />
<line x1="491.5" y1="126.8" x2="494.5" y2="126.8" stroke="#7e2a8e" stroke-width="1.1" />
<text x="488.3" y="129.85" font-size="9.3" text-anchor="end" fill="#873a96" font-family='"Liberation Sans", sans-serif' font-weight="normal"  stroke="#873a96" stroke-width="0.2">2.0</text>
<line x1="655.4" y1="145.3" x2="658.4" y2="145.3" stroke="#3ca469" stroke-width="1.1" />
<text x="661.4" y="148.2" font-size="9.3" text-anchor="start" fill="#3ca469" font-family='"Liberation Sans", sans-serif' font-weight="normal"  stroke="#3ca469" stroke-width="0.2">0</text>
<line x1="656.6" y1="129.6" x2="658.4" y2="129.6" stroke="#3ca469" stroke-width="1.1" />
<line x1="655.4" y1="113.9" x2="658.4" y2="113.9" stroke="#3ca469" stroke-width="1.1" />
<text x="661.4" y="116.8" font-size="9.3" text-anchor="start" fill="#3ca469" font-family='"Liberation Sans", sans-serif' font-weight="normal"  stroke="#3ca469" stroke-width="0.2">1</text>
<line x1="656.6" y1="98.2" x2="658.4" y2="98.2" stroke="#3ca469" stroke-width="1.1" />
<line x1="655.4" y1="82.5" x2="658.4" y2="82.5" stroke="#3ca469" stroke-width="1.1" />
<text x="661.4" y="85.4" font-size="9.3" text-anchor="start" fill="#3ca469" font-family='"Liberation Sans", sans-serif' font-weight="normal"  stroke="#3ca469" stroke-width="0.2">2</text>
<line x1="656.6" y1="66.8" x2="658.4" y2="66.8" stroke="#3ca469" stroke-width="1.1" />
<line x1="655.4" y1="51.1" x2="658.4" y2="51.1" stroke="#3ca469" stroke-width="1.1" />
<text x="661.4" y="54" font-size="9.3" text-anchor="start" fill="#3ca469" font-family='"Liberation Sans", sans-serif' font-weight="normal"  stroke="#3ca469" stroke-width="0.2">3</text>
<line x1="656.6" y1="35.4" x2="658.4" y2="35.4" stroke="#3ca469" stroke-width="1.1" />
<line x1="655.4" y1="19.7" x2="658.4" y2="19.7" stroke="#3ca469" stroke-width="1.1" />
<text x="661.4" y="22.6" font-size="9.3" text-anchor="start" fill="#3ca469" font-family='"Liberation Sans", sans-serif' font-weight="normal"  stroke="#3ca469" stroke-width="0.2">4</text>
<line x1="518.6" y1="146" x2="518.6" y2="143" stroke="#333" stroke-width="1.1" />
<line x1="574.4" y1="146" x2="574.4" y2="143" stroke="#333" stroke-width="1.1" />
<line x1="630.5" y1="146" x2="630.5" y2="143" stroke="#333" stroke-width="1.1" />
<text x="518.6" y="156.8" font-size="9.8" text-anchor="middle" fill="#5a5a5a" font-family='"Liberation Sans", sans-serif' font-weight="normal"  stroke="#5a5a5a" stroke-width="0.2">TG</text>
<text x="574.4" y="156.8" font-size="9.8" text-anchor="middle" fill="#d45a5a" font-family='"Liberation Sans", sans-serif' font-weight="normal"  stroke="#d45a5a" stroke-width="0.2">BG</text>
<text x="630.5" y="156.8" font-size="9.8" text-anchor="middle" fill="#3f7fc6" font-family='"Liberation Sans", sans-serif' font-weight="normal"  stroke="#3f7fc6" stroke-width="0.2">DG</text>
<text x="0" y="0" font-size="10.1" text-anchor="middle" fill="#7e2a8e" font-family='"Liberation Sans", sans-serif' transform="translate(466.4,78.5) rotate(-90)" dy="3.62"  stroke="#7e2a8e" stroke-width="0.2">SS (V/dec.)</text>
<text x="0" y="0" font-size="9.4" font-weight="bold" stroke="none" text-anchor="middle" fill="#3ca469" font-family='"Liberation Sans", sans-serif' transform="translate(673.2,80.0) rotate(90)" dy="3.4">mobility (cm<tspan font-size="6.6" dy="-3.4">2</tspan><tspan dy="3.4">/Vs)</tspan></text>
<text x="453.8" y="19" font-size="12.4" text-anchor="start" fill="#222" font-family='"Liberation Serif", serif' font-weight="bold" stroke="none" letter-spacing="0.45">(c)</text>
<path d="M151.2,205.7 152.2,205.75 153.21,205.82 154.21,205.9 155.21,206 156.22,206.11 157.22,206.23 158.22,206.36 159.23,206.51 160.23,206.67 161.23,206.84 162.24,207.02 163.24,207.22 164.24,207.42 165.25,207.64 166.25,207.87 167.25,208.12 168.26,208.37 169.26,208.64 170.26,208.92 171.27,209.21 172.27,209.51 173.27,209.82 174.28,210.14 175.28,210.48 176.28,210.82 177.29,211.18 178.29,211.55 179.29,211.92 180.3,212.31 181.3,212.71 182.3,213.12 183.31,213.54 184.31,213.97 185.31,214.41 186.32,214.86 187.32,215.32 188.32,215.78 189.33,216.26 190.33,216.75 191.34,217.25 192.34,217.75 193.34,218.27 194.35,218.79 195.35,219.33 196.35,219.87 197.36,220.42 198.36,220.98 199.36,221.55 200.37,222.13 201.37,222.71 202.37,223.31 203.38,223.91 204.38,224.52 205.38,225.14 206.39,225.76 207.39,226.4 208.39,227.04 209.4,227.69 210.4,228.35 211.4,229.01 212.41,229.68 213.41,230.36 214.41,231.05 215.42,231.74 216.42,232.44 217.42,233.14 218.43,233.86 219.43,234.58 220.43,235.3 221.44,236.03 222.44,236.77 223.44,237.52 224.45,238.27 225.45,239.03 226.45,239.79 227.46,240.56 228.46,241.33 229.46,242.11 230.47,242.9 231.47,243.69 232.47,244.48 233.48,245.28 234.48,246.09 235.48,246.9 236.49,247.72 237.49,248.54 238.49,249.36 239.5,250.19 240.5,251.03 241.5,251.87 242.51,252.71 243.51,253.56 244.51,254.42 245.52,255.29 246.52,256.16 247.52,257.04 248.53,257.94 249.53,258.84 250.53,259.76 251.54,260.69 252.54,261.63 253.54,262.59 254.55,263.56 255.55,264.54 256.55,265.55 257.56,266.57 258.56,267.6 259.56,268.66 260.57,269.73 261.57,270.83 262.57,271.94 263.58,273.06 264.58,274.21 265.59,275.36 266.59,276.53 267.59,277.71 268.6,278.89 269.6,280.09 270.6,281.29 271.61,282.49 272.61,283.7 273.61,284.91 274.62,286.13 275.62,287.34 276.62,288.55 277.63,289.76 278.63,290.96 279.63,292.15 280.64,293.33 281.64,294.49 282.64,295.64 283.65,296.77 284.65,297.88 285.65,298.96 286.66,300.01 287.66,301.04 288.66,302.03 289.67,302.98 290.67,303.9 291.67,304.78 292.68,305.62 293.68,306.41 294.68,307.15 295.69,307.84 296.69,308.48 297.69,309.06 298.7,309.58 299.7,310.05" fill="none" stroke="#df5f5f" stroke-width="1.2" stroke-linejoin="round" stroke-linecap="round"/>
<path d="M151.2,202.66 152.2,202.77 153.21,202.89 154.21,203.01 155.21,203.14 156.22,203.28 157.22,203.42 158.22,203.57 159.23,203.72 160.23,203.88 161.23,204.04 162.24,204.21 163.24,204.39 164.24,204.58 165.25,204.77 166.25,204.97 167.25,205.17 168.26,205.39 169.26,205.61 170.26,205.83 171.27,206.07 172.27,206.32 173.27,206.57 174.28,206.83 175.28,207.1 176.28,207.37 177.29,207.66 178.29,207.96 179.29,208.26 180.3,208.57 181.3,208.9 182.3,209.23 183.31,209.57 184.31,209.92 185.31,210.29 186.32,210.66 187.32,211.04 188.32,211.43 189.33,211.84 190.33,212.25 191.34,212.68 192.34,213.12 193.34,213.56 194.35,214.02 195.35,214.49 196.35,214.98 197.36,215.47 198.36,215.98 199.36,216.5 200.37,217.03 201.37,217.57 202.37,218.13 203.38,218.7 204.38,219.28 205.38,219.87 206.39,220.48 207.39,221.09 208.39,221.72 209.4,222.36 210.4,223.01 211.4,223.67 212.41,224.35 213.41,225.03 214.41,225.73 215.42,226.43 216.42,227.15 217.42,227.88 218.43,228.61 219.43,229.36 220.43,230.12 221.44,230.89 222.44,231.67 223.44,232.46 224.45,233.25 225.45,234.06 226.45,234.88 227.46,235.7 228.46,236.54 229.46,237.38 230.47,238.24 231.47,239.1 232.47,239.97 233.48,240.85 234.48,241.74 235.48,242.64 236.49,243.55 237.49,244.46 238.49,245.38 239.5,246.31 240.5,247.25 241.5,248.19 242.51,249.15 243.51,250.11 244.51,251.08 245.52,252.05 246.52,253.04 247.52,254.03 248.53,255.02 249.53,256.03 250.53,257.04 251.54,258.06 252.54,259.08 253.54,260.11 254.55,261.15 255.55,262.19 256.55,263.24 257.56,264.3 258.56,265.36 259.56,266.43 260.57,267.5 261.57,268.58 262.57,269.67 263.58,270.76 264.58,271.86 265.59,272.96 266.59,274.07 267.59,275.18 268.6,276.3 269.6,277.42 270.6,278.55 271.61,279.68 272.61,280.82 273.61,281.96 274.62,283.11 275.62,284.26 276.62,285.42 277.63,286.58 278.63,287.74 279.63,288.91 280.64,290.07 281.64,291.24 282.64,292.4 283.65,293.55 284.65,294.7 285.65,295.84 286.66,296.97 287.66,298.08 288.66,299.18 289.67,300.26 290.67,301.32 291.67,302.36 292.68,303.38 293.68,304.37 294.68,305.33 295.69,306.27 296.69,307.17 297.69,308.04 298.7,308.87 299.7,309.67" fill="none" stroke="#3f84d4" stroke-width="1.2" stroke-linejoin="round" stroke-linecap="round"/>
<path d="M151.2,200.09 152.2,200.09 153.21,200.1 154.21,200.12 155.21,200.15 156.22,200.2 157.22,200.25 158.22,200.32 159.23,200.39 160.23,200.48 161.23,200.58 162.24,200.69 163.24,200.81 164.24,200.94 165.25,201.08 166.25,201.24 167.25,201.4 168.26,201.58 169.26,201.77 170.26,201.96 171.27,202.17 172.27,202.39 173.27,202.63 174.28,202.87 175.28,203.12 176.28,203.39 177.29,203.66 178.29,203.95 179.29,204.25 180.3,204.56 181.3,204.88 182.3,205.21 183.31,205.55 184.31,205.9 185.31,206.26 186.32,206.64 187.32,207.03 188.32,207.42 189.33,207.83 190.33,208.25 191.34,208.68 192.34,209.12 193.34,209.57 194.35,210.04 195.35,210.51 196.35,211 197.36,211.49 198.36,212 199.36,212.52 200.37,213.05 201.37,213.59 202.37,214.14 203.38,214.7 204.38,215.27 205.38,215.86 206.39,216.45 207.39,217.06 208.39,217.68 209.4,218.3 210.4,218.94 211.4,219.59 212.41,220.25 213.41,220.93 214.41,221.61 215.42,222.3 216.42,223.01 217.42,223.72 218.43,224.45 219.43,225.19 220.43,225.94 221.44,226.7 222.44,227.47 223.44,228.25 224.45,229.04 225.45,229.84 226.45,230.66 227.46,231.48 228.46,232.32 229.46,233.17 230.47,234.03 231.47,234.9 232.47,235.78 233.48,236.67 234.48,237.57 235.48,238.48 236.49,239.4 237.49,240.34 238.49,241.29 239.5,242.24 240.5,243.21 241.5,244.19 242.51,245.18 243.51,246.18 244.51,247.18 245.52,248.2 246.52,249.23 247.52,250.27 248.53,251.31 249.53,252.37 250.53,253.43 251.54,254.5 252.54,255.58 253.54,256.67 254.55,257.76 255.55,258.86 256.55,259.97 257.56,261.08 258.56,262.2 259.56,263.33 260.57,264.46 261.57,265.6 262.57,266.74 263.58,267.88 264.58,269.03 265.59,270.19 266.59,271.35 267.59,272.51 268.6,273.68 269.6,274.85 270.6,276.02 271.61,277.19 272.61,278.37 273.61,279.55 274.62,280.73 275.62,281.91 276.62,283.1 277.63,284.28 278.63,285.47 279.63,286.65 280.64,287.84 281.64,289.02 282.64,290.21 283.65,291.39 284.65,292.58 285.65,293.76 286.66,294.94 287.66,296.12 288.66,297.3 289.67,298.47 290.67,299.65 291.67,300.81 292.68,301.98 293.68,303.14 294.68,304.3 295.69,305.46 296.69,306.61 297.69,307.76 298.7,308.9 299.7,310.03" fill="none" stroke="#48b487" stroke-width="1.2" stroke-linejoin="round" stroke-linecap="round"/>
<path d="M151.2,195.42 152.2,195.48 153.21,195.54 154.21,195.61 155.21,195.69 156.22,195.78 157.22,195.87 158.22,195.97 159.23,196.08 160.23,196.19 161.23,196.31 162.24,196.44 163.24,196.58 164.24,196.72 165.25,196.88 166.25,197.03 167.25,197.2 168.26,197.38 169.26,197.56 170.26,197.75 171.27,197.95 172.27,198.16 173.27,198.37 174.28,198.6 175.28,198.83 176.28,199.07 177.29,199.32 178.29,199.58 179.29,199.85 180.3,200.12 181.3,200.41 182.3,200.7 183.31,201 184.31,201.31 185.31,201.63 186.32,201.96 187.32,202.3 188.32,202.65 189.33,203.01 190.33,203.38 191.34,203.75 192.34,204.14 193.34,204.54 194.35,204.94 195.35,205.36 196.35,205.78 197.36,206.22 198.36,206.67 199.36,207.12 200.37,207.59 201.37,208.07 202.37,208.55 203.38,209.05 204.38,209.56 205.38,210.08 206.39,210.61 207.39,211.15 208.39,211.7 209.4,212.26 210.4,212.83 211.4,213.42 212.41,214.01 213.41,214.62 214.41,215.23 215.42,215.86 216.42,216.5 217.42,217.16 218.43,217.82 219.43,218.49 220.43,219.18 221.44,219.88 222.44,220.59 223.44,221.31 224.45,222.05 225.45,222.79 226.45,223.55 227.46,224.32 228.46,225.1 229.46,225.9 230.47,226.71 231.47,227.53 232.47,228.36 233.48,229.21 234.48,230.07 235.48,230.94 236.49,231.82 237.49,232.72 238.49,233.63 239.5,234.55 240.5,235.49 241.5,236.44 242.51,237.4 243.51,238.37 244.51,239.36 245.52,240.36 246.52,241.37 247.52,242.4 248.53,243.43 249.53,244.48 250.53,245.54 251.54,246.61 252.54,247.69 253.54,248.78 254.55,249.88 255.55,250.99 256.55,252.12 257.56,253.25 258.56,254.39 259.56,255.54 260.57,256.7 261.57,257.87 262.57,259.05 263.58,260.24 264.58,261.43 265.59,262.64 266.59,263.85 267.59,265.07 268.6,266.29 269.6,267.53 270.6,268.77 271.61,270.02 272.61,271.28 273.61,272.54 274.62,273.81 275.62,275.08 276.62,276.36 277.63,277.65 278.63,278.94 279.63,280.25 280.64,281.55 281.64,282.87 282.64,284.19 283.65,285.52 284.65,286.86 285.65,288.2 286.66,289.56 287.66,290.92 288.66,292.3 289.67,293.68 290.67,295.07 291.67,296.48 292.68,297.89 293.68,299.31 294.68,300.75 295.69,302.2 296.69,303.65 297.69,305.12 298.7,306.6 299.7,308.1" fill="none" stroke="#bf98e8" stroke-width="1.2" stroke-linejoin="round" stroke-linecap="round"/>
<path d="M151.2,190.51 152.2,190.54 153.21,190.58 154.21,190.62 155.21,190.67 156.22,190.73 157.22,190.8 158.22,190.87 159.23,190.95 160.23,191.04 161.23,191.13 162.24,191.23 163.24,191.34 164.24,191.46 165.25,191.58 166.25,191.71 167.25,191.85 168.26,192 169.26,192.15 170.26,192.32 171.27,192.49 172.27,192.66 173.27,192.85 174.28,193.05 175.28,193.25 176.28,193.46 177.29,193.68 178.29,193.91 179.29,194.15 180.3,194.39 181.3,194.65 182.3,194.91 183.31,195.18 184.31,195.46 185.31,195.75 186.32,196.05 187.32,196.36 188.32,196.68 189.33,197 190.33,197.34 191.34,197.69 192.34,198.04 193.34,198.4 194.35,198.78 195.35,199.16 196.35,199.56 197.36,199.96 198.36,200.37 199.36,200.8 200.37,201.23 201.37,201.68 202.37,202.13 203.38,202.59 204.38,203.07 205.38,203.56 206.39,204.05 207.39,204.56 208.39,205.08 209.4,205.6 210.4,206.14 211.4,206.69 212.41,207.25 213.41,207.82 214.41,208.41 215.42,209 216.42,209.61 217.42,210.22 218.43,210.85 219.43,211.49 220.43,212.14 221.44,212.81 222.44,213.48 223.44,214.17 224.45,214.87 225.45,215.58 226.45,216.3 227.46,217.03 228.46,217.78 229.46,218.54 230.47,219.31 231.47,220.09 232.47,220.89 233.48,221.7 234.48,222.52 235.48,223.35 236.49,224.2 237.49,225.06 238.49,225.93 239.5,226.82 240.5,227.71 241.5,228.62 242.51,229.55 243.51,230.49 244.51,231.44 245.52,232.4 246.52,233.38 247.52,234.37 248.53,235.38 249.53,236.4 250.53,237.43 251.54,238.47 252.54,239.53 253.54,240.61 254.55,241.69 255.55,242.79 256.55,243.9 257.56,245.02 258.56,246.16 259.56,247.3 260.57,248.46 261.57,249.62 262.57,250.8 263.58,251.99 264.58,253.19 265.59,254.4 266.59,255.61 267.59,256.84 268.6,258.08 269.6,259.32 270.6,260.57 271.61,261.83 272.61,263.1 273.61,264.38 274.62,265.66 275.62,266.95 276.62,268.25 277.63,269.55 278.63,270.86 279.63,272.17 280.64,273.49 281.64,274.82 282.64,276.15 283.65,277.49 284.65,278.83 285.65,280.18 286.66,281.55 287.66,282.94 288.66,284.36 289.67,285.81 290.67,287.3 291.67,288.83 292.68,290.4 293.68,292.03 294.68,293.71 295.69,295.45 296.69,297.26 297.69,299.14 298.7,301.09 299.7,303.13" fill="none" stroke="#d7a93a" stroke-width="1.2" stroke-linejoin="round" stroke-linecap="round"/>
<rect x="142.5" y="185.3" width="166.3" height="133.7" fill="none" stroke="#1e1e1e" stroke-width="1.4"/>
<line x1="152" y1="319" x2="152" y2="316" stroke="#1e1e1e" stroke-width="1.1" />
<text x="152" y="329.4" font-size="9.3" text-anchor="middle" fill="#3a3a3a" font-family='"Liberation Sans", sans-serif' font-weight="normal"  stroke="#3a3a3a" stroke-width="0.2">−8</text>
<line x1="170.4" y1="319" x2="170.4" y2="317.2" stroke="#1e1e1e" stroke-width="1.1" />
<line x1="188.8" y1="319" x2="188.8" y2="316" stroke="#1e1e1e" stroke-width="1.1" />
<text x="188.8" y="329.4" font-size="9.3" text-anchor="middle" fill="#3a3a3a" font-family='"Liberation Sans", sans-serif' font-weight="normal"  stroke="#3a3a3a" stroke-width="0.2">−4</text>
<line x1="207.2" y1="319" x2="207.2" y2="317.2" stroke="#1e1e1e" stroke-width="1.1" />
<line x1="225.6" y1="319" x2="225.6" y2="316" stroke="#1e1e1e" stroke-width="1.1" />
<text x="225.6" y="329.4" font-size="9.3" text-anchor="middle" fill="#3a3a3a" font-family='"Liberation Sans", sans-serif' font-weight="normal"  stroke="#3a3a3a" stroke-width="0.2">0</text>
<line x1="244" y1="319" x2="244" y2="317.2" stroke="#1e1e1e" stroke-width="1.1" />
<line x1="262.4" y1="319" x2="262.4" y2="316" stroke="#1e1e1e" stroke-width="1.1" />
<text x="262.4" y="329.4" font-size="9.3" text-anchor="middle" fill="#3a3a3a" font-family='"Liberation Sans", sans-serif' font-weight="normal"  stroke="#3a3a3a" stroke-width="0.2">4</text>
<line x1="280.8" y1="319" x2="280.8" y2="317.2" stroke="#1e1e1e" stroke-width="1.1" />
<line x1="299.2" y1="319" x2="299.2" y2="316" stroke="#1e1e1e" stroke-width="1.1" />
<text x="299.2" y="329.4" font-size="9.3" text-anchor="middle" fill="#3a3a3a" font-family='"Liberation Sans", sans-serif' font-weight="normal"  stroke="#3a3a3a" stroke-width="0.2">8</text>
<line x1="142.5" y1="185.3" x2="145.5" y2="185.3" stroke="#1e1e1e" stroke-width="1.1" />
<line x1="142.5" y1="202.67" x2="144.1" y2="202.67" stroke="#1e1e1e" stroke-width="0.8" />
<line x1="142.5" y1="198.29" x2="144.1" y2="198.29" stroke="#1e1e1e" stroke-width="0.8" />
<line x1="142.5" y1="195.19" x2="144.1" y2="195.19" stroke="#1e1e1e" stroke-width="0.8" />
<line x1="142.5" y1="192.78" x2="144.1" y2="192.78" stroke="#1e1e1e" stroke-width="0.8" />
<line x1="142.5" y1="190.81" x2="144.1" y2="190.81" stroke="#1e1e1e" stroke-width="0.8" />
<line x1="142.5" y1="189.15" x2="144.1" y2="189.15" stroke="#1e1e1e" stroke-width="0.8" />
<line x1="142.5" y1="187.71" x2="144.1" y2="187.71" stroke="#1e1e1e" stroke-width="0.8" />
<line x1="142.5" y1="186.44" x2="144.1" y2="186.44" stroke="#1e1e1e" stroke-width="0.8" />
<text x="139.6" y="188.3" font-size="9.3" text-anchor="end" fill="#3a3a3a" font-family='"Liberation Sans", sans-serif' stroke="#3a3a3a" stroke-width="0.2">10<tspan font-size="5.8" dy="-4.3">−5</tspan></text>
<line x1="142.5" y1="210.15" x2="145.5" y2="210.15" stroke="#1e1e1e" stroke-width="1.1" />
<line x1="142.5" y1="227.52" x2="144.1" y2="227.52" stroke="#1e1e1e" stroke-width="0.8" />
<line x1="142.5" y1="223.14" x2="144.1" y2="223.14" stroke="#1e1e1e" stroke-width="0.8" />
<line x1="142.5" y1="220.04" x2="144.1" y2="220.04" stroke="#1e1e1e" stroke-width="0.8" />
<line x1="142.5" y1="217.63" x2="144.1" y2="217.63" stroke="#1e1e1e" stroke-width="0.8" />
<line x1="142.5" y1="215.66" x2="144.1" y2="215.66" stroke="#1e1e1e" stroke-width="0.8" />
<line x1="142.5" y1="214" x2="144.1" y2="214" stroke="#1e1e1e" stroke-width="0.8" />
<line x1="142.5" y1="212.56" x2="144.1" y2="212.56" stroke="#1e1e1e" stroke-width="0.8" />
<line x1="142.5" y1="211.29" x2="144.1" y2="211.29" stroke="#1e1e1e" stroke-width="0.8" />
<text x="139.6" y="213.15" font-size="9.3" text-anchor="end" fill="#3a3a3a" font-family='"Liberation Sans", sans-serif' stroke="#3a3a3a" stroke-width="0.2">10<tspan font-size="5.8" dy="-4.3">−6</tspan></text>
<line x1="142.5" y1="235" x2="145.5" y2="235" stroke="#1e1e1e" stroke-width="1.1" />
<line x1="142.5" y1="252.37" x2="144.1" y2="252.37" stroke="#1e1e1e" stroke-width="0.8" />
<line x1="142.5" y1="247.99" x2="144.1" y2="247.99" stroke="#1e1e1e" stroke-width="0.8" />
<line x1="142.5" y1="244.89" x2="144.1" y2="244.89" stroke="#1e1e1e" stroke-width="0.8" />
<line x1="142.5" y1="242.48" x2="144.1" y2="242.48" stroke="#1e1e1e" stroke-width="0.8" />
<line x1="142.5" y1="240.51" x2="144.1" y2="240.51" stroke="#1e1e1e" stroke-width="0.8" />
<line x1="142.5" y1="238.85" x2="144.1" y2="238.85" stroke="#1e1e1e" stroke-width="0.8" />
<line x1="142.5" y1="237.41" x2="144.1" y2="237.41" stroke="#1e1e1e" stroke-width="0.8" />
<line x1="142.5" y1="236.14" x2="144.1" y2="236.14" stroke="#1e1e1e" stroke-width="0.8" />
<text x="139.6" y="238" font-size="9.3" text-anchor="end" fill="#3a3a3a" font-family='"Liberation Sans", sans-serif' stroke="#3a3a3a" stroke-width="0.2">10<tspan font-size="5.8" dy="-4.3">−7</tspan></text>
<line x1="142.5" y1="259.85" x2="145.5" y2="259.85" stroke="#1e1e1e" stroke-width="1.1" />
<line x1="142.5" y1="277.22" x2="144.1" y2="277.22" stroke="#1e1e1e" stroke-width="0.8" />
<line x1="142.5" y1="272.84" x2="144.1" y2="272.84" stroke="#1e1e1e" stroke-width="0.8" />
<line x1="142.5" y1="269.74" x2="144.1" y2="269.74" stroke="#1e1e1e" stroke-width="0.8" />
<line x1="142.5" y1="267.33" x2="144.1" y2="267.33" stroke="#1e1e1e" stroke-width="0.8" />
<line x1="142.5" y1="265.36" x2="144.1" y2="265.36" stroke="#1e1e1e" stroke-width="0.8" />
<line x1="142.5" y1="263.7" x2="144.1" y2="263.7" stroke="#1e1e1e" stroke-width="0.8" />
<line x1="142.5" y1="262.26" x2="144.1" y2="262.26" stroke="#1e1e1e" stroke-width="0.8" />
<line x1="142.5" y1="260.99" x2="144.1" y2="260.99" stroke="#1e1e1e" stroke-width="0.8" />
<text x="139.6" y="262.85" font-size="9.3" text-anchor="end" fill="#3a3a3a" font-family='"Liberation Sans", sans-serif' stroke="#3a3a3a" stroke-width="0.2">10<tspan font-size="5.8" dy="-4.3">−8</tspan></text>
<line x1="142.5" y1="284.7" x2="145.5" y2="284.7" stroke="#1e1e1e" stroke-width="1.1" />
<line x1="142.5" y1="302.07" x2="144.1" y2="302.07" stroke="#1e1e1e" stroke-width="0.8" />
<line x1="142.5" y1="297.69" x2="144.1" y2="297.69" stroke="#1e1e1e" stroke-width="0.8" />
<line x1="142.5" y1="294.59" x2="144.1" y2="294.59" stroke="#1e1e1e" stroke-width="0.8" />
<line x1="142.5" y1="292.18" x2="144.1" y2="292.18" stroke="#1e1e1e" stroke-width="0.8" />
<line x1="142.5" y1="290.21" x2="144.1" y2="290.21" stroke="#1e1e1e" stroke-width="0.8" />
<line x1="142.5" y1="288.55" x2="144.1" y2="288.55" stroke="#1e1e1e" stroke-width="0.8" />
<line x1="142.5" y1="287.11" x2="144.1" y2="287.11" stroke="#1e1e1e" stroke-width="0.8" />
<line x1="142.5" y1="285.84" x2="144.1" y2="285.84" stroke="#1e1e1e" stroke-width="0.8" />
<text x="139.6" y="287.7" font-size="9.3" text-anchor="end" fill="#3a3a3a" font-family='"Liberation Sans", sans-serif' stroke="#3a3a3a" stroke-width="0.2">10<tspan font-size="5.8" dy="-4.3">−9</tspan></text>
<line x1="142.5" y1="309.55" x2="145.5" y2="309.55" stroke="#1e1e1e" stroke-width="1.1" />
<text x="139.6" y="312.55" font-size="9.3" text-anchor="end" fill="#3a3a3a" font-family='"Liberation Sans", sans-serif' stroke="#3a3a3a" stroke-width="0.2">10<tspan font-size="5.8" dy="-4.3">−10</tspan></text>
<line x1="156.6" y1="255" x2="165.6" y2="255" stroke="#df5f5f" stroke-width="1.3" opacity="0.8"/>
<text x="166.3" y="256.3" font-size="8.4" fill="#3a3a3a" font-family='"Liberation Sans", sans-serif' stroke="#3a3a3a" stroke-width="0.08">V<tspan font-size="5.6" dy="1.6">TG</tspan><tspan dy="-1.6"> = 6 V</tspan></text>
<line x1="156.6" y1="267" x2="165.6" y2="267" stroke="#3f84d4" stroke-width="1.3" opacity="0.8"/>
<text x="166.3" y="268.3" font-size="8.4" fill="#3a3a3a" font-family='"Liberation Sans", sans-serif' stroke="#3a3a3a" stroke-width="0.08">V<tspan font-size="5.6" dy="1.6">TG</tspan><tspan dy="-1.6"> = 4 V</tspan></text>
<line x1="156.6" y1="279" x2="165.6" y2="279" stroke="#48b487" stroke-width="1.3" opacity="0.8"/>
<text x="166.3" y="280.3" font-size="8.4" fill="#3a3a3a" font-family='"Liberation Sans", sans-serif' stroke="#3a3a3a" stroke-width="0.08">V<tspan font-size="5.6" dy="1.6">TG</tspan><tspan dy="-1.6"> = 2 V</tspan></text>
<line x1="156.6" y1="291" x2="165.6" y2="291" stroke="#bf98e8" stroke-width="1.3" opacity="0.8"/>
<text x="166.3" y="292.3" font-size="8.4" fill="#3a3a3a" font-family='"Liberation Sans", sans-serif' stroke="#3a3a3a" stroke-width="0.08">V<tspan font-size="5.6" dy="1.6">TG</tspan><tspan dy="-1.6"> = 0 V</tspan></text>
<line x1="156.6" y1="303" x2="165.6" y2="303" stroke="#d7a93a" stroke-width="1.3" opacity="0.8"/>
<text x="166.3" y="304.3" font-size="8.4" fill="#3a3a3a" font-family='"Liberation Sans", sans-serif' stroke="#3a3a3a" stroke-width="0.08">V<tspan font-size="5.6" dy="1.6">TG</tspan><tspan dy="-1.6"> = -2 V</tspan></text>
<text x="231.6" y="196.6" font-size="8.3" text-anchor="start" fill="#3a3a3a" font-family='"Liberation Sans", sans-serif' font-weight="normal"  stroke="#3a3a3a" stroke-width="0.08">L / W = 2 μm / 3 μm</text>
<text x="232.2" y="206.6" font-size="8.3" fill="#3a3a3a" font-family='"Liberation Sans", sans-serif' stroke="#3a3a3a" stroke-width="0.08"><tspan font-style="italic">V</tspan><tspan font-size="5.6" dy="1.8">D</tspan><tspan dy="-1.8"> = -5 V</tspan></text>
<text x="225.6" y="343.9" font-size="10.2" text-anchor="middle" fill="#3a3a3a" font-family='"Liberation Sans", sans-serif' font-weight="normal"  stroke="#3a3a3a" stroke-width="0.2">Bottom Gate Voltage (V)</text>
<text x="0" y="0" font-size="9.7" text-anchor="middle" fill="#3a3a3a" font-family='"Liberation Sans", sans-serif' transform="translate(112,249.8) rotate(-90)" dy="3.47"  stroke="#3a3a3a" stroke-width="0.2">| Drain Current | (A)</text>
<text x="93.4" y="195.8" font-size="12.4" text-anchor="start" fill="#222" font-family='"Liberation Serif", serif' font-weight="bold" stroke="none" letter-spacing="0.45">(d)</text>
<clipPath id="hc"><rect x="408.6" y="184.2" width="140.0" height="134.0"/></clipPath>
<g clip-path="url(#hc)">
<rect x="408.6" y="184.2" width="140.0" height="134.0" fill="#0000ee"/>
<path d="M409.6,318.2L410.6,318.2L411.6,318.2L412.6,318.2L413.6,318.2L414.6,318.2L415.6,318.2L416.6,318.2L417.6,318.2L418.6,318.2L419.6,318.2L420.6,318.2L421.6,318.2L422.6,318.2L423.6,318.2L424.6,318.2L425.6,318.2L426.6,318.2L427.6,318.2L428.6,318.2L429.6,318.2L430.6,318.2L431.6,318.2L432.6,318.2L433.6,318.2L434.6,318.2L435.6,318.2L436.6,318.2L437.6,318.2L438.6,318.2L439.6,318.2L440.6,318.2L441.6,318.2L442.6,318.2L443.6,318.2L444.6,318.2L445.6,318.2L446.6,318.2L447.6,318.2L448.6,318.2L449.6,318.2L450.6,318.2L451.6,318.2L452.6,318.2L453.6,318.2L454.6,318.2L455.6,318.2L456.6,318.2L457.6,318.2L458.6,318.2L459.6,318.2L460.6,318.2L461.6,318.2L462.6,318.2L463.6,318.2L464.6,318.2L465.6,318.2L466.6,318.2L467.6,318.2L468.6,318.2L469.6,318.2L470.6,318.2L471.6,318.2L472.6,318.2L473.6,318.2L474.6,318.2L475.6,318.2L476.6,318.2L477.6,318.2L478.6,318.2L479.6,318.2L480.6,318.2L481.6,318.2L482.6,318.2L483.6,318.2L484.6,318.2L485.6,318.2L486.6,318.2L487.6,318.2L488.6,318.2L489.6,318.2L490.6,318.2L491.6,318.2L492.6,318.2L493.6,318.2L494.6,318.2L495.6,318.2L496.6,318.2L497.6,318.2L498.6,318.2L499.6,318.2L500.6,318.2L501.6,318.2L502.6,318.2L503.6,318.2L504.6,318.2L505.6,318.2L506.6,318.2L507.6,318.2L508.6,318.2L509.6,318.2L510.6,318.2L511.6,318.2L512.6,318.2L513.6,318.2L514.6,318.2L515.6,318.2L516.6,318.2L517.6,318.2L518.6,318.2L519.6,318.2L520.6,318.2L521.6,318.2L522.6,318.2L523.6,318.2L524.6,318.2L525.6,318.2L526.6,318.2L527.6,318.2L528.6,318.2L529.6,318.2L530.6,318.2L531.6,318.2L532.6,318.2L533.6,318.2L534.6,318.2L535.6,318.2L536.6,318.2L537.6,318.2L538.6,318.2L539.6,318.2L540.6,318.2L541.6,318.2L542.6,318.2L543.6,318.2L544.6,318.2L545.6,318.2L546.6,318.2L547.6,318.2L548.6,318.2L548.6,317.2L548.6,316.2L548.6,315.2L548.6,314.2L548.6,313.2L548.6,312.2L548.6,311.2L548.6,310.2L548.6,309.2L548.6,308.2L548.6,307.2L548.6,306.2L548.6,305.2L548.6,304.2L548.6,303.2L548.6,302.2L548.6,301.2L548.6,300.2L548.6,299.2L548.6,298.2L548.6,297.2L548.6,296.2L548.6,295.2L548.6,294.2L548.6,293.2L548.6,292.2L548.6,291.2L548.6,290.2L548.6,289.2L548.6,288.2L548.6,287.2L548.6,286.2L548.6,285.2L548.6,284.2L548.6,283.2L548.6,282.2L548.6,281.2L548.6,280.2L548.6,279.2L548.6,278.2L548.6,277.2L548.6,276.2L548.6,275.2L548.6,274.2L548.6,273.2L548.6,272.2L548.6,271.2L548.6,270.2L548.6,269.2L548.6,268.2L548.6,267.2L548.6,266.2L548.6,265.2L548.6,264.2L548.6,263.2L548.6,262.2L548.6,261.2L548.6,260.2L548.6,259.2L548.6,258.2L548.6,257.2L548.6,256.2L548.6,255.2L548.6,254.2L548.6,253.2L548.6,252.2L548.6,251.2L548.6,250.2L548.6,249.2L548.6,248.2L548.6,247.2L548.6,246.2L548.6,245.2L548.6,244.2L548.6,243.2L548.6,242.2L548.6,241.2L548.6,240.2L548.6,239.2L548.6,238.2L548.6,237.2L548.6,236.2L548.6,235.2L548.6,234.2L548.6,233.2L548.6,232.2L548.6,231.2L548.6,230.2L548.6,229.2L548.6,228.2L548.6,227.2L548.6,226.2L548.6,225.2L548.6,224.2L548.6,223.2L548.6,222.2L548.6,221.2L548.6,220.2L548.6,219.2L548.6,218.3L547.6,218.6L546.6,218.8L545.6,219.0L544.6,219.2L544.6,219.2L543.6,219.4L542.6,219.5L541.6,219.6L540.6,219.7L539.6,219.8L538.6,219.8L537.6,219.9L536.6,219.9L535.6,219.9L534.6,219.9L533.6,219.8L532.6,219.8L531.6,219.7L530.6,219.6L529.6,219.5L528.6,219.4L527.6,219.2L527.5,219.2L526.6,219.1L525.6,218.9L524.6,218.7L523.6,218.5L522.6,218.3L522.3,218.2L521.6,218.0L520.6,217.8L519.6,217.5L518.6,217.2L518.5,217.2L517.6,216.9L516.6,216.6L515.6,216.3L515.3,216.2L514.6,216.0L513.6,215.6L512.6,215.2L512.5,215.2L511.6,214.9L510.6,214.5L509.9,214.2L509.6,214.1L508.6,213.6L507.6,213.2L507.6,213.2L506.6,212.8L505.6,212.3L505.3,212.2L504.6,211.8L503.6,211.4L503.3,211.2L502.6,210.9L501.6,210.4L501.3,210.2L500.6,209.9L499.6,209.3L499.3,209.2L498.6,208.8L497.6,208.2L497.5,208.2L496.6,207.7L495.7,207.2L495.6,207.1L494.6,206.5L494.0,206.2L493.6,205.9L492.6,205.4L492.4,205.2L491.6,204.7L490.7,204.2L490.6,204.1L489.6,203.5L489.1,203.2L488.6,202.9L487.6,202.2L487.6,202.2L486.6,201.6L486.1,201.2L485.6,200.9L484.6,200.2L484.6,200.2L483.6,199.6L483.1,199.2L482.6,198.9L481.6,198.2L481.6,198.2L480.6,197.5L480.2,197.2L479.6,196.8L478.8,196.2L478.6,196.1L477.6,195.4L477.4,195.2L476.6,194.6L476.0,194.2L475.6,193.9L474.6,193.2L474.6,193.2L473.6,192.5L473.2,192.2L472.6,191.7L471.9,191.2L471.6,191.0L470.6,190.3L470.5,190.2L469.6,189.5L469.1,189.2L468.6,188.8L467.8,188.2L467.6,188.1L466.6,187.3L466.4,187.2L465.6,186.6L465.1,186.2L464.6,185.8L463.7,185.2L463.6,185.1L462.6,184.4L462.4,184.2L461.6,184.2L460.6,184.2L459.6,184.2L458.6,184.2L457.6,184.2L456.6,184.2L455.6,184.2L454.6,184.2L453.6,184.2L452.6,184.2L451.6,184.2L450.6,184.2L449.6,184.2L448.6,184.2L447.6,184.2L446.6,184.2L445.6,184.2L444.6,184.2L443.6,184.2L442.6,184.2L441.6,184.2L440.6,184.2L439.6,184.2L438.6,184.2L437.6,184.2L436.6,184.2L435.6,184.2L434.6,184.2L433.6,184.2L432.6,184.2L431.6,184.2L430.6,184.2L429.6,184.2L428.6,184.2L427.6,184.2L426.6,184.2L425.6,184.2L424.6,184.2L423.6,184.2L422.6,184.2L421.6,184.2L420.6,184.2L419.6,184.2L418.6,184.2L417.6,184.2L416.6,184.2L415.6,184.2L414.6,184.2L413.6,184.2L412.6,184.2L411.6,184.2L410.6,184.2L409.6,184.2L408.6,184.2L408.6,185.2L408.6,186.2L408.6,187.2L408.6,188.2L408.6,189.2L408.6,190.2L408.6,191.2L408.6,192.2L408.6,193.2L408.6,194.2L408.6,195.2L408.6,196.2L408.6,197.2L408.6,198.2L408.6,199.2L408.6,200.2L408.6,201.2L408.6,202.2L408.6,203.2L408.6,204.2L408.6,205.2L408.6,206.2L408.6,207.2L408.6,208.2L408.6,209.2L408.6,210.2L408.6,211.2L408.6,212.2L408.6,213.2L408.6,214.2L408.6,215.2L408.6,216.2L408.6,217.2L408.6,218.2L408.6,219.2L408.6,220.2L408.6,221.2L408.6,222.2L408.6,223.2L408.6,224.2L408.6,225.2L408.6,226.2L408.6,227.2L408.6,228.2L408.6,229.2L408.6,230.2L408.6,231.2L408.6,232.2L408.6,233.2L408.6,234.2L408.6,235.2L408.6,236.2L408.6,237.2L408.6,238.2L408.6,239.2L408.6,240.2L408.6,241.2L408.6,242.2L408.6,243.2L408.6,244.2L408.6,245.2L408.6,246.2L408.6,247.2L408.6,248.2L408.6,249.2L408.6,250.2L408.6,251.2L408.6,252.2L408.6,253.2L408.6,254.2L408.6,255.2L408.6,256.2L408.6,257.2L408.6,258.2L408.6,259.2L408.6,260.2L408.6,261.2L408.6,262.2L408.6,263.2L408.6,264.2L408.6,265.2L408.6,266.2L408.6,267.2L408.6,268.2L408.6,269.2L408.6,270.2L408.6,271.2L408.6,272.2L408.6,273.2L408.6,274.2L408.6,275.2L408.6,276.2L408.6,277.2L408.6,278.2L408.6,279.2L408.6,280.2L408.6,281.2L408.6,282.2L408.6,283.2L408.6,284.2L408.6,285.2L408.6,286.2L408.6,287.2L408.6,288.2L408.6,289.2L408.6,290.2L408.6,291.2L408.6,292.2L408.6,293.2L408.6,294.2L408.6,295.2L408.6,296.2L408.6,297.2L408.6,298.2L408.6,299.2L408.6,300.2L408.6,301.2L408.6,302.2L408.6,303.2L408.6,304.2L408.6,305.2L408.6,306.2L408.6,307.2L408.6,308.2L408.6,309.2L408.6,310.2L408.6,311.2L408.6,312.2L408.6,313.2L408.6,314.2L408.6,315.2L408.6,316.2L408.6,317.2L408.6,318.2Z" fill="#001ff0" fill-rule="evenodd" stroke="#001ff0" stroke-width="0.3"/>
<path d="M409.6,318.2L410.6,318.2L411.6,318.2L412.6,318.2L413.6,318.2L414.6,318.2L415.6,318.2L416.6,318.2L417.6,318.2L418.6,318.2L419.6,318.2L420.6,318.2L421.6,318.2L422.6,318.2L423.6,318.2L424.6,318.2L425.6,318.2L426.6,318.2L427.6,318.2L428.6,318.2L429.6,318.2L430.6,318.2L431.6,318.2L432.6,318.2L433.6,318.2L434.6,318.2L435.6,318.2L436.6,318.2L437.6,318.2L438.6,318.2L439.6,318.2L440.6,318.2L441.6,318.2L442.6,318.2L443.6,318.2L444.6,318.2L445.6,318.2L446.6,318.2L447.6,318.2L448.6,318.2L449.6,318.2L450.6,318.2L451.6,318.2L452.6,318.2L453.6,318.2L454.6,318.2L455.6,318.2L456.6,318.2L457.6,318.2L458.6,318.2L459.6,318.2L460.6,318.2L461.6,318.2L462.6,318.2L463.6,318.2L464.6,318.2L465.6,318.2L466.6,318.2L467.6,318.2L468.6,318.2L469.6,318.2L470.6,318.2L471.6,318.2L472.6,318.2L473.6,318.2L474.6,318.2L475.6,318.2L476.6,318.2L477.6,318.2L478.6,318.2L479.6,318.2L480.6,318.2L481.6,318.2L482.6,318.2L483.6,318.2L484.6,318.2L485.6,318.2L486.6,318.2L487.6,318.2L488.6,318.2L489.6,318.2L490.6,318.2L491.6,318.2L492.6,318.2L493.6,318.2L494.6,318.2L495.6,318.2L496.6,318.2L497.6,318.2L498.6,318.2L499.6,318.2L500.6,318.2L501.6,318.2L502.6,318.2L503.6,318.2L504.6,318.2L505.6,318.2L506.6,318.2L507.6,318.2L508.6,318.2L509.6,318.2L510.6,318.2L511.6,318.2L512.6,318.2L513.6,318.2L514.6,318.2L515.6,318.2L516.6,318.2L517.6,318.2L518.6,318.2L519.6,318.2L520.6,318.2L521.6,318.2L522.6,318.2L523.6,318.2L524.6,318.2L525.6,318.2L526.6,318.2L527.6,318.2L528.6,318.2L529.6,318.2L530.6,318.2L531.6,318.2L532.6,318.2L533.6,318.2L534.6,318.2L535.6,318.2L536.6,318.2L537.6,318.2L538.6,318.2L539.6,318.2L540.6,318.2L541.6,318.2L542.6,318.2L543.6,318.2L544.6,318.2L545.6,318.2L546.6,318.2L547.6,318.2L548.6,318.2L548.6,317.2L548.6,316.2L548.6,315.2L548.6,314.2L548.6,313.2L548.6,312.2L548.6,311.2L548.6,310.2L548.6,309.2L548.6,308.2L548.6,307.2L548.6,306.2L548.6,305.2L548.6,304.2L548.6,303.2L548.6,302.2L548.6,301.2L548.6,300.2L548.6,299.2L548.6,298.2L548.6,297.2L548.6,296.2L548.6,295.2L548.6,294.2L548.6,293.2L548.6,292.2L548.6,291.2L548.6,290.2L548.6,289.2L548.6,288.2L548.6,287.2L548.6,286.2L548.6,285.2L548.6,284.2L548.6,283.2L548.6,282.2L548.6,281.2L548.6,280.2L548.6,279.2L548.6,278.2L548.6,277.2L548.6,276.2L548.6,275.2L548.6,274.2L548.6,273.2L548.6,272.2L548.6,271.2L548.6,270.2L548.6,269.2L548.6,268.2L548.6,267.2L548.6,266.2L548.6,265.2L548.6,264.2L548.6,263.2L548.6,262.2L548.6,261.2L548.6,260.2L548.6,259.2L548.6,258.2L548.6,257.2L548.6,256.2L548.6,255.2L548.6,254.2L548.6,253.2L548.6,252.2L548.6,251.2L548.6,250.2L548.6,249.2L548.6,248.2L548.6,247.2L548.6,246.2L548.6,245.2L548.6,244.2L548.6,243.2L548.6,242.2L548.6,241.2L548.6,240.2L548.6,239.2L548.6,238.2L548.6,237.2L548.6,236.2L548.6,235.6L547.6,235.8L546.6,236.0L545.6,236.2L545.4,236.2L544.6,236.3L543.6,236.5L542.6,236.6L541.6,236.7L540.6,236.7L539.6,236.8L538.6,236.8L537.6,236.9L536.6,236.9L535.6,236.8L534.6,236.8L533.6,236.8L532.6,236.7L531.6,236.6L530.6,236.5L529.6,236.4L528.6,236.2L528.3,236.2L527.6,236.1L526.6,235.9L525.6,235.8L524.6,235.6L523.6,235.3L522.9,235.2L522.6,235.1L521.6,234.9L520.6,234.6L519.6,234.4L519.0,234.2L518.6,234.1L517.6,233.8L516.6,233.5L515.7,233.2L515.6,233.2L514.6,232.8L513.6,232.5L512.8,232.2L512.6,232.1L511.6,231.7L510.6,231.3L510.2,231.2L509.6,230.9L508.6,230.5L507.8,230.2L507.6,230.1L506.6,229.7L505.6,229.2L505.5,229.2L504.6,228.8L503.6,228.3L503.4,228.2L502.6,227.8L501.6,227.3L501.4,227.2L500.6,226.8L499.6,226.3L499.4,226.2L498.6,225.8L497.6,225.2L497.6,225.2L496.6,224.7L495.8,224.2L495.6,224.1L494.6,223.5L494.0,223.2L493.6,222.9L492.6,222.3L492.4,222.2L491.6,221.7L490.7,221.2L490.6,221.1L489.6,220.5L489.1,220.2L488.6,219.9L487.6,219.2L487.5,219.2L486.6,218.6L486.0,218.2L485.6,217.9L484.6,217.3L484.5,217.2L483.6,216.6L483.0,216.2L482.6,215.9L481.6,215.2L481.6,215.2L480.6,214.5L480.2,214.2L479.6,213.8L478.8,213.2L478.6,213.1L477.6,212.4L477.4,212.2L476.6,211.6L476.0,211.2L475.6,210.9L474.6,210.2L474.6,210.2L473.6,209.4L473.3,209.2L472.6,208.7L471.9,208.2L471.6,207.9L470.6,207.2L470.6,207.2L469.6,206.4L469.3,206.2L468.6,205.7L468.0,205.2L467.6,204.9L466.7,204.2L466.6,204.1L465.6,203.4L465.4,203.2L464.6,202.6L464.1,202.2L463.6,201.8L462.8,201.2L462.6,201.1L461.6,200.3L461.5,200.2L460.6,199.5L460.2,199.2L459.6,198.8L458.9,198.2L458.6,198.0L457.6,197.2L457.5,197.2L456.6,196.5L456.2,196.2L455.6,195.7L454.9,195.2L454.6,195.0L453.6,194.2L453.6,194.2L452.6,193.5L452.2,193.2L451.6,192.8L450.8,192.2L450.6,192.0L449.6,191.3L449.4,191.2L448.6,190.6L448.0,190.2L447.6,189.9L446.6,189.2L446.6,189.2L445.6,188.5L445.2,188.2L444.6,187.8L443.7,187.2L443.6,187.2L442.6,186.5L442.2,186.2L441.6,185.8L440.6,185.2L440.6,185.2L439.6,184.6L439.0,184.2L438.6,184.2L437.6,184.2L436.6,184.2L435.6,184.2L434.6,184.2L433.6,184.2L432.6,184.2L431.6,184.2L430.6,184.2L429.6,184.2L428.6,184.2L427.6,184.2L426.6,184.2L425.6,184.2L424.6,184.2L423.6,184.2L422.6,184.2L421.6,184.2L420.6,184.2L419.6,184.2L418.6,184.2L417.6,184.2L416.6,184.2L415.6,184.2L414.6,184.2L413.6,184.2L412.6,184.2L411.6,184.2L410.6,184.2L409.6,184.2L408.6,184.2L408.6,185.2L408.6,186.2L408.6,187.2L408.6,188.2L408.6,189.2L408.6,190.2L408.6,191.2L408.6,192.2L408.6,193.2L408.6,194.2L408.6,195.2L408.6,196.2L408.6,197.2L408.6,198.2L408.6,199.2L408.6,200.2L408.6,201.2L408.6,202.2L408.6,203.2L408.6,204.2L408.6,205.2L408.6,206.2L408.6,207.2L408.6,208.2L408.6,209.2L408.6,210.2L408.6,211.2L408.6,212.2L408.6,213.2L408.6,214.2L408.6,215.2L408.6,216.2L408.6,217.2L408.6,218.2L408.6,219.2L408.6,220.2L408.6,221.2L408.6,222.2L408.6,223.2L408.6,224.2L408.6,225.2L408.6,226.2L408.6,227.2L408.6,228.2L408.6,229.2L408.6,230.2L408.6,231.2L408.6,232.2L408.6,233.2L408.6,234.2L408.6,235.2L408.6,236.2L408.6,237.2L408.6,238.2L408.6,239.2L408.6,240.2L408.6,241.2L408.6,242.2L408.6,243.2L408.6,244.2L408.6,245.2L408.6,246.2L408.6,247.2L408.6,248.2L408.6,249.2L408.6,250.2L408.6,251.2L408.6,252.2L408.6,253.2L408.6,254.2L408.6,255.2L408.6,256.2L408.6,257.2L408.6,258.2L408.6,259.2L408.6,260.2L408.6,261.2L408.6,262.2L408.6,263.2L408.6,264.2L408.6,265.2L408.6,266.2L408.6,267.2L408.6,268.2L408.6,269.2L408.6,270.2L408.6,271.2L408.6,272.2L408.6,273.2L408.6,274.2L408.6,275.2L408.6,276.2L408.6,277.2L408.6,278.2L408.6,279.2L408.6,280.2L408.6,281.2L408.6,282.2L408.6,283.2L408.6,284.2L408.6,285.2L408.6,286.2L408.6,287.2L408.6,288.2L408.6,289.2L408.6,290.2L408.6,291.2L408.6,292.2L408.6,293.2L408.6,294.2L408.6,295.2L408.6,296.2L408.6,297.2L408.6,298.2L408.6,299.2L408.6,300.2L408.6,301.2L408.6,302.2L408.6,303.2L408.6,304.2L408.6,305.2L408.6,306.2L408.6,307.2L408.6,308.2L408.6,309.2L408.6,310.2L408.6,311.2L408.6,312.2L408.6,313.2L408.6,314.2L408.6,315.2L408.6,316.2L408.6,317.2L408.6,318.2Z" fill="#0033f1" fill-rule="evenodd" stroke="#0033f1" stroke-width="0.3"/>
<path d="M409.6,318.2L410.6,318.2L411.6,318.2L412.6,318.2L413.6,318.2L414.6,318.2L415.6,318.2L416.6,318.2L417.6,318.2L418.6,318.2L419.6,318.2L420.6,318.2L421.6,318.2L422.6,318.2L423.6,318.2L424.6,318.2L425.6,318.2L426.6,318.2L427.6,318.2L428.6,318.2L429.6,318.2L430.6,318.2L431.6,318.2L432.6,318.2L433.6,318.2L434.6,318.2L435.6,318.2L436.6,318.2L437.6,318.2L438.6,318.2L439.6,318.2L440.6,318.2L441.6,318.2L442.6,318.2L443.6,318.2L444.6,318.2L445.6,318.2L446.6,318.2L447.6,318.2L448.6,318.2L449.6,318.2L450.6,318.2L451.6,318.2L452.6,318.2L453.6,318.2L454.6,318.2L455.6,318.2L456.6,318.2L457.6,318.2L458.6,318.2L459.6,318.2L460.6,318.2L461.6,318.2L462.6,318.2L463.6,318.2L464.6,318.2L465.6,318.2L466.6,318.2L467.6,318.2L468.6,318.2L469.6,318.2L470.6,318.2L471.6,318.2L472.6,318.2L473.6,318.2L474.6,318.2L475.6,318.2L476.6,318.2L477.6,318.2L478.6,318.2L479.6,318.2L480.6,318.2L481.6,318.2L482.6,318.2L483.6,318.2L484.6,318.2L485.6,318.2L486.6,318.2L487.6,318.2L488.6,318.2L489.6,318.2L490.6,318.2L491.6,318.2L492.6,318.2L493.6,318.2L494.6,318.2L495.6,318.2L496.6,318.2L497.6,318.2L498.6,318.2L499.6,318.2L500.6,318.2L501.6,318.2L502.6,318.2L503.6,318.2L504.6,318.2L505.6,318.2L506.6,318.2L507.6,318.2L508.6,318.2L509.6,318.2L510.6,318.2L511.6,318.2L512.6,318.2L513.6,318.2L514.6,318.2L515.6,318.2L516.6,318.2L517.6,318.2L518.6,318.2L519.6,318.2L520.6,318.2L521.6,318.2L522.6,318.2L523.6,318.2L524.6,318.2L525.6,318.2L526.6,318.2L527.6,318.2L528.6,318.2L529.6,318.2L530.6,318.2L531.6,318.2L532.6,318.2L533.6,318.2L534.6,318.2L535.6,318.2L536.6,318.2L537.6,318.2L538.6,318.2L539.6,318.2L540.6,318.2L541.6,318.2L542.6,318.2L543.6,318.2L544.6,318.2L545.6,318.2L546.6,318.2L547.6,318.2L548.6,318.2L548.6,317.2L548.6,316.2L548.6,315.2L548.6,314.2L548.6,313.2L548.6,312.2L548.6,311.2L548.6,310.2L548.6,309.2L548.6,308.2L548.6,307.2L548.6,306.2L548.6,305.2L548.6,304.2L548.6,303.2L548.6,302.2L548.6,301.2L548.6,300.2L548.6,299.2L548.6,298.2L548.6,297.2L548.6,296.2L548.6,295.2L548.6,294.2L548.6,293.2L548.6,292.2L548.6,291.2L548.6,290.2L548.6,289.2L548.6,288.2L548.6,287.2L548.6,286.2L548.6,285.2L548.6,284.2L548.6,283.2L548.6,282.2L548.6,281.2L548.6,280.2L548.6,279.2L548.6,278.2L548.6,277.2L548.6,276.2L548.6,275.2L548.6,274.2L548.6,273.2L548.6,272.2L548.6,271.2L548.6,270.2L548.6,269.2L548.6,268.2L548.6,267.2L548.6,266.2L548.6,265.2L548.6,264.2L548.6,263.2L548.6,262.2L548.6,261.2L548.6,260.2L548.6,259.2L548.6,258.2L548.6,257.2L548.6,256.2L548.6,255.2L548.6,254.2L548.6,253.2L548.6,252.2L548.6,251.2L548.6,250.2L548.6,249.2L548.6,248.2L548.6,247.2L548.6,246.8L547.6,247.0L546.6,247.2L546.6,247.2L545.6,247.4L544.6,247.5L543.6,247.6L542.6,247.7L541.6,247.8L540.6,247.9L539.6,247.9L538.6,247.9L537.6,247.9L536.6,247.9L535.6,247.9L534.6,247.8L533.6,247.8L532.6,247.7L531.6,247.6L530.6,247.5L529.6,247.4L528.6,247.2L528.5,247.2L527.6,247.0L526.6,246.9L525.6,246.7L524.6,246.5L523.6,246.3L523.3,246.2L522.6,246.0L521.6,245.8L520.6,245.5L519.6,245.3L519.4,245.2L518.6,245.0L517.6,244.7L516.6,244.4L516.1,244.2L515.6,244.0L514.6,243.7L513.6,243.3L513.2,243.2L512.6,243.0L511.6,242.6L510.6,242.2L510.6,242.2L509.6,241.8L508.6,241.4L508.1,241.2L507.6,241.0L506.6,240.5L505.8,240.2L505.6,240.1L504.6,239.6L503.7,239.2L503.6,239.2L502.6,238.7L501.6,238.2L501.6,238.2L500.6,237.7L499.7,237.2L499.6,237.2L498.6,236.6L497.8,236.2L497.6,236.1L496.6,235.5L496.0,235.2L495.6,235.0L494.6,234.4L494.2,234.2L493.6,233.8L492.6,233.2L492.5,233.2L491.6,232.6L490.9,232.2L490.6,232.0L489.6,231.4L489.3,231.2L488.6,230.8L487.7,230.2L487.6,230.1L486.6,229.5L486.2,229.2L485.6,228.8L484.7,228.2L484.6,228.2L483.6,227.5L483.2,227.2L482.6,226.8L481.7,226.2L481.6,226.1L480.6,225.4L480.3,225.2L479.6,224.7L478.9,224.2L478.6,224.0L477.6,223.3L477.5,223.2L476.6,222.5L476.2,222.2L475.6,221.8L474.8,221.2L474.6,221.1L473.6,220.3L473.5,220.2L472.6,219.6L472.1,219.2L471.6,218.8L470.8,218.2L470.6,218.0L469.6,217.3L469.5,217.2L468.6,216.5L468.2,216.2L467.6,215.7L466.9,215.2L466.6,214.9L465.6,214.2L465.6,214.2L464.6,213.4L464.4,213.2L463.6,212.6L463.1,212.2L462.6,211.8L461.8,211.2L461.6,211.0L460.6,210.2L460.6,210.2L459.6,209.5L459.3,209.2L458.6,208.7L458.0,208.2L457.6,207.9L456.7,207.2L456.6,207.1L455.6,206.3L455.4,206.2L454.6,205.5L454.2,205.2L453.6,204.8L452.9,204.2L452.6,204.0L451.6,203.2L451.6,203.2L450.6,202.5L450.2,202.2L449.6,201.7L448.9,201.2L448.6,201.0L447.6,200.2L447.6,200.2L446.6,199.5L446.2,199.2L445.6,198.8L444.8,198.2L444.6,198.0L443.6,197.3L443.4,197.2L442.6,196.6L442.0,196.2L441.6,195.9L440.6,195.3L440.5,195.2L439.6,194.6L439.0,194.2L438.6,193.9L437.6,193.3L437.4,193.2L436.6,192.7L435.8,192.2L435.6,192.0L434.6,191.4L434.2,191.2L433.6,190.9L432.6,190.3L432.5,190.2L431.6,189.7L430.7,189.2L430.6,189.2L429.6,188.6L428.7,188.2L428.6,188.1L427.6,187.6L426.7,187.2L426.6,187.1L425.6,186.7L424.6,186.2L424.5,186.2L423.6,185.8L422.6,185.4L422.1,185.2L421.6,185.0L420.6,184.6L419.6,184.3L419.4,184.2L418.6,184.2L417.6,184.2L416.6,184.2L415.6,184.2L414.6,184.2L413.6,184.2L412.6,184.2L411.6,184.2L410.6,184.2L409.6,184.2L408.6,184.2L408.6,185.2L408.6,186.2L408.6,187.2L408.6,188.2L408.6,189.2L408.6,190.2L408.6,191.2L408.6,192.2L408.6,193.2L408.6,194.2L408.6,195.2L408.6,196.2L408.6,197.2L408.6,198.2L408.6,199.2L408.6,200.2L408.6,201.2L408.6,202.2L408.6,203.2L408.6,204.2L408.6,205.2L408.6,206.2L408.6,207.2L408.6,208.2L408.6,209.2L408.6,210.2L408.6,211.2L408.6,212.2L408.6,213.2L408.6,214.2L408.6,215.2L408.6,216.2L408.6,217.2L408.6,218.2L408.6,219.2L408.6,220.2L408.6,221.2L408.6,222.2L408.6,223.2L408.6,224.2L408.6,225.2L408.6,226.2L408.6,227.2L408.6,228.2L408.6,229.2L408.6,230.2L408.6,231.2L408.6,232.2L408.6,233.2L408.6,234.2L408.6,235.2L408.6,236.2L408.6,237.2L408.6,238.2L408.6,239.2L408.6,240.2L408.6,241.2L408.6,242.2L408.6,243.2L408.6,244.2L408.6,245.2L408.6,246.2L408.6,247.2L408.6,248.2L408.6,249.2L408.6,250.2L408.6,251.2L408.6,252.2L408.6,253.2L408.6,254.2L408.6,255.2L408.6,256.2L408.6,257.2L408.6,258.2L408.6,259.2L408.6,260.2L408.6,261.2L408.6,262.2L408.6,263.2L408.6,264.2L408.6,265.2L408.6,266.2L408.6,267.2L408.6,268.2L408.6,269.2L408.6,270.2L408.6,271.2L408.6,272.2L408.6,273.2L408.6,274.2L408.6,275.2L408.6,276.2L408.6,277.2L408.6,278.2L408.6,279.2L408.6,280.2L408.6,281.2L408.6,282.2L408.6,283.2L408.6,284.2L408.6,285.2L408.6,286.2L408.6,287.2L408.6,288.2L408.6,289.2L408.6,290.2L408.6,291.2L408.6,292.2L408.6,293.2L408.6,294.2L408.6,295.2L408.6,296.2L408.6,297.2L408.6,298.2L408.6,299.2L408.6,300.2L408.6,301.2L408.6,302.2L408.6,303.2L408.6,304.2L408.6,305.2L408.6,306.2L408.6,307.2L408.6,308.2L408.6,309.2L408.6,310.2L408.6,311.2L408.6,312.2L408.6,313.2L408.6,314.2L408.6,315.2L408.6,316.2L408.6,317.2L408.6,318.2Z" fill="#0047f3" fill-rule="evenodd" stroke="#0047f3" stroke-width="0.3"/>
<path d="M409.6,318.2L410.6,318.2L411.6,318.2L412.6,318.2L413.6,318.2L414.6,318.2L415.6,318.2L416.6,318.2L417.6,318.2L418.6,318.2L419.6,318.2L420.6,318.2L421.6,318.2L422.6,318.2L423.6,318.2L424.6,318.2L425.6,318.2L426.6,318.2L427.6,318.2L428.6,318.2L429.6,318.2L430.6,318.2L431.6,318.2L432.6,318.2L433.6,318.2L434.6,318.2L435.6,318.2L436.6,318.2L437.6,318.2L438.6,318.2L439.6,318.2L440.6,318.2L441.6,318.2L442.6,318.2L443.6,318.2L444.6,318.2L445.6,318.2L446.6,318.2L447.6,318.2L448.6,318.2L449.6,318.2L450.6,318.2L451.6,318.2L452.6,318.2L453.6,318.2L454.6,318.2L455.6,318.2L456.6,318.2L457.6,318.2L458.6,318.2L459.6,318.2L460.6,318.2L461.6,318.2L462.6,318.2L463.6,318.2L464.6,318.2L465.6,318.2L466.6,318.2L467.6,318.2L468.6,318.2L469.6,318.2L470.6,318.2L471.6,318.2L472.6,318.2L473.6,318.2L474.6,318.2L475.6,318.2L476.6,318.2L477.6,318.2L478.6,318.2L479.6,318.2L480.6,318.2L481.6,318.2L482.6,318.2L483.6,318.2L484.6,318.2L485.6,318.2L486.6,318.2L487.6,318.2L488.6,318.2L489.6,318.2L490.6,318.2L491.6,318.2L492.6,318.2L493.6,318.2L494.6,318.2L495.6,318.2L496.6,318.2L497.6,318.2L498.6,318.2L499.6,318.2L500.6,318.2L501.6,318.2L502.6,318.2L503.6,318.2L504.6,318.2L505.6,318.2L506.6,318.2L507.6,318.2L508.6,318.2L509.6,318.2L510.6,318.2L511.6,318.2L512.6,318.2L513.6,318.2L514.6,318.2L515.6,318.2L516.6,318.2L517.6,318.2L518.6,318.2L519.6,318.2L520.6,318.2L521.6,318.2L522.6,318.2L523.6,318.2L524.6,318.2L525.6,318.2L526.6,318.2L527.6,318.2L528.6,318.2L529.6,318.2L530.6,318.2L531.6,318.2L532.6,318.2L533.6,318.2L534.6,318.2L535.6,318.2L536.6,318.2L537.6,318.2L538.6,318.2L539.6,318.2L540.6,318.2L541.6,318.2L542.6,318.2L543.6,318.2L544.6,318.2L545.6,318.2L546.6,318.2L547.6,318.2L548.6,318.2L548.6,317.2L548.6,316.2L548.6,315.2L548.6,314.2L548.6,313.2L548.6,312.2L548.6,311.2L548.6,310.2L548.6,309.2L548.6,308.2L548.6,307.2L548.6,306.2L548.6,305.2L548.6,304.2L548.6,303.2L548.6,302.2L548.6,301.2L548.6,300.2L548.6,299.2L548.6,298.2L548.6,297.2L548.6,296.2L548.6,295.2L548.6,294.2L548.6,293.2L548.6,292.2L548.6,291.2L548.6,290.2L548.6,289.2L548.6,288.2L548.6,287.2L548.6,286.2L548.6,285.2L548.6,284.2L548.6,283.2L548.6,282.2L548.6,281.2L548.6,280.2L548.6,279.2L548.6,278.2L548.6,277.2L548.6,276.2L548.6,275.2L548.6,274.2L548.6,273.2L548.6,272.2L548.6,271.2L548.6,270.2L548.6,269.2L548.6,268.2L548.6,267.2L548.6,266.2L548.6,265.2L548.6,264.2L548.6,263.2L548.6,262.2L548.6,261.2L548.6,260.2L548.6,259.2L548.6,258.2L548.6,257.2L548.6,256.2L548.6,255.7L547.6,255.9L546.6,256.1L545.6,256.2L545.6,256.2L544.6,256.3L543.6,256.4L542.6,256.5L541.6,256.6L540.6,256.6L539.6,256.6L538.6,256.6L537.6,256.6L536.6,256.6L535.6,256.6L534.6,256.5L533.6,256.4L532.6,256.3L531.6,256.2L531.5,256.2L530.6,256.1L529.6,255.9L528.6,255.8L527.6,255.6L526.6,255.4L525.6,255.2L525.5,255.2L524.6,255.0L523.6,254.8L522.6,254.5L521.6,254.3L521.3,254.2L520.6,254.0L519.6,253.7L518.6,253.4L517.8,253.2L517.6,253.1L516.6,252.8L515.6,252.5L514.8,252.2L514.6,252.1L513.6,251.8L512.6,251.4L512.1,251.2L511.6,251.0L510.6,250.6L509.6,250.2L509.6,250.2L508.6,249.8L507.6,249.4L507.2,249.2L506.6,248.9L505.6,248.5L505.0,248.2L504.6,248.0L503.6,247.5L502.9,247.2L502.6,247.0L501.6,246.5L500.9,246.2L500.6,246.0L499.6,245.5L499.0,245.2L498.6,245.0L497.6,244.4L497.2,244.2L496.6,243.9L495.6,243.3L495.4,243.2L494.6,242.7L493.7,242.2L493.6,242.2L492.6,241.6L492.0,241.2L491.6,241.0L490.6,240.4L490.3,240.2L489.6,239.7L488.7,239.2L488.6,239.1L487.6,238.5L487.2,238.2L486.6,237.8L485.7,237.2L485.6,237.2L484.6,236.5L484.2,236.2L483.6,235.8L482.7,235.2L482.6,235.1L481.6,234.4L481.3,234.2L480.6,233.7L479.9,233.2L479.6,233.0L478.6,232.3L478.5,232.2L477.6,231.6L477.1,231.2L476.6,230.8L475.7,230.2L475.6,230.1L474.6,229.4L474.4,229.2L473.6,228.6L473.1,228.2L472.6,227.9L471.7,227.2L471.6,227.1L470.6,226.3L470.4,226.2L469.6,225.5L469.2,225.2L468.6,224.8L467.9,224.2L467.6,224.0L466.6,223.2L466.6,223.2L465.6,222.4L465.3,222.2L464.6,221.6L464.1,221.2L463.6,220.8L462.8,220.2L462.6,220.0L461.6,219.2L461.6,219.2L460.6,218.4L460.3,218.2L459.6,217.6L459.1,217.2L458.6,216.8L457.8,216.2L457.6,216.0L456.6,215.2L456.6,215.2L455.6,214.4L455.3,214.2L454.6,213.6L454.1,213.2L453.6,212.8L452.8,212.2L452.6,212.0L451.6,211.3L451.5,211.2L450.6,210.5L450.3,210.2L449.6,209.7L449.0,209.2L448.6,208.9L447.7,208.2L447.6,208.2L446.6,207.4L446.3,207.2L445.6,206.6L445.0,206.2L444.6,205.9L443.7,205.2L443.6,205.2L442.6,204.4L442.3,204.2L441.6,203.7L440.9,203.2L440.6,203.0L439.6,202.3L439.5,202.2L438.6,201.6L438.0,201.2L437.6,200.9L436.6,200.3L436.5,200.2L435.6,199.6L435.0,199.2L434.6,199.0L433.6,198.3L433.4,198.2L432.6,197.7L431.7,197.2L431.6,197.1L430.6,196.6L430.0,196.2L429.6,196.0L428.6,195.4L428.1,195.2L427.6,194.9L426.6,194.4L426.2,194.2L425.6,193.9L424.6,193.4L424.1,193.2L423.6,192.9L422.6,192.5L421.9,192.2L421.6,192.1L420.6,191.7L419.6,191.3L419.4,191.2L418.6,190.9L417.6,190.5L416.6,190.2L416.6,190.2L415.6,189.9L414.6,189.6L413.6,189.3L413.1,189.2L412.6,189.1L411.6,188.9L410.6,188.6L409.6,188.5L408.6,188.3L408.6,189.2L408.6,190.2L408.6,191.2L408.6,192.2L408.6,193.2L408.6,194.2L408.6,195.2L408.6,196.2L408.6,197.2L408.6,198.2L408.6,199.2L408.6,200.2L408.6,201.2L408.6,202.2L408.6,203.2L408.6,204.2L408.6,205.2L408.6,206.2L408.6,207.2L408.6,208.2L408.6,209.2L408.6,210.2L408.6,211.2L408.6,212.2L408.6,213.2L408.6,214.2L408.6,215.2L408.6,216.2L408.6,217.2L408.6,218.2L408.6,219.2L408.6,220.2L408.6,221.2L408.6,222.2L408.6,223.2L408.6,224.2L408.6,225.2L408.6,226.2L408.6,227.2L408.6,228.2L408.6,229.2L408.6,230.2L408.6,231.2L408.6,232.2L408.6,233.2L408.6,234.2L408.6,235.2L408.6,236.2L408.6,237.2L408.6,238.2L408.6,239.2L408.6,240.2L408.6,241.2L408.6,242.2L408.6,243.2L408.6,244.2L408.6,245.2L408.6,246.2L408.6,247.2L408.6,248.2L408.6,249.2L408.6,250.2L408.6,251.2L408.6,252.2L408.6,253.2L408.6,254.2L408.6,255.2L408.6,256.2L408.6,257.2L408.6,258.2L408.6,259.2L408.6,260.2L408.6,261.2L408.6,262.2L408.6,263.2L408.6,264.2L408.6,265.2L408.6,266.2L408.6,267.2L408.6,268.2L408.6,269.2L408.6,270.2L408.6,271.2L408.6,272.2L408.6,273.2L408.6,274.2L408.6,275.2L408.6,276.2L408.6,277.2L408.6,278.2L408.6,279.2L408.6,280.2L408.6,281.2L408.6,282.2L408.6,283.2L408.6,284.2L408.6,285.2L408.6,286.2L408.6,287.2L408.6,288.2L408.6,289.2L408.6,290.2L408.6,291.2L408.6,292.2L408.6,293.2L408.6,294.2L408.6,295.2L408.6,296.2L408.6,297.2L408.6,298.2L408.6,299.2L408.6,300.2L408.6,301.2L408.6,302.2L408.6,303.2L408.6,304.2L408.6,305.2L408.6,306.2L408.6,307.2L408.6,308.2L408.6,309.2L408.6,310.2L408.6,311.2L408.6,312.2L408.6,313.2L408.6,314.2L408.6,315.2L408.6,316.2L408.6,317.2L408.6,318.2Z" fill="#005cf4" fill-rule="evenodd" stroke="#005cf4" stroke-width="0.3"/>
<path d="M409.6,318.2L410.6,318.2L411.6,318.2L412.6,318.2L413.6,318.2L414.6,318.2L415.6,318.2L416.6,318.2L417.6,318.2L418.6,318.2L419.6,318.2L420.6,318.2L421.6,318.2L422.6,318.2L423.6,318.2L424.6,318.2L425.6,318.2L426.6,318.2L427.6,318.2L428.6,318.2L429.6,318.2L430.6,318.2L431.6,318.2L432.6,318.2L433.6,318.2L434.6,318.2L435.6,318.2L436.6,318.2L437.6,318.2L438.6,318.2L439.6,318.2L440.6,318.2L441.6,318.2L442.6,318.2L443.6,318.2L444.6,318.2L445.6,318.2L446.6,318.2L447.6,318.2L448.6,318.2L449.6,318.2L450.6,318.2L451.6,318.2L452.6,318.2L453.6,318.2L454.6,318.2L455.6,318.2L456.6,318.2L457.6,318.2L458.6,318.2L459.6,318.2L460.6,318.2L461.6,318.2L462.6,318.2L463.6,318.2L464.6,318.2L465.6,318.2L466.6,318.2L467.6,318.2L468.6,318.2L469.6,318.2L470.6,318.2L471.6,318.2L472.6,318.2L473.6,318.2L474.6,318.2L475.6,318.2L476.6,318.2L477.6,318.2L478.6,318.2L479.6,318.2L480.6,318.2L481.6,318.2L482.6,318.2L483.6,318.2L484.6,318.2L485.6,318.2L486.6,318.2L487.6,318.2L488.6,318.2L489.6,318.2L490.6,318.2L491.6,318.2L492.6,318.2L493.6,318.2L494.6,318.2L495.6,318.2L496.6,318.2L497.6,318.2L498.6,318.2L499.6,318.2L500.6,318.2L501.6,318.2L502.6,318.2L503.6,318.2L504.6,318.2L505.6,318.2L506.6,318.2L507.6,318.2L508.6,318.2L509.6,318.2L510.6,318.2L511.6,318.2L512.6,318.2L513.6,318.2L514.6,318.2L515.6,318.2L516.6,318.2L517.6,318.2L518.6,318.2L519.6,318.2L520.6,318.2L521.6,318.2L522.6,318.2L523.6,318.2L524.6,318.2L525.6,318.2L526.6,318.2L527.6,318.2L528.6,318.2L529.6,318.2L530.6,318.2L531.6,318.2L532.6,318.2L533.6,318.2L534.6,318.2L535.6,318.2L536.6,318.2L537.6,318.2L538.6,318.2L539.6,318.2L540.6,318.2L541.6,318.2L542.6,318.2L543.6,318.2L544.6,318.2L545.6,318.2L546.6,318.2L547.6,318.2L548.6,318.2L548.6,317.2L548.6,316.2L548.6,315.2L548.6,314.2L548.6,313.2L548.6,312.2L548.6,311.2L548.6,310.2L548.6,309.2L548.6,308.2L548.6,307.2L548.6,306.2L548.6,305.2L548.6,304.2L548.6,303.2L548.6,302.2L548.6,301.2L548.6,300.2L548.6,299.2L548.6,298.2L548.6,297.2L548.6,296.2L548.6,295.2L548.6,294.2L548.6,293.2L548.6,292.2L548.6,291.2L548.6,290.2L548.6,289.2L548.6,288.2L548.6,287.2L548.6,286.2L548.6,285.2L548.6,284.2L548.6,283.2L548.6,282.2L548.6,281.2L548.6,280.2L548.6,279.2L548.6,278.2L548.6,277.2L548.6,276.2L548.6,275.2L548.6,274.2L548.6,273.2L548.6,272.2L548.6,271.2L548.6,270.2L548.6,269.2L548.6,268.2L548.6,267.2L548.6,266.2L548.6,265.2L548.6,264.2L548.6,263.5L547.6,263.6L546.6,263.8L545.6,263.9L544.6,264.0L543.6,264.1L542.6,264.2L541.7,264.2L541.6,264.2L540.6,264.2L539.6,264.2L538.6,264.2L538.2,264.2L537.6,264.2L536.6,264.1L535.6,264.1L534.6,264.0L533.6,263.9L532.6,263.8L531.6,263.6L530.6,263.5L529.6,263.3L529.0,263.2L528.6,263.1L527.6,262.9L526.6,262.7L525.6,262.5L524.6,262.3L524.2,262.2L523.6,262.0L522.6,261.8L521.6,261.5L520.6,261.2L520.5,261.2L519.6,260.9L518.6,260.6L517.6,260.3L517.3,260.2L516.6,260.0L515.6,259.6L514.6,259.2L514.5,259.2L513.6,258.9L512.6,258.5L511.9,258.2L511.6,258.1L510.6,257.7L509.6,257.3L509.4,257.2L508.6,256.8L507.6,256.4L507.1,256.2L506.6,256.0L505.6,255.5L505.0,255.2L504.6,255.0L503.6,254.5L502.9,254.2L502.6,254.0L501.6,253.5L501.0,253.2L500.6,253.0L499.6,252.5L499.1,252.2L498.6,252.0L497.6,251.4L497.2,251.2L496.6,250.9L495.6,250.3L495.4,250.2L494.6,249.7L493.7,249.2L493.6,249.1L492.6,248.5L492.1,248.2L491.6,247.9L490.6,247.3L490.4,247.2L489.6,246.7L488.8,246.2L488.6,246.0L487.6,245.4L487.3,245.2L486.6,244.7L485.8,244.2L485.6,244.1L484.6,243.4L484.3,243.2L483.6,242.7L482.8,242.2L482.6,242.0L481.6,241.3L481.4,241.2L480.6,240.6L480.0,240.2L479.6,239.9L478.6,239.2L478.6,239.2L477.6,238.5L477.2,238.2L476.6,237.7L475.9,237.2L475.6,237.0L474.6,236.2L474.5,236.2L473.6,235.5L473.2,235.2L472.6,234.7L471.9,234.2L471.6,234.0L470.6,233.2L470.6,233.2L469.6,232.4L469.3,232.2L468.6,231.6L468.1,231.2L467.6,230.8L466.8,230.2L466.6,230.0L465.6,229.2L465.6,229.2L464.6,228.4L464.3,228.2L463.6,227.6L463.1,227.2L462.6,226.8L461.8,226.2L461.6,226.0L460.6,225.2L460.6,225.2L459.6,224.4L459.4,224.2L458.6,223.6L458.1,223.2L457.6,222.8L456.9,222.2L456.6,221.9L455.7,221.2L455.6,221.1L454.6,220.3L454.4,220.2L453.6,219.5L453.2,219.2L452.6,218.7L452.0,218.2L451.6,217.9L450.7,217.2L450.6,217.1L449.6,216.3L449.5,216.2L448.6,215.5L448.2,215.2L447.6,214.7L446.9,214.2L446.6,213.9L445.6,213.2L445.6,213.2L444.6,212.4L444.3,212.2L443.6,211.6L443.0,211.2L442.6,210.9L441.7,210.2L441.6,210.1L440.6,209.4L440.3,209.2L439.6,208.7L438.9,208.2L438.6,208.0L437.6,207.3L437.5,207.2L436.6,206.6L436.1,206.2L435.6,205.9L434.6,205.2L434.6,205.2L433.6,204.6L433.0,204.2L432.6,203.9L431.6,203.3L431.4,203.2L430.6,202.7L429.8,202.2L429.6,202.1L428.6,201.5L428.0,201.2L427.6,201.0L426.6,200.4L426.2,200.2L425.6,199.9L424.6,199.4L424.3,199.2L423.6,198.9L422.6,198.4L422.2,198.2L421.6,197.9L420.6,197.5L419.9,197.2L419.6,197.1L418.6,196.7L417.6,196.3L417.3,196.2L416.6,195.9L415.6,195.6L414.6,195.3L414.3,195.2L413.6,195.0L412.6,194.7L411.6,194.4L410.6,194.2L410.6,194.2L409.6,194.0L408.6,193.8L408.6,194.2L408.6,195.2L408.6,196.2L408.6,197.2L408.6,198.2L408.6,199.2L408.6,200.2L408.6,201.2L408.6,202.2L408.6,203.2L408.6,204.2L408.6,205.2L408.6,206.2L408.6,207.2L408.6,208.2L408.6,209.2L408.6,210.2L408.6,211.2L408.6,212.2L408.6,213.2L408.6,214.2L408.6,215.2L408.6,216.2L408.6,217.2L408.6,218.2L408.6,219.2L408.6,220.2L408.6,221.2L408.6,222.2L408.6,223.2L408.6,224.2L408.6,225.2L408.6,226.2L408.6,227.2L408.6,228.2L408.6,229.2L408.6,230.2L408.6,231.2L408.6,232.2L408.6,233.2L408.6,234.2L408.6,235.2L408.6,236.2L408.6,237.2L408.6,238.2L408.6,239.2L408.6,240.2L408.6,241.2L408.6,242.2L408.6,243.2L408.6,244.2L408.6,245.2L408.6,246.2L408.6,247.2L408.6,248.2L408.6,249.2L408.6,250.2L408.6,251.2L408.6,252.2L408.6,253.2L408.6,254.2L408.6,255.2L408.6,256.2L408.6,257.2L408.6,258.2L408.6,259.2L408.6,260.2L408.6,261.2L408.6,262.2L408.6,263.2L408.6,264.2L408.6,265.2L408.6,266.2L408.6,267.2L408.6,268.2L408.6,269.2L408.6,270.2L408.6,271.2L408.6,272.2L408.6,273.2L408.6,274.2L408.6,275.2L408.6,276.2L408.6,277.2L408.6,278.2L408.6,279.2L408.6,280.2L408.6,281.2L408.6,282.2L408.6,283.2L408.6,284.2L408.6,285.2L408.6,286.2L408.6,287.2L408.6,288.2L408.6,289.2L408.6,290.2L408.6,291.2L408.6,292.2L408.6,293.2L408.6,294.2L408.6,295.2L408.6,296.2L408.6,297.2L408.6,298.2L408.6,299.2L408.6,300.2L408.6,301.2L408.6,302.2L408.6,303.2L408.6,304.2L408.6,305.2L408.6,306.2L408.6,307.2L408.6,308.2L408.6,309.2L408.6,310.2L408.6,311.2L408.6,312.2L408.6,313.2L408.6,314.2L408.6,315.2L408.6,316.2L408.6,317.2L408.6,318.2Z" fill="#0070f5" fill-rule="evenodd" stroke="#0070f5" stroke-width="0.3"/>
<path d="M409.6,318.2L410.6,318.2L411.6,318.2L412.6,318.2L413.6,318.2L414.6,318.2L415.6,318.2L416.6,318.2L417.6,318.2L418.6,318.2L419.6,318.2L420.6,318.2L421.6,318.2L422.6,318.2L423.6,318.2L424.6,318.2L425.6,318.2L426.6,318.2L427.6,318.2L428.6,318.2L429.6,318.2L430.6,318.2L431.6,318.2L432.6,318.2L433.6,318.2L434.6,318.2L435.6,318.2L436.6,318.2L437.6,318.2L438.6,318.2L439.6,318.2L440.6,318.2L441.6,318.2L442.6,318.2L443.6,318.2L444.6,318.2L445.6,318.2L446.6,318.2L447.6,318.2L448.6,318.2L449.6,318.2L450.6,318.2L451.6,318.2L452.6,318.2L453.6,318.2L454.6,318.2L455.6,318.2L456.6,318.2L457.6,318.2L458.6,318.2L459.6,318.2L460.6,318.2L461.6,318.2L462.6,318.2L463.6,318.2L464.6,318.2L465.6,318.2L466.6,318.2L467.6,318.2L468.6,318.2L469.6,318.2L470.6,318.2L471.6,318.2L472.6,318.2L473.6,318.2L474.6,318.2L475.6,318.2L476.6,318.2L477.6,318.2L478.6,318.2L479.6,318.2L480.6,318.2L481.6,318.2L482.6,318.2L483.6,318.2L484.6,318.2L485.6,318.2L486.6,318.2L487.6,318.2L488.6,318.2L489.6,318.2L490.6,318.2L491.6,318.2L492.6,318.2L493.6,318.2L494.6,318.2L495.6,318.2L496.6,318.2L497.6,318.2L498.6,318.2L499.6,318.2L500.6,318.2L501.6,318.2L502.6,318.2L503.6,318.2L504.6,318.2L505.6,318.2L506.6,318.2L507.6,318.2L508.6,318.2L509.6,318.2L510.6,318.2L511.6,318.2L512.6,318.2L513.6,318.2L514.6,318.2L515.6,318.2L516.6,318.2L517.6,318.2L518.6,318.2L519.6,318.2L520.6,318.2L521.6,318.2L522.6,318.2L523.6,318.2L524.6,318.2L525.6,318.2L526.6,318.2L527.6,318.2L528.6,318.2L529.6,318.2L530.6,318.2L531.6,318.2L532.6,318.2L533.6,318.2L534.6,318.2L535.6,318.2L536.6,318.2L537.6,318.2L538.6,318.2L539.6,318.2L540.6,318.2L541.6,318.2L542.6,318.2L543.6,318.2L544.6,318.2L545.6,318.2L546.6,318.2L547.6,318.2L548.6,318.2L548.6,317.2L548.6,316.2L548.6,315.2L548.6,314.2L548.6,313.2L548.6,312.2L548.6,311.2L548.6,310.2L548.6,309.2L548.6,308.2L548.6,307.2L548.6,306.2L548.6,305.2L548.6,304.2L548.6,303.2L548.6,302.2L548.6,301.2L548.6,300.2L548.6,299.2L548.6,298.2L548.6,297.2L548.6,296.2L548.6,295.2L548.6,294.2L548.6,293.2L548.6,292.2L548.6,291.2L548.6,290.2L548.6,289.2L548.6,288.2L548.6,287.2L548.6,286.2L548.6,285.2L548.6,284.2L548.6,283.2L548.6,282.2L548.6,281.2L548.6,280.2L548.6,279.2L548.6,278.2L548.6,277.2L548.6,276.2L548.6,275.2L548.6,274.2L548.6,273.2L548.6,272.2L548.6,271.2L548.6,270.7L547.6,270.9L546.6,271.0L545.6,271.1L544.6,271.2L544.1,271.2L543.6,271.2L542.6,271.3L541.6,271.3L540.6,271.3L539.6,271.2L538.9,271.2L538.6,271.2L537.6,271.1L536.6,271.0L535.6,270.9L534.6,270.8L533.6,270.7L532.6,270.5L531.6,270.4L530.6,270.2L530.5,270.2L529.6,270.0L528.6,269.8L527.6,269.6L526.6,269.4L525.9,269.2L525.6,269.1L524.6,268.9L523.6,268.6L522.6,268.3L522.3,268.2L521.6,268.0L520.6,267.7L519.6,267.4L519.1,267.2L518.6,267.0L517.6,266.7L516.6,266.3L516.2,266.2L515.6,266.0L514.6,265.6L513.6,265.2L513.6,265.2L512.6,264.8L511.6,264.4L511.1,264.2L510.6,264.0L509.6,263.5L508.8,263.2L508.6,263.1L507.6,262.6L506.6,262.2L506.6,262.2L505.6,261.7L504.6,261.2L504.6,261.2L503.6,260.7L502.6,260.2L502.6,260.2L501.6,259.7L500.6,259.2L500.6,259.2L499.6,258.6L498.8,258.2L498.6,258.1L497.6,257.5L497.0,257.2L496.6,257.0L495.6,256.4L495.3,256.2L494.6,255.8L493.6,255.2L493.6,255.2L492.6,254.6L491.9,254.2L491.6,254.0L490.6,253.4L490.3,253.2L489.6,252.7L488.8,252.2L488.6,252.1L487.6,251.4L487.2,251.2L486.6,250.8L485.7,250.2L485.6,250.1L484.6,249.4L484.2,249.2L483.6,248.8L482.8,248.2L482.6,248.1L481.6,247.4L481.4,247.2L480.6,246.7L480.0,246.2L479.6,245.9L478.6,245.2L478.6,245.2L477.6,244.5L477.2,244.2L476.6,243.7L475.9,243.2L475.6,243.0L474.6,242.2L474.6,242.2L473.6,241.5L473.3,241.2L472.6,240.7L472.0,240.2L471.6,239.9L470.7,239.2L470.6,239.1L469.6,238.4L469.4,238.2L468.6,237.6L468.1,237.2L467.6,236.8L466.9,236.2L466.6,236.0L465.6,235.2L465.6,235.2L464.6,234.4L464.4,234.2L463.6,233.5L463.2,233.2L462.6,232.7L462.0,232.2L461.6,231.9L460.7,231.2L460.6,231.1L459.6,230.3L459.5,230.2L458.6,229.4L458.3,229.2L457.6,228.6L457.1,228.2L456.6,227.8L455.9,227.2L455.6,227.0L454.7,226.2L454.6,226.1L453.6,225.3L453.5,225.2L452.6,224.5L452.3,224.2L451.6,223.7L451.0,223.2L450.6,222.8L449.8,222.2L449.6,222.0L448.6,221.2L448.6,221.2L447.6,220.4L447.3,220.2L446.6,219.6L446.1,219.2L445.6,218.8L444.8,218.2L444.6,218.0L443.6,217.3L443.5,217.2L442.6,216.5L442.2,216.2L441.6,215.7L440.9,215.2L440.6,215.0L439.6,214.2L439.6,214.2L438.6,213.5L438.2,213.2L437.6,212.8L436.8,212.2L436.6,212.0L435.6,211.3L435.4,211.2L434.6,210.7L433.9,210.2L433.6,210.0L432.6,209.3L432.4,209.2L431.6,208.7L430.9,208.2L430.6,208.0L429.6,207.4L429.3,207.2L428.6,206.8L427.6,206.2L427.6,206.2L426.6,205.6L425.8,205.2L425.6,205.1L424.6,204.6L423.9,204.2L423.6,204.0L422.6,203.5L421.9,203.2L421.6,203.0L420.6,202.6L419.7,202.2L419.6,202.1L418.6,201.7L417.6,201.3L417.3,201.2L416.6,200.9L415.6,200.6L414.6,200.2L414.6,200.2L413.6,199.9L412.6,199.6L411.6,199.3L411.2,199.2L410.6,199.0L409.6,198.8L408.6,198.6L408.6,199.2L408.6,200.2L408.6,201.2L408.6,202.2L408.6,203.2L408.6,204.2L408.6,205.2L408.6,206.2L408.6,207.2L408.6,208.2L408.6,209.2L408.6,210.2L408.6,211.2L408.6,212.2L408.6,213.2L408.6,214.2L408.6,215.2L408.6,216.2L408.6,217.2L408.6,218.2L408.6,219.2L408.6,220.2L408.6,221.2L408.6,222.2L408.6,223.2L408.6,224.2L408.6,225.2L408.6,226.2L408.6,227.2L408.6,228.2L408.6,229.2L408.6,230.2L408.6,231.2L408.6,232.2L408.6,233.2L408.6,234.2L408.6,235.2L408.6,236.2L408.6,237.2L408.6,238.2L408.6,239.2L408.6,240.2L408.6,241.2L408.6,242.2L408.6,243.2L408.6,244.2L408.6,245.2L408.6,246.2L408.6,247.2L408.6,248.2L408.6,249.2L408.6,250.2L408.6,251.2L408.6,252.2L408.6,253.2L408.6,254.2L408.6,255.2L408.6,256.2L408.6,257.2L408.6,258.2L408.6,259.2L408.6,260.2L408.6,261.2L408.6,262.2L408.6,263.2L408.6,264.2L408.6,265.2L408.6,266.2L408.6,267.2L408.6,268.2L408.6,269.2L408.6,270.2L408.6,271.2L408.6,272.2L408.6,273.2L408.6,274.2L408.6,275.2L408.6,276.2L408.6,277.2L408.6,278.2L408.6,279.2L408.6,280.2L408.6,281.2L408.6,282.2L408.6,283.2L408.6,284.2L408.6,285.2L408.6,286.2L408.6,287.2L408.6,288.2L408.6,289.2L408.6,290.2L408.6,291.2L408.6,292.2L408.6,293.2L408.6,294.2L408.6,295.2L408.6,296.2L408.6,297.2L408.6,298.2L408.6,299.2L408.6,300.2L408.6,301.2L408.6,302.2L408.6,303.2L408.6,304.2L408.6,305.2L408.6,306.2L408.6,307.2L408.6,308.2L408.6,309.2L408.6,310.2L408.6,311.2L408.6,312.2L408.6,313.2L408.6,314.2L408.6,315.2L408.6,316.2L408.6,317.2L408.6,318.2Z" fill="#0085f7" fill-rule="evenodd" stroke="#0085f7" stroke-width="0.3"/>
<path d="M409.6,318.2L410.6,318.2L411.6,318.2L412.6,318.2L413.6,318.2L414.6,318.2L415.6,318.2L416.6,318.2L417.6,318.2L418.6,318.2L419.6,318.2L420.6,318.2L421.6,318.2L422.6,318.2L423.6,318.2L424.6,318.2L425.6,318.2L426.6,318.2L427.6,318.2L428.6,318.2L429.6,318.2L430.6,318.2L431.6,318.2L432.6,318.2L433.6,318.2L434.6,318.2L435.6,318.2L436.6,318.2L437.6,318.2L438.6,318.2L439.6,318.2L440.6,318.2L441.6,318.2L442.6,318.2L443.6,318.2L444.6,318.2L445.6,318.2L446.6,318.2L447.6,318.2L448.6,318.2L449.6,318.2L450.6,318.2L451.6,318.2L452.6,318.2L453.6,318.2L454.6,318.2L455.6,318.2L456.6,318.2L457.6,318.2L458.6,318.2L459.6,318.2L460.6,318.2L461.6,318.2L462.6,318.2L463.6,318.2L464.6,318.2L465.6,318.2L466.6,318.2L467.6,318.2L468.6,318.2L469.6,318.2L470.6,318.2L471.6,318.2L472.6,318.2L473.6,318.2L474.6,318.2L475.6,318.2L476.6,318.2L477.6,318.2L478.6,318.2L479.6,318.2L480.6,318.2L481.6,318.2L482.6,318.2L483.6,318.2L484.6,318.2L485.6,318.2L486.6,318.2L487.6,318.2L488.6,318.2L489.6,318.2L490.6,318.2L491.6,318.2L492.6,318.2L493.6,318.2L494.6,318.2L495.6,318.2L496.6,318.2L497.6,318.2L498.6,318.2L499.6,318.2L500.6,318.2L501.6,318.2L502.6,318.2L503.6,318.2L504.6,318.2L505.6,318.2L506.6,318.2L507.6,318.2L508.6,318.2L509.6,318.2L510.6,318.2L511.6,318.2L512.6,318.2L513.6,318.2L514.6,318.2L515.6,318.2L516.6,318.2L517.6,318.2L518.6,318.2L519.6,318.2L520.6,318.2L521.6,318.2L522.6,318.2L523.6,318.2L524.6,318.2L525.6,318.2L526.6,318.2L527.6,318.2L528.6,318.2L529.6,318.2L530.6,318.2L531.6,318.2L532.6,318.2L533.6,318.2L534.6,318.2L535.6,318.2L536.6,318.2L537.6,318.2L538.6,318.2L539.6,318.2L540.6,318.2L541.6,318.2L542.6,318.2L543.6,318.2L544.6,318.2L545.6,318.2L546.6,318.2L547.6,318.2L548.6,318.2L548.6,317.2L548.6,316.2L548.6,315.2L548.6,314.2L548.6,313.2L548.6,312.2L548.6,311.2L548.6,310.2L548.6,309.2L548.6,308.2L548.6,307.2L548.6,306.2L548.6,305.2L548.6,304.2L548.6,303.2L548.6,302.2L548.6,301.2L548.6,300.2L548.6,299.2L548.6,298.2L548.6,297.2L548.6,296.2L548.6,295.2L548.6,294.2L548.6,293.2L548.6,292.2L548.6,291.2L548.6,290.2L548.6,289.2L548.6,288.2L548.6,287.2L548.6,286.2L548.6,285.2L548.6,284.2L548.6,283.2L548.6,282.2L548.6,281.2L548.6,280.2L548.6,279.2L548.6,278.2L548.6,278.0L547.6,278.1L546.6,278.2L546.1,278.2L545.6,278.2L544.6,278.3L543.6,278.3L542.6,278.2L541.6,278.2L541.6,278.2L540.6,278.1L539.6,278.1L538.6,278.0L537.6,277.9L536.6,277.7L535.6,277.6L534.6,277.4L533.6,277.3L533.3,277.2L532.6,277.1L531.6,276.9L530.6,276.6L529.6,276.4L528.7,276.2L528.6,276.2L527.6,275.9L526.6,275.6L525.6,275.4L525.1,275.2L524.6,275.1L523.6,274.8L522.6,274.4L521.9,274.2L521.6,274.1L520.6,273.8L519.6,273.4L519.0,273.2L518.6,273.0L517.6,272.7L516.6,272.3L516.4,272.2L515.6,271.9L514.6,271.5L513.9,271.2L513.6,271.1L512.6,270.7L511.6,270.2L511.6,270.2L510.6,269.8L509.6,269.3L509.3,269.2L508.6,268.9L507.6,268.4L507.2,268.2L506.6,267.9L505.6,267.4L505.2,267.2L504.6,266.9L503.6,266.4L503.3,266.2L502.6,265.9L501.6,265.3L501.4,265.2L500.6,264.8L499.6,264.2L499.5,264.2L498.6,263.7L497.8,263.2L497.6,263.1L496.6,262.5L496.0,262.2L495.6,261.9L494.6,261.3L494.4,261.2L493.6,260.7L492.7,260.2L492.6,260.1L491.6,259.5L491.1,259.2L490.6,258.9L489.6,258.2L489.6,258.2L488.6,257.6L488.0,257.2L487.6,256.9L486.6,256.2L486.5,256.2L485.6,255.6L485.1,255.2L484.6,254.9L483.6,254.2L483.6,254.2L482.6,253.5L482.2,253.2L481.6,252.8L480.8,252.2L480.6,252.1L479.6,251.3L479.4,251.2L478.6,250.6L478.1,250.2L477.6,249.9L476.7,249.2L476.6,249.1L475.6,248.4L475.4,248.2L474.6,247.6L474.1,247.2L473.6,246.8L472.8,246.2L472.6,246.1L471.6,245.3L471.5,245.2L470.6,244.5L470.2,244.2L469.6,243.7L469.0,243.2L468.6,242.9L467.7,242.2L467.6,242.1L466.6,241.3L466.5,241.2L465.6,240.5L465.3,240.2L464.6,239.6L464.1,239.2L463.6,238.8L462.8,238.2L462.6,238.0L461.6,237.2L461.6,237.2L460.6,236.3L460.4,236.2L459.6,235.5L459.2,235.2L458.6,234.7L458.0,234.2L457.6,233.8L456.8,233.2L456.6,233.0L455.6,232.2L455.6,232.2L454.6,231.3L454.4,231.2L453.6,230.5L453.3,230.2L452.6,229.7L452.1,229.2L451.6,228.8L450.9,228.2L450.6,228.0L449.6,227.2L449.6,227.2L448.6,226.3L448.4,226.2L447.6,225.5L447.2,225.2L446.6,224.7L446.0,224.2L445.6,223.9L444.7,223.2L444.6,223.1L443.6,222.3L443.5,222.2L442.6,221.5L442.2,221.2L441.6,220.7L440.9,220.2L440.6,219.9L439.6,219.2L439.6,219.2L438.6,218.4L438.3,218.2L437.6,217.7L436.9,217.2L436.6,216.9L435.6,216.2L435.6,216.2L434.6,215.5L434.2,215.2L433.6,214.8L432.7,214.2L432.6,214.1L431.6,213.5L431.2,213.2L430.6,212.8L429.7,212.2L429.6,212.2L428.6,211.5L428.1,211.2L427.6,210.9L426.6,210.3L426.4,210.2L425.6,209.7L424.6,209.2L424.6,209.2L423.6,208.6L422.8,208.2L422.6,208.1L421.6,207.6L420.8,207.2L420.6,207.1L419.6,206.7L418.6,206.2L418.6,206.2L417.6,205.8L416.6,205.4L416.2,205.2L415.6,205.0L414.6,204.6L413.6,204.3L413.4,204.2L412.6,203.9L411.6,203.6L410.6,203.4L410.0,203.2L409.6,203.1L408.6,202.9L408.6,203.2L408.6,204.2L408.6,205.2L408.6,206.2L408.6,207.2L408.6,208.2L408.6,209.2L408.6,210.2L408.6,211.2L408.6,212.2L408.6,213.2L408.6,214.2L408.6,215.2L408.6,216.2L408.6,217.2L408.6,218.2L408.6,219.2L408.6,220.2L408.6,221.2L408.6,222.2L408.6,223.2L408.6,224.2L408.6,225.2L408.6,226.2L408.6,227.2L408.6,228.2L408.6,229.2L408.6,230.2L408.6,231.2L408.6,232.2L408.6,233.2L408.6,234.2L408.6,235.2L408.6,236.2L408.6,237.2L408.6,238.2L408.6,239.2L408.6,240.2L408.6,241.2L408.6,242.2L408.6,243.2L408.6,244.2L408.6,245.2L408.6,246.2L408.6,247.2L408.6,248.2L408.6,249.2L408.6,250.2L408.6,251.2L408.6,252.2L408.6,253.2L408.6,254.2L408.6,255.2L408.6,256.2L408.6,257.2L408.6,258.2L408.6,259.2L408.6,260.2L408.6,261.2L408.6,262.2L408.6,263.2L408.6,264.2L408.6,265.2L408.6,266.2L408.6,267.2L408.6,268.2L408.6,269.2L408.6,270.2L408.6,271.2L408.6,272.2L408.6,273.2L408.6,274.2L408.6,275.2L408.6,276.2L408.6,277.2L408.6,278.2L408.6,279.2L408.6,280.2L408.6,281.2L408.6,282.2L408.6,283.2L408.6,284.2L408.6,285.2L408.6,286.2L408.6,287.2L408.6,288.2L408.6,289.2L408.6,290.2L408.6,291.2L408.6,292.2L408.6,293.2L408.6,294.2L408.6,295.2L408.6,296.2L408.6,297.2L408.6,298.2L408.6,299.2L408.6,300.2L408.6,301.2L408.6,302.2L408.6,303.2L408.6,304.2L408.6,305.2L408.6,306.2L408.6,307.2L408.6,308.2L408.6,309.2L408.6,310.2L408.6,311.2L408.6,312.2L408.6,313.2L408.6,314.2L408.6,315.2L408.6,316.2L408.6,317.2L408.6,318.2Z" fill="#0099f8" fill-rule="evenodd" stroke="#0099f8" stroke-width="0.3"/>
<path d="M409.6,318.2L410.6,318.2L411.6,318.2L412.6,318.2L413.6,318.2L414.6,318.2L415.6,318.2L416.6,318.2L417.6,318.2L418.6,318.2L419.6,318.2L420.6,318.2L421.6,318.2L422.6,318.2L423.6,318.2L424.6,318.2L425.6,318.2L426.6,318.2L427.6,318.2L428.6,318.2L429.6,318.2L430.6,318.2L431.6,318.2L432.6,318.2L433.6,318.2L434.6,318.2L435.6,318.2L436.6,318.2L437.6,318.2L438.6,318.2L439.6,318.2L440.6,318.2L441.6,318.2L442.6,318.2L443.6,318.2L444.6,318.2L445.6,318.2L446.6,318.2L447.6,318.2L448.6,318.2L449.6,318.2L450.6,318.2L451.6,318.2L452.6,318.2L453.6,318.2L454.6,318.2L455.6,318.2L456.6,318.2L457.6,318.2L458.6,318.2L459.6,318.2L460.6,318.2L461.6,318.2L462.6,318.2L463.6,318.2L464.6,318.2L465.6,318.2L466.6,318.2L467.6,318.2L468.6,318.2L469.6,318.2L470.6,318.2L471.6,318.2L472.6,318.2L473.6,318.2L474.6,318.2L475.6,318.2L476.6,318.2L477.6,318.2L478.6,318.2L479.6,318.2L480.6,318.2L481.6,318.2L482.6,318.2L483.6,318.2L484.6,318.2L485.6,318.2L486.6,318.2L487.6,318.2L488.6,318.2L489.6,318.2L490.6,318.2L491.6,318.2L492.6,318.2L493.6,318.2L494.6,318.2L495.6,318.2L496.6,318.2L497.6,318.2L498.6,318.2L499.6,318.2L500.6,318.2L501.6,318.2L502.6,318.2L503.6,318.2L504.6,318.2L505.6,318.2L506.6,318.2L507.6,318.2L508.6,318.2L509.6,318.2L510.6,318.2L511.6,318.2L512.6,318.2L513.6,318.2L514.6,318.2L515.6,318.2L516.6,318.2L517.6,318.2L518.6,318.2L519.6,318.2L520.6,318.2L521.6,318.2L522.6,318.2L523.6,318.2L524.6,318.2L525.6,318.2L526.6,318.2L527.6,318.2L528.6,318.2L529.6,318.2L530.6,318.2L531.6,318.2L532.6,318.2L533.6,318.2L534.6,318.2L535.6,318.2L536.6,318.2L537.6,318.2L538.6,318.2L539.6,318.2L540.6,318.2L541.6,318.2L542.6,318.2L543.6,318.2L544.6,318.2L545.6,318.2L546.6,318.2L547.6,318.2L548.6,318.2L548.6,317.2L548.6,316.2L548.6,315.2L548.6,314.2L548.6,313.2L548.6,312.2L548.6,311.2L548.6,310.2L548.6,309.2L548.6,308.2L548.6,307.2L548.6,306.2L548.6,305.2L548.6,304.2L548.6,303.2L548.6,302.2L548.6,301.2L548.6,300.2L548.6,299.2L548.6,298.2L548.6,297.2L548.6,296.2L548.6,295.2L548.6,294.2L548.6,293.2L548.6,292.2L548.6,291.2L548.6,290.2L548.6,289.2L548.6,288.2L548.6,287.2L548.6,286.2L548.6,285.9L547.6,285.9L546.6,285.9L545.6,285.9L544.6,285.8L543.6,285.7L542.6,285.6L541.6,285.5L540.6,285.3L539.7,285.2L539.6,285.2L538.6,285.0L537.6,284.8L536.6,284.6L535.6,284.4L534.8,284.2L534.6,284.2L533.6,283.9L532.6,283.7L531.6,283.4L531.0,283.2L530.6,283.1L529.6,282.8L528.6,282.5L527.7,282.2L527.6,282.2L526.6,281.8L525.6,281.5L524.7,281.2L524.6,281.2L523.6,280.8L522.6,280.4L522.0,280.2L521.6,280.0L520.6,279.7L519.6,279.3L519.4,279.2L518.6,278.9L517.6,278.4L517.0,278.2L516.6,278.0L515.6,277.6L514.7,277.2L514.6,277.1L513.6,276.7L512.6,276.2L512.5,276.2L511.6,275.8L510.6,275.3L510.4,275.2L509.6,274.8L508.6,274.3L508.4,274.2L507.6,273.8L506.6,273.3L506.4,273.2L505.6,272.8L504.6,272.2L504.5,272.2L503.6,271.7L502.7,271.2L502.6,271.2L501.6,270.6L500.9,270.2L500.6,270.0L499.6,269.5L499.1,269.2L498.6,268.9L497.6,268.3L497.4,268.2L496.6,267.7L495.8,267.2L495.6,267.1L494.6,266.5L494.1,266.2L493.6,265.9L492.6,265.2L492.5,265.2L491.6,264.6L491.0,264.2L490.6,264.0L489.6,263.3L489.4,263.2L488.6,262.6L487.9,262.2L487.6,262.0L486.6,261.3L486.5,261.2L485.6,260.6L485.0,260.2L484.6,259.9L483.6,259.2L483.6,259.2L482.6,258.5L482.2,258.2L481.6,257.8L480.8,257.2L480.6,257.0L479.6,256.3L479.4,256.2L478.6,255.6L478.1,255.2L477.6,254.8L476.8,254.2L476.6,254.1L475.6,253.3L475.5,253.2L474.6,252.5L474.2,252.2L473.6,251.8L472.9,251.2L472.6,251.0L471.6,250.2L471.6,250.2L470.6,249.4L470.4,249.2L469.6,248.6L469.1,248.2L468.6,247.8L467.9,247.2L467.6,247.0L466.7,246.2L466.6,246.1L465.6,245.3L465.5,245.2L464.6,244.5L464.2,244.2L463.6,243.7L463.0,243.2L462.6,242.8L461.9,242.2L461.6,242.0L460.7,241.2L460.6,241.2L459.6,240.3L459.5,240.2L458.6,239.5L458.3,239.2L457.6,238.6L457.1,238.2L456.6,237.8L455.9,237.2L455.6,236.9L454.8,236.2L454.6,236.1L453.6,235.2L453.6,235.2L452.6,234.4L452.4,234.2L451.6,233.5L451.2,233.2L450.6,232.7L450.0,232.2L449.6,231.8L448.8,231.2L448.6,231.0L447.6,230.2L447.6,230.2L446.6,229.3L446.4,229.2L445.6,228.5L445.2,228.2L444.6,227.7L444.0,227.2L443.6,226.9L442.8,226.2L442.6,226.1L441.6,225.3L441.5,225.2L440.6,224.5L440.2,224.2L439.6,223.7L438.9,223.2L438.6,222.9L437.6,222.2L437.6,222.2L436.6,221.4L436.3,221.2L435.6,220.7L435.0,220.2L434.6,219.9L433.6,219.2L433.6,219.2L432.6,218.5L432.1,218.2L431.6,217.8L430.7,217.2L430.6,217.2L429.6,216.5L429.2,216.2L428.6,215.8L427.6,215.2L427.6,215.2L426.6,214.6L425.9,214.2L425.6,214.0L424.6,213.4L424.2,213.2L423.6,212.8L422.6,212.3L422.4,212.2L421.6,211.8L420.6,211.3L420.5,211.2L419.6,210.8L418.6,210.3L418.4,210.2L417.6,209.9L416.6,209.4L416.0,209.2L415.6,209.0L414.6,208.6L413.6,208.3L413.4,208.2L412.6,207.9L411.6,207.6L410.6,207.3L410.2,207.2L409.6,207.0L408.6,206.8L408.6,207.2L408.6,208.2L408.6,209.2L408.6,210.2L408.6,211.2L408.6,212.2L408.6,213.2L408.6,214.2L408.6,215.2L408.6,216.2L408.6,217.2L408.6,218.2L408.6,219.2L408.6,220.2L408.6,221.2L408.6,222.2L408.6,223.2L408.6,224.2L408.6,225.2L408.6,226.2L408.6,227.2L408.6,228.2L408.6,229.2L408.6,230.2L408.6,231.2L408.6,232.2L408.6,233.2L408.6,234.2L408.6,235.2L408.6,236.2L408.6,237.2L408.6,238.2L408.6,239.2L408.6,240.2L408.6,241.2L408.6,242.2L408.6,243.2L408.6,244.2L408.6,245.2L408.6,246.2L408.6,247.2L408.6,248.2L408.6,249.2L408.6,250.2L408.6,251.2L408.6,252.2L408.6,253.2L408.6,254.2L408.6,255.2L408.6,256.2L408.6,257.2L408.6,258.2L408.6,259.2L408.6,260.2L408.6,261.2L408.6,262.2L408.6,263.2L408.6,264.2L408.6,265.2L408.6,266.2L408.6,267.2L408.6,268.2L408.6,269.2L408.6,270.2L408.6,271.2L408.6,272.2L408.6,273.2L408.6,274.2L408.6,275.2L408.6,276.2L408.6,277.2L408.6,278.2L408.6,279.2L408.6,280.2L408.6,281.2L408.6,282.2L408.6,283.2L408.6,284.2L408.6,285.2L408.6,286.2L408.6,287.2L408.6,288.2L408.6,289.2L408.6,290.2L408.6,291.2L408.6,292.2L408.6,293.2L408.6,294.2L408.6,295.2L408.6,296.2L408.6,297.2L408.6,298.2L408.6,299.2L408.6,300.2L408.6,301.2L408.6,302.2L408.6,303.2L408.6,304.2L408.6,305.2L408.6,306.2L408.6,307.2L408.6,308.2L408.6,309.2L408.6,310.2L408.6,311.2L408.6,312.2L408.6,313.2L408.6,314.2L408.6,315.2L408.6,316.2L408.6,317.2L408.6,318.2Z" fill="#00adfa" fill-rule="evenodd" stroke="#00adfa" stroke-width="0.3"/>
<path d="M409.6,318.2L410.6,318.2L411.6,318.2L412.6,318.2L413.6,318.2L414.6,318.2L415.6,318.2L416.6,318.2L417.6,318.2L418.6,318.2L419.6,318.2L420.6,318.2L421.6,318.2L422.6,318.2L423.6,318.2L424.6,318.2L425.6,318.2L426.6,318.2L427.6,318.2L428.6,318.2L429.6,318.2L430.6,318.2L431.6,318.2L432.6,318.2L433.6,318.2L434.6,318.2L435.6,318.2L436.6,318.2L437.6,318.2L438.6,318.2L439.6,318.2L440.6,318.2L441.6,318.2L442.6,318.2L443.6,318.2L444.6,318.2L445.6,318.2L446.6,318.2L447.6,318.2L448.6,318.2L449.6,318.2L450.6,318.2L451.6,318.2L452.6,318.2L453.6,318.2L454.6,318.2L455.6,318.2L456.6,318.2L457.6,318.2L458.6,318.2L459.6,318.2L460.6,318.2L461.6,318.2L462.6,318.2L463.6,318.2L464.6,318.2L465.6,318.2L466.6,318.2L467.6,318.2L468.6,318.2L469.6,318.2L470.6,318.2L471.6,318.2L472.6,318.2L473.6,318.2L474.6,318.2L475.6,318.2L476.6,318.2L477.6,318.2L478.6,318.2L479.6,318.2L480.6,318.2L481.6,318.2L482.6,318.2L483.6,318.2L484.6,318.2L485.6,318.2L486.6,318.2L487.6,318.2L488.6,318.2L489.6,318.2L490.6,318.2L491.6,318.2L492.6,318.2L493.6,318.2L494.6,318.2L495.6,318.2L496.6,318.2L497.6,318.2L498.6,318.2L499.6,318.2L500.6,318.2L501.6,318.2L502.6,318.2L503.6,318.2L504.6,318.2L505.6,318.2L506.6,318.2L507.6,318.2L508.6,318.2L509.6,318.2L510.6,318.2L511.6,318.2L512.6,318.2L513.6,318.2L514.6,318.2L515.6,318.2L516.6,318.2L517.6,318.2L518.6,318.2L519.6,318.2L520.6,318.2L521.6,318.2L522.6,318.2L523.6,318.2L524.6,318.2L525.6,318.2L526.6,318.2L527.6,318.2L528.6,318.2L529.6,318.2L530.6,318.2L531.6,318.2L532.6,318.2L533.6,318.2L534.6,318.2L535.6,318.2L536.6,318.2L537.6,318.2L538.6,318.2L539.6,318.2L540.6,318.2L541.6,318.2L542.6,318.2L543.6,318.2L544.6,318.2L545.6,318.2L546.6,318.2L547.6,318.2L548.3,318.2L548.6,317.8L548.6,317.2L548.6,316.2L548.6,315.2L548.6,314.2L548.6,313.2L548.6,312.2L548.6,311.2L548.6,310.2L548.6,309.2L548.6,308.2L548.6,307.2L548.6,306.2L548.6,305.2L548.6,304.2L548.6,303.2L548.6,302.2L548.6,301.2L548.6,300.2L548.6,299.2L548.6,298.2L548.6,297.2L548.6,296.5L547.7,296.2L547.6,296.2L546.6,295.9L545.6,295.5L544.7,295.2L544.6,295.2L543.6,294.8L542.6,294.5L541.8,294.2L541.6,294.1L540.6,293.8L539.6,293.4L539.0,293.2L538.6,293.1L537.6,292.7L536.6,292.3L536.3,292.2L535.6,291.9L534.6,291.6L533.7,291.2L533.6,291.2L532.6,290.8L531.6,290.4L531.2,290.2L530.6,290.0L529.6,289.6L528.8,289.2L528.6,289.1L527.6,288.7L526.6,288.3L526.4,288.2L525.6,287.9L524.6,287.4L524.1,287.2L523.6,287.0L522.6,286.5L521.9,286.2L521.6,286.1L520.6,285.6L519.7,285.2L519.6,285.2L518.6,284.7L517.6,284.2L517.6,284.2L516.6,283.7L515.6,283.2L515.5,283.2L514.6,282.7L513.6,282.2L513.5,282.2L512.6,281.7L511.6,281.2L511.6,281.2L510.6,280.7L509.7,280.2L509.6,280.2L508.6,279.6L507.8,279.2L507.6,279.1L506.6,278.5L506.0,278.2L505.6,278.0L504.6,277.4L504.2,277.2L503.6,276.8L502.6,276.3L502.5,276.2L501.6,275.7L500.8,275.2L500.6,275.1L499.6,274.5L499.1,274.2L498.6,273.9L497.6,273.3L497.5,273.2L496.6,272.7L495.9,272.2L495.6,272.0L494.6,271.4L494.3,271.2L493.6,270.8L492.7,270.2L492.6,270.1L491.6,269.4L491.2,269.2L490.6,268.8L489.7,268.2L489.6,268.1L488.6,267.4L488.3,267.2L487.6,266.7L486.8,266.2L486.6,266.0L485.6,265.3L485.4,265.2L484.6,264.6L484.0,264.2L483.6,263.9L482.6,263.2L482.6,263.2L481.6,262.5L481.2,262.2L480.6,261.7L479.9,261.2L479.6,261.0L478.6,260.2L478.6,260.2L477.6,259.5L477.3,259.2L476.6,258.7L476.0,258.2L475.6,257.9L474.7,257.2L474.6,257.1L473.6,256.4L473.4,256.2L472.6,255.6L472.2,255.2L471.6,254.8L470.9,254.2L470.6,254.0L469.7,253.2L469.6,253.1L468.6,252.3L468.4,252.2L467.6,251.5L467.2,251.2L466.6,250.7L466.0,250.2L465.6,249.8L464.8,249.2L464.6,249.0L463.6,248.2L463.6,248.2L462.6,247.3L462.5,247.2L461.6,246.5L461.3,246.2L460.6,245.6L460.1,245.2L459.6,244.8L458.9,244.2L458.6,243.9L457.8,243.2L457.6,243.1L456.6,242.2L456.6,242.2L455.6,241.3L455.4,241.2L454.6,240.5L454.3,240.2L453.6,239.6L453.1,239.2L452.6,238.8L451.9,238.2L451.6,237.9L450.8,237.2L450.6,237.0L449.6,236.2L449.6,236.2L448.6,235.3L448.4,235.2L447.6,234.5L447.3,234.2L446.6,233.6L446.1,233.2L445.6,232.8L444.9,232.2L444.6,232.0L443.7,231.2L443.6,231.1L442.6,230.3L442.4,230.2L441.6,229.5L441.2,229.2L440.6,228.7L440.0,228.2L439.6,227.9L438.7,227.2L438.6,227.1L437.6,226.3L437.4,226.2L436.6,225.6L436.1,225.2L435.6,224.8L434.8,224.2L434.6,224.1L433.6,223.3L433.4,223.2L432.6,222.6L432.0,222.2L431.6,221.9L430.6,221.2L430.6,221.2L429.6,220.5L429.1,220.2L428.6,219.8L427.6,219.2L427.6,219.2L426.6,218.6L426.0,218.2L425.6,217.9L424.6,217.3L424.4,217.2L423.6,216.8L422.6,216.2L422.6,216.2L421.6,215.6L420.8,215.2L420.6,215.1L419.6,214.6L418.8,214.2L418.6,214.1L417.6,213.6L416.6,213.2L416.6,213.2L415.6,212.8L414.6,212.4L414.2,212.2L413.6,212.0L412.6,211.6L411.6,211.3L411.3,211.2L410.6,211.0L409.6,210.7L408.6,210.4L408.6,211.2L408.6,212.2L408.6,213.2L408.6,214.2L408.6,215.2L408.6,216.2L408.6,217.2L408.6,218.2L408.6,219.2L408.6,220.2L408.6,221.2L408.6,222.2L408.6,223.2L408.6,224.2L408.6,225.2L408.6,226.2L408.6,227.2L408.6,228.2L408.6,229.2L408.6,230.2L408.6,231.2L408.6,232.2L408.6,233.2L408.6,234.2L408.6,235.2L408.6,236.2L408.6,237.2L408.6,238.2L408.6,239.2L408.6,240.2L408.6,241.2L408.6,242.2L408.6,243.2L408.6,244.2L408.6,245.2L408.6,246.2L408.6,247.2L408.6,248.2L408.6,249.2L408.6,250.2L408.6,251.2L408.6,252.2L408.6,253.2L408.6,254.2L408.6,255.2L408.6,256.2L408.6,257.2L408.6,258.2L408.6,259.2L408.6,260.2L408.6,261.2L408.6,262.2L408.6,263.2L408.6,264.2L408.6,265.2L408.6,266.2L408.6,267.2L408.6,268.2L408.6,269.2L408.6,270.2L408.6,271.2L408.6,272.2L408.6,273.2L408.6,274.2L408.6,275.2L408.6,276.2L408.6,277.2L408.6,278.2L408.6,279.2L408.6,280.2L408.6,281.2L408.6,282.2L408.6,283.2L408.6,284.2L408.6,285.2L408.6,286.2L408.6,287.2L408.6,288.2L408.6,289.2L408.6,290.2L408.6,291.2L408.6,292.2L408.6,293.2L408.6,294.2L408.6,295.2L408.6,296.2L408.6,297.2L408.6,298.2L408.6,299.2L408.6,300.2L408.6,301.2L408.6,302.2L408.6,303.2L408.6,304.2L408.6,305.2L408.6,306.2L408.6,307.2L408.6,308.2L408.6,309.2L408.6,310.2L408.6,311.2L408.6,312.2L408.6,313.2L408.6,314.2L408.6,315.2L408.6,316.2L408.6,317.2L408.6,318.2Z" fill="#00c2fb" fill-rule="evenodd" stroke="#00c2fb" stroke-width="0.3"/>
<path d="M409.6,318.2L410.6,318.2L411.6,318.2L412.6,318.2L413.6,318.2L414.6,318.2L415.6,318.2L416.6,318.2L417.6,318.2L418.6,318.2L419.6,318.2L420.6,318.2L421.6,318.2L422.6,318.2L423.6,318.2L424.6,318.2L425.6,318.2L426.6,318.2L427.6,318.2L428.6,318.2L429.6,318.2L430.6,318.2L431.6,318.2L432.6,318.2L433.6,318.2L434.6,318.2L435.6,318.2L436.6,318.2L437.6,318.2L438.6,318.2L439.6,318.2L440.6,318.2L441.6,318.2L442.6,318.2L443.6,318.2L444.6,318.2L445.6,318.2L446.6,318.2L447.6,318.2L448.6,318.2L449.6,318.2L450.6,318.2L451.6,318.2L452.6,318.2L453.6,318.2L454.6,318.2L455.6,318.2L456.6,318.2L457.6,318.2L458.6,318.2L459.6,318.2L460.6,318.2L461.6,318.2L462.6,318.2L463.6,318.2L464.6,318.2L465.6,318.2L466.6,318.2L467.6,318.2L468.6,318.2L469.6,318.2L470.6,318.2L471.6,318.2L472.6,318.2L473.6,318.2L474.6,318.2L475.6,318.2L476.6,318.2L477.6,318.2L478.6,318.2L479.6,318.2L480.6,318.2L481.6,318.2L482.6,318.2L483.6,318.2L484.6,318.2L485.6,318.2L486.6,318.2L487.6,318.2L488.6,318.2L489.6,318.2L490.6,318.2L491.6,318.2L492.6,318.2L493.6,318.2L494.6,318.2L495.6,318.2L496.6,318.2L497.6,318.2L498.6,318.2L499.6,318.2L500.6,318.2L501.6,318.2L502.6,318.2L503.6,318.2L504.6,318.2L505.6,318.2L506.6,318.2L507.6,318.2L508.6,318.2L509.6,318.2L510.6,318.2L511.6,318.2L512.6,318.2L513.6,318.2L514.6,318.2L515.6,318.2L516.6,318.2L517.6,318.2L518.6,318.2L519.6,318.2L520.6,318.2L521.6,318.2L522.6,318.2L523.6,318.2L524.6,318.2L525.6,318.2L526.6,318.2L527.6,318.2L528.6,318.2L529.6,318.2L530.6,318.2L531.6,318.2L532.6,318.2L533.6,318.2L534.6,318.2L535.6,318.2L536.6,318.2L537.6,318.2L538.2,318.2L538.6,317.2L538.6,317.1L538.9,316.2L539.2,315.2L539.5,314.2L539.6,313.5L539.7,313.2L539.8,312.2L539.8,311.2L539.8,310.2L539.7,309.2L539.6,308.9L539.4,308.2L539.1,307.2L538.7,306.2L538.6,306.1L538.1,305.2L537.6,304.5L537.4,304.2L536.6,303.2L536.6,303.2L535.6,302.2L535.6,302.2L534.6,301.2L534.6,301.2L533.6,300.4L533.4,300.2L532.6,299.6L532.1,299.2L531.6,298.9L530.7,298.2L530.6,298.1L529.6,297.5L529.2,297.2L528.6,296.8L527.7,296.2L527.6,296.2L526.6,295.5L526.1,295.2L525.6,294.9L524.6,294.3L524.4,294.2L523.6,293.7L522.7,293.2L522.6,293.1L521.6,292.5L521.0,292.2L520.6,291.9L519.6,291.4L519.3,291.2L518.6,290.8L517.6,290.2L517.6,290.2L516.6,289.6L515.9,289.2L515.6,289.0L514.6,288.5L514.1,288.2L513.6,287.9L512.6,287.3L512.4,287.2L511.6,286.7L510.7,286.2L510.6,286.1L509.6,285.5L509.0,285.2L508.6,284.9L507.6,284.3L507.4,284.2L506.6,283.7L505.7,283.2L505.6,283.1L504.6,282.5L504.1,282.2L503.6,281.9L502.6,281.3L502.4,281.2L501.6,280.7L500.9,280.2L500.6,280.0L499.6,279.4L499.3,279.2L498.6,278.8L497.7,278.2L497.6,278.1L496.6,277.5L496.2,277.2L495.6,276.8L494.7,276.2L494.6,276.2L493.6,275.5L493.2,275.2L492.6,274.8L491.7,274.2L491.6,274.1L490.6,273.4L490.3,273.2L489.6,272.7L488.8,272.2L488.6,272.0L487.6,271.3L487.4,271.2L486.6,270.6L486.0,270.2L485.6,269.9L484.6,269.2L484.6,269.2L483.6,268.4L483.3,268.2L482.6,267.7L481.9,267.2L481.6,266.9L480.6,266.2L480.6,266.2L479.6,265.4L479.3,265.2L478.6,264.7L478.0,264.2L477.6,263.9L476.7,263.2L476.6,263.1L475.6,262.3L475.5,262.2L474.6,261.5L474.2,261.2L473.6,260.7L473.0,260.2L472.6,259.9L471.7,259.2L471.6,259.1L470.6,258.3L470.5,258.2L469.6,257.5L469.3,257.2L468.6,256.6L468.1,256.2L467.6,255.8L466.9,255.2L466.6,255.0L465.7,254.2L465.6,254.1L464.6,253.3L464.5,253.2L463.6,252.4L463.3,252.2L462.6,251.6L462.2,251.2L461.6,250.7L461.0,250.2L460.6,249.8L459.9,249.2L459.6,249.0L458.7,248.2L458.6,248.1L457.6,247.2L457.6,247.2L456.6,246.4L456.4,246.2L455.6,245.5L455.3,245.2L454.6,244.6L454.1,244.2L453.6,243.8L453.0,243.2L452.6,242.9L451.8,242.2L451.6,242.0L450.7,241.2L450.6,241.1L449.6,240.3L449.5,240.2L448.6,239.4L448.4,239.2L447.6,238.6L447.2,238.2L446.6,237.7L446.0,237.2L445.6,236.8L444.8,236.2L444.6,236.0L443.7,235.2L443.6,235.2L442.6,234.3L442.5,234.2L441.6,233.5L441.3,233.2L440.6,232.7L440.0,232.2L439.6,231.8L438.8,231.2L438.6,231.0L437.6,230.2L437.5,230.2L436.6,229.5L436.3,229.2L435.6,228.7L435.0,228.2L434.6,227.9L433.7,227.2L433.6,227.2L432.6,226.4L432.3,226.2L431.6,225.7L430.9,225.2L430.6,225.0L429.6,224.3L429.5,224.2L428.6,223.6L428.0,223.2L427.6,222.9L426.6,222.3L426.5,222.2L425.6,221.6L424.9,221.2L424.6,221.0L423.6,220.4L423.2,220.2L422.6,219.8L421.6,219.3L421.5,219.2L420.6,218.7L419.6,218.2L419.6,218.2L418.6,217.7L417.6,217.2L417.6,217.2L416.6,216.7L415.6,216.3L415.4,216.2L414.6,215.9L413.6,215.5L412.9,215.2L412.6,215.1L411.6,214.7L410.6,214.4L409.9,214.2L409.6,214.1L408.6,213.8L408.6,214.2L408.6,215.2L408.6,216.2L408.6,217.2L408.6,218.2L408.6,219.2L408.6,220.2L408.6,221.2L408.6,222.2L408.6,223.2L408.6,224.2L408.6,225.2L408.6,226.2L408.6,227.2L408.6,228.2L408.6,229.2L408.6,230.2L408.6,231.2L408.6,232.2L408.6,233.2L408.6,234.2L408.6,235.2L408.6,236.2L408.6,237.2L408.6,238.2L408.6,239.2L408.6,240.2L408.6,241.2L408.6,242.2L408.6,243.2L408.6,244.2L408.6,245.2L408.6,246.2L408.6,247.2L408.6,248.2L408.6,249.2L408.6,250.2L408.6,251.2L408.6,252.2L408.6,253.2L408.6,254.2L408.6,255.2L408.6,256.2L408.6,257.2L408.6,258.2L408.6,259.2L408.6,260.2L408.6,261.2L408.6,262.2L408.6,263.2L408.6,264.2L408.6,265.2L408.6,266.2L408.6,267.2L408.6,268.2L408.6,269.2L408.6,270.2L408.6,271.2L408.6,272.2L408.6,273.2L408.6,274.2L408.6,275.2L408.6,276.2L408.6,277.2L408.6,278.2L408.6,279.2L408.6,280.2L408.6,281.2L408.6,282.2L408.6,283.2L408.6,284.2L408.6,285.2L408.6,286.2L408.6,287.2L408.6,288.2L408.6,289.2L408.6,290.2L408.6,291.2L408.6,292.2L408.6,293.2L408.6,294.2L408.6,295.2L408.6,296.2L408.6,297.2L408.6,298.2L408.6,299.2L408.6,300.2L408.6,301.2L408.6,302.2L408.6,303.2L408.6,304.2L408.6,305.2L408.6,306.2L408.6,307.2L408.6,308.2L408.6,309.2L408.6,310.2L408.6,311.2L408.6,312.2L408.6,313.2L408.6,314.2L408.6,315.2L408.6,316.2L408.6,317.2L408.6,318.2Z" fill="#00d6fc" fill-rule="evenodd" stroke="#00d6fc" stroke-width="0.3"/>
<path d="M409.6,318.2L410.6,318.2L411.6,318.2L412.6,318.2L413.6,318.2L414.6,318.2L415.6,318.2L416.6,318.2L417.6,318.2L418.6,318.2L419.6,318.2L420.6,318.2L421.6,318.2L422.6,318.2L423.6,318.2L424.6,318.2L425.6,318.2L426.6,318.2L427.6,318.2L428.6,318.2L429.6,318.2L430.6,318.2L431.6,318.2L432.6,318.2L433.6,318.2L434.6,318.2L435.6,318.2L436.6,318.2L437.6,318.2L438.6,318.2L439.6,318.2L440.6,318.2L441.6,318.2L442.6,318.2L443.6,318.2L444.6,318.2L445.6,318.2L446.6,318.2L447.6,318.2L448.6,318.2L449.6,318.2L450.6,318.2L451.6,318.2L452.6,318.2L453.6,318.2L454.6,318.2L455.6,318.2L456.6,318.2L457.6,318.2L458.6,318.2L459.6,318.2L460.6,318.2L461.6,318.2L462.6,318.2L463.6,318.2L464.6,318.2L465.6,318.2L466.6,318.2L467.6,318.2L468.6,318.2L469.6,318.2L470.6,318.2L471.6,318.2L472.6,318.2L473.6,318.2L474.6,318.2L475.6,318.2L476.6,318.2L477.6,318.2L478.6,318.2L479.6,318.2L480.6,318.2L481.6,318.2L482.6,318.2L483.6,318.2L484.6,318.2L485.6,318.2L486.6,318.2L487.6,318.2L488.6,318.2L489.6,318.2L490.6,318.2L491.6,318.2L492.6,318.2L493.6,318.2L494.6,318.2L495.6,318.2L496.6,318.2L497.6,318.2L498.6,318.2L499.6,318.2L500.6,318.2L501.6,318.2L502.6,318.2L503.6,318.2L504.6,318.2L505.6,318.2L506.6,318.2L507.6,318.2L508.6,318.2L509.6,318.2L510.6,318.2L511.6,318.2L512.6,318.2L513.6,318.2L514.6,318.2L515.6,318.2L516.6,318.2L517.6,318.2L518.6,318.2L519.6,318.2L520.6,318.2L521.6,318.2L522.6,318.2L523.6,318.2L524.6,318.2L525.6,318.2L526.6,318.2L527.6,318.2L528.6,318.2L529.6,318.2L529.6,318.2L529.8,317.2L529.9,316.2L529.9,315.2L529.9,314.2L529.8,313.2L529.7,312.2L529.6,311.8L529.5,311.2L529.2,310.2L528.8,309.2L528.6,308.8L528.3,308.2L527.8,307.2L527.6,306.9L527.2,306.2L526.6,305.4L526.4,305.2L525.7,304.2L525.6,304.1L524.8,303.2L524.6,303.0L523.8,302.2L523.6,302.0L522.8,301.2L522.6,301.0L521.7,300.2L521.6,300.1L520.6,299.3L520.5,299.2L519.6,298.4L519.3,298.2L518.6,297.6L518.0,297.2L517.6,296.9L516.7,296.2L516.6,296.1L515.6,295.4L515.4,295.2L514.6,294.6L514.0,294.2L513.6,293.9L512.6,293.2L512.6,293.2L511.6,292.5L511.1,292.2L510.6,291.8L509.7,291.2L509.6,291.1L508.6,290.5L508.2,290.2L507.6,289.8L506.8,289.2L506.6,289.1L505.6,288.4L505.3,288.2L504.6,287.7L503.8,287.2L503.6,287.1L502.6,286.4L502.3,286.2L501.6,285.7L500.9,285.2L500.6,285.0L499.6,284.3L499.4,284.2L498.6,283.6L498.0,283.2L497.6,282.9L496.6,282.2L496.5,282.2L495.6,281.5L495.1,281.2L494.6,280.8L493.7,280.2L493.6,280.1L492.6,279.4L492.3,279.2L491.6,278.7L490.9,278.2L490.6,278.0L489.6,277.3L489.5,277.2L488.6,276.5L488.1,276.2L487.6,275.8L486.8,275.2L486.6,275.1L485.6,274.3L485.5,274.2L484.6,273.6L484.1,273.2L483.6,272.8L482.8,272.2L482.6,272.0L481.6,271.3L481.5,271.2L480.6,270.5L480.2,270.2L479.6,269.7L478.9,269.2L478.6,268.9L477.7,268.2L477.6,268.1L476.6,267.3L476.4,267.2L475.6,266.5L475.2,266.2L474.6,265.7L474.0,265.2L473.6,264.9L472.7,264.2L472.6,264.1L471.6,263.3L471.5,263.2L470.6,262.4L470.3,262.2L469.6,261.6L469.1,261.2L468.6,260.8L467.9,260.2L467.6,259.9L466.8,259.2L466.6,259.1L465.6,258.2L465.6,258.2L464.6,257.3L464.4,257.2L463.6,256.5L463.3,256.2L462.6,255.6L462.1,255.2L461.6,254.7L461.0,254.2L460.6,253.9L459.8,253.2L459.6,253.0L458.7,252.2L458.6,252.1L457.6,251.2L457.6,251.2L456.6,250.3L456.4,250.2L455.6,249.5L455.3,249.2L454.6,248.6L454.2,248.2L453.6,247.7L453.0,247.2L452.6,246.8L451.9,246.2L451.6,245.9L450.8,245.2L450.6,245.0L449.6,244.2L449.6,244.2L448.6,243.3L448.5,243.2L447.6,242.4L447.4,242.2L446.6,241.5L446.2,241.2L445.6,240.7L445.1,240.2L444.6,239.8L443.9,239.2L443.6,239.0L442.7,238.2L442.6,238.1L441.6,237.3L441.5,237.2L440.6,236.4L440.3,236.2L439.6,235.6L439.1,235.2L438.6,234.8L437.9,234.2L437.6,233.9L436.7,233.2L436.6,233.1L435.6,232.4L435.4,232.2L434.6,231.6L434.1,231.2L433.6,230.8L432.8,230.2L432.6,230.0L431.6,229.3L431.5,229.2L430.6,228.6L430.1,228.2L429.6,227.9L428.7,227.2L428.6,227.2L427.6,226.5L427.2,226.2L426.6,225.8L425.7,225.2L425.6,225.1L424.6,224.5L424.1,224.2L423.6,223.9L422.6,223.3L422.5,223.2L421.6,222.7L420.7,222.2L420.6,222.1L419.6,221.6L418.9,221.2L418.6,221.1L417.6,220.6L416.8,220.2L416.6,220.1L415.6,219.6L414.6,219.2L414.6,219.2L413.6,218.8L412.6,218.4L412.1,218.2L411.6,218.0L410.6,217.7L409.6,217.3L409.2,217.2L408.6,217.0L408.6,217.2L408.6,218.2L408.6,219.2L408.6,220.2L408.6,221.2L408.6,222.2L408.6,223.2L408.6,224.2L408.6,225.2L408.6,226.2L408.6,227.2L408.6,228.2L408.6,229.2L408.6,230.2L408.6,231.2L408.6,232.2L408.6,233.2L408.6,234.2L408.6,235.2L408.6,236.2L408.6,237.2L408.6,238.2L408.6,239.2L408.6,240.2L408.6,241.2L408.6,242.2L408.6,243.2L408.6,244.2L408.6,245.2L408.6,246.2L408.6,247.2L408.6,248.2L408.6,249.2L408.6,250.2L408.6,251.2L408.6,252.2L408.6,253.2L408.6,254.2L408.6,255.2L408.6,256.2L408.6,257.2L408.6,258.2L408.6,259.2L408.6,260.2L408.6,261.2L408.6,262.2L408.6,263.2L408.6,264.2L408.6,265.2L408.6,266.2L408.6,267.2L408.6,268.2L408.6,269.2L408.6,270.2L408.6,271.2L408.6,272.2L408.6,273.2L408.6,274.2L408.6,275.2L408.6,276.2L408.6,277.2L408.6,278.2L408.6,279.2L408.6,280.2L408.6,281.2L408.6,282.2L408.6,283.2L408.6,284.2L408.6,285.2L408.6,286.2L408.6,287.2L408.6,288.2L408.6,289.2L408.6,290.2L408.6,291.2L408.6,292.2L408.6,293.2L408.6,294.2L408.6,295.2L408.6,296.2L408.6,297.2L408.6,298.2L408.6,299.2L408.6,300.2L408.6,301.2L408.6,302.2L408.6,303.2L408.6,304.2L408.6,305.2L408.6,306.2L408.6,307.2L408.6,308.2L408.6,309.2L408.6,310.2L408.6,311.2L408.6,312.2L408.6,313.2L408.6,314.2L408.6,315.2L408.6,316.2L408.6,317.2L408.6,318.2Z" fill="#00ebfe" fill-rule="evenodd" stroke="#00ebfe" stroke-width="0.3"/>
<path d="M409.6,318.2L410.6,318.2L411.6,318.2L412.6,318.2L413.6,318.2L414.6,318.2L415.6,318.2L416.6,318.2L417.6,318.2L418.6,318.2L419.6,318.2L420.6,318.2L421.6,318.2L422.6,318.2L423.6,318.2L424.6,318.2L425.6,318.2L426.6,318.2L427.6,318.2L428.6,318.2L429.6,318.2L430.6,318.2L431.6,318.2L432.6,318.2L433.6,318.2L434.6,318.2L435.6,318.2L436.6,318.2L437.6,318.2L438.6,318.2L439.6,318.2L440.6,318.2L441.6,318.2L442.6,318.2L443.6,318.2L444.6,318.2L445.6,318.2L446.6,318.2L447.6,318.2L448.6,318.2L449.6,318.2L450.6,318.2L451.6,318.2L452.6,318.2L453.6,318.2L454.6,318.2L455.6,318.2L456.6,318.2L457.6,318.2L458.6,318.2L459.6,318.2L460.6,318.2L461.6,318.2L462.6,318.2L463.6,318.2L464.6,318.2L465.6,318.2L466.6,318.2L467.6,318.2L468.6,318.2L469.6,318.2L470.6,318.2L471.6,318.2L472.6,318.2L473.6,318.2L474.6,318.2L475.6,318.2L476.6,318.2L477.6,318.2L478.6,318.2L479.6,318.2L480.6,318.2L481.6,318.2L482.6,318.2L483.6,318.2L484.6,318.2L485.6,318.2L486.6,318.2L487.6,318.2L488.6,318.2L489.6,318.2L490.6,318.2L491.6,318.2L492.6,318.2L493.6,318.2L494.6,318.2L495.6,318.2L496.6,318.2L497.6,318.2L498.6,318.2L499.6,318.2L500.6,318.2L501.6,318.2L502.6,318.2L503.6,318.2L504.6,318.2L505.6,318.2L506.6,318.2L507.6,318.2L508.6,318.2L509.6,318.2L510.6,318.2L511.6,318.2L512.6,318.2L513.6,318.2L514.6,318.2L515.6,318.2L516.6,318.2L517.6,318.2L518.6,318.2L519.6,318.2L520.6,318.2L521.6,318.2L522.1,318.2L522.1,317.2L522.1,316.2L522.0,315.2L521.8,314.2L521.6,313.2L521.6,313.2L521.3,312.2L521.0,311.2L520.6,310.3L520.5,310.2L520.1,309.2L519.6,308.3L519.5,308.2L518.9,307.2L518.6,306.8L518.2,306.2L517.6,305.4L517.5,305.2L516.7,304.2L516.6,304.1L515.8,303.2L515.6,303.0L514.9,302.2L514.6,301.9L513.9,301.2L513.6,300.9L512.9,300.2L512.6,300.0L511.8,299.2L511.6,299.0L510.7,298.2L510.6,298.2L509.6,297.3L509.5,297.2L508.6,296.4L508.3,296.2L507.6,295.6L507.1,295.2L506.6,294.8L505.8,294.2L505.6,294.0L504.6,293.2L504.6,293.2L503.6,292.4L503.3,292.2L502.6,291.7L502.0,291.2L501.6,290.9L500.7,290.2L500.6,290.1L499.6,289.4L499.4,289.2L498.6,288.6L498.1,288.2L497.6,287.8L496.7,287.2L496.6,287.1L495.6,286.3L495.4,286.2L494.6,285.6L494.1,285.2L493.6,284.8L492.8,284.2L492.6,284.1L491.6,283.3L491.5,283.2L490.6,282.5L490.2,282.2L489.6,281.8L488.9,281.2L488.6,281.0L487.6,280.2L487.6,280.2L486.6,279.5L486.3,279.2L485.6,278.7L485.0,278.2L484.6,277.9L483.7,277.2L483.6,277.1L482.6,276.3L482.5,276.2L481.6,275.5L481.2,275.2L480.6,274.7L480.0,274.2L479.6,273.9L478.7,273.2L478.6,273.1L477.6,272.3L477.5,272.2L476.6,271.5L476.3,271.2L475.6,270.6L475.1,270.2L474.6,269.8L473.9,269.2L473.6,269.0L472.7,268.2L472.6,268.1L471.6,267.3L471.5,267.2L470.6,266.5L470.3,266.2L469.6,265.6L469.1,265.2L468.6,264.7L468.0,264.2L467.6,263.9L466.8,263.2L466.6,263.0L465.7,262.2L465.6,262.1L464.6,261.3L464.5,261.2L463.6,260.4L463.4,260.2L462.6,259.5L462.3,259.2L461.6,258.6L461.1,258.2L460.6,257.7L460.0,257.2L459.6,256.8L458.9,256.2L458.6,256.0L457.8,255.2L457.6,255.1L456.6,254.2L456.6,254.2L455.6,253.3L455.5,253.2L454.6,252.4L454.4,252.2L453.6,251.5L453.3,251.2L452.6,250.6L452.2,250.2L451.6,249.7L451.1,249.2L450.6,248.8L449.9,248.2L449.6,247.9L448.8,247.2L448.6,247.0L447.7,246.2L447.6,246.1L446.6,245.2L446.6,245.2L445.6,244.3L445.4,244.2L444.6,243.5L444.3,243.2L443.6,242.6L443.2,242.2L442.6,241.7L442.0,241.2L441.6,240.9L440.8,240.2L440.6,240.0L439.6,239.2L439.6,239.2L438.6,238.3L438.4,238.2L437.6,237.5L437.2,237.2L436.6,236.7L436.0,236.2L435.6,235.9L434.8,235.2L434.6,235.1L433.6,234.3L433.5,234.2L432.6,233.5L432.2,233.2L431.6,232.7L430.9,232.2L430.6,232.0L429.6,231.3L429.5,231.2L428.6,230.5L428.1,230.2L427.6,229.8L426.7,229.2L426.6,229.2L425.6,228.5L425.2,228.2L424.6,227.8L423.6,227.2L423.6,227.2L422.6,226.6L422.0,226.2L421.6,226.0L420.6,225.4L420.2,225.2L419.6,224.8L418.6,224.3L418.4,224.2L417.6,223.8L416.6,223.3L416.4,223.2L415.6,222.8L414.6,222.3L414.3,222.2L413.6,221.9L412.6,221.5L411.8,221.2L411.6,221.1L410.6,220.8L409.6,220.4L408.9,220.2L408.6,220.1L408.6,220.2L408.6,221.2L408.6,222.2L408.6,223.2L408.6,224.2L408.6,225.2L408.6,226.2L408.6,227.2L408.6,228.2L408.6,229.2L408.6,230.2L408.6,231.2L408.6,232.2L408.6,233.2L408.6,234.2L408.6,235.2L408.6,236.2L408.6,237.2L408.6,238.2L408.6,239.2L408.6,240.2L408.6,241.2L408.6,242.2L408.6,243.2L408.6,244.2L408.6,245.2L408.6,246.2L408.6,247.2L408.6,248.2L408.6,249.2L408.6,250.2L408.6,251.2L408.6,252.2L408.6,253.2L408.6,254.2L408.6,255.2L408.6,256.2L408.6,257.2L408.6,258.2L408.6,259.2L408.6,260.2L408.6,261.2L408.6,262.2L408.6,263.2L408.6,264.2L408.6,265.2L408.6,266.2L408.6,267.2L408.6,268.2L408.6,269.2L408.6,270.2L408.6,271.2L408.6,272.2L408.6,273.2L408.6,274.2L408.6,275.2L408.6,276.2L408.6,277.2L408.6,278.2L408.6,279.2L408.6,280.2L408.6,281.2L408.6,282.2L408.6,283.2L408.6,284.2L408.6,285.2L408.6,286.2L408.6,287.2L408.6,288.2L408.6,289.2L408.6,290.2L408.6,291.2L408.6,292.2L408.6,293.2L408.6,294.2L408.6,295.2L408.6,296.2L408.6,297.2L408.6,298.2L408.6,299.2L408.6,300.2L408.6,301.2L408.6,302.2L408.6,303.2L408.6,304.2L408.6,305.2L408.6,306.2L408.6,307.2L408.6,308.2L408.6,309.2L408.6,310.2L408.6,311.2L408.6,312.2L408.6,313.2L408.6,314.2L408.6,315.2L408.6,316.2L408.6,317.2L408.6,318.2Z" fill="#00ffff" fill-rule="evenodd" stroke="#00ffff" stroke-width="0.3"/>
<path d="M409.6,318.2L410.6,318.2L411.6,318.2L412.6,318.2L413.6,318.2L414.6,318.2L415.6,318.2L416.6,318.2L417.6,318.2L418.6,318.2L419.6,318.2L420.6,318.2L421.6,318.2L422.6,318.2L423.6,318.2L424.6,318.2L425.6,318.2L426.6,318.2L427.6,318.2L428.6,318.2L429.6,318.2L430.6,318.2L431.6,318.2L432.6,318.2L433.6,318.2L434.6,318.2L435.6,318.2L436.6,318.2L437.6,318.2L438.6,318.2L439.6,318.2L440.6,318.2L441.6,318.2L442.6,318.2L443.6,318.2L444.6,318.2L445.6,318.2L446.6,318.2L447.6,318.2L448.6,318.2L449.6,318.2L450.6,318.2L451.6,318.2L452.6,318.2L453.6,318.2L454.6,318.2L455.6,318.2L456.6,318.2L457.6,318.2L458.6,318.2L459.6,318.2L460.6,318.2L461.6,318.2L462.6,318.2L463.6,318.2L464.6,318.2L465.6,318.2L466.6,318.2L467.6,318.2L468.6,318.2L469.6,318.2L470.6,318.2L471.6,318.2L472.6,318.2L473.6,318.2L474.6,318.2L475.6,318.2L476.6,318.2L477.6,318.2L478.6,318.2L479.6,318.2L480.6,318.2L481.6,318.2L482.6,318.2L483.6,318.2L484.6,318.2L485.6,318.2L486.6,318.2L487.6,318.2L488.6,318.2L489.6,318.2L490.6,318.2L491.6,318.2L492.6,318.2L493.6,318.2L494.6,318.2L495.6,318.2L496.6,318.2L497.6,318.2L498.6,318.2L499.6,318.2L500.6,318.2L501.6,318.2L502.6,318.2L503.6,318.2L504.6,318.2L505.6,318.2L506.6,318.2L507.6,318.2L508.6,318.2L509.6,318.2L510.6,318.2L511.6,318.2L512.6,318.2L513.6,318.2L514.6,318.2L515.4,318.2L515.3,317.2L515.2,316.2L515.0,315.2L514.7,314.2L514.6,313.7L514.4,313.2L514.1,312.2L513.7,311.2L513.6,311.1L513.2,310.2L512.7,309.2L512.6,309.1L512.1,308.2L511.6,307.5L511.4,307.2L510.7,306.2L510.6,306.0L510.0,305.2L509.6,304.7L509.2,304.2L508.6,303.5L508.3,303.2L507.6,302.4L507.4,302.2L506.6,301.3L506.5,301.2L505.6,300.3L505.5,300.2L504.6,299.3L504.5,299.2L503.6,298.3L503.5,298.2L502.6,297.4L502.4,297.2L501.6,296.5L501.3,296.2L500.6,295.6L500.2,295.2L499.6,294.7L499.0,294.2L498.6,293.8L497.9,293.2L497.6,293.0L496.7,292.2L496.6,292.1L495.6,291.3L495.5,291.2L494.6,290.5L494.3,290.2L493.6,289.6L493.1,289.2L492.6,288.8L491.9,288.2L491.6,288.0L490.7,287.2L490.6,287.2L489.6,286.3L489.4,286.2L488.6,285.5L488.2,285.2L487.6,284.7L487.0,284.2L486.6,283.9L485.8,283.2L485.6,283.0L484.6,282.2L484.6,282.2L483.6,281.4L483.4,281.2L482.6,280.6L482.2,280.2L481.6,279.7L481.0,279.2L480.6,278.9L479.8,278.2L479.6,278.1L478.6,277.2L478.6,277.2L477.6,276.4L477.4,276.2L476.6,275.5L476.2,275.2L475.6,274.7L475.0,274.2L474.6,273.8L473.9,273.2L473.6,273.0L472.7,272.2L472.6,272.1L471.6,271.3L471.5,271.2L470.6,270.4L470.4,270.2L469.6,269.5L469.2,269.2L468.6,268.6L468.1,268.2L467.6,267.8L467.0,267.2L466.6,266.9L465.8,266.2L465.6,266.0L464.7,265.2L464.6,265.1L463.6,264.2L463.6,264.2L462.6,263.3L462.5,263.2L461.6,262.4L461.4,262.2L460.6,261.5L460.3,261.2L459.6,260.6L459.2,260.2L458.6,259.7L458.1,259.2L457.6,258.8L457.0,258.2L456.6,257.9L455.9,257.2L455.6,257.0L454.8,256.2L454.6,256.0L453.7,255.2L453.6,255.1L452.6,254.2L452.6,254.2L451.6,253.3L451.5,253.2L450.6,252.4L450.4,252.2L449.6,251.5L449.3,251.2L448.6,250.6L448.2,250.2L447.6,249.7L447.1,249.2L446.6,248.8L446.0,248.2L445.6,247.9L444.8,247.2L444.6,247.0L443.7,246.2L443.6,246.1L442.6,245.2L442.6,245.2L441.6,244.3L441.4,244.2L440.6,243.5L440.3,243.2L439.6,242.6L439.1,242.2L438.6,241.8L437.9,241.2L437.6,240.9L436.7,240.2L436.6,240.1L435.6,239.3L435.5,239.2L434.6,238.4L434.3,238.2L433.6,237.6L433.0,237.2L432.6,236.8L431.8,236.2L431.6,236.1L430.6,235.3L430.5,235.2L429.6,234.6L429.1,234.2L428.6,233.8L427.7,233.2L427.6,233.1L426.6,232.4L426.3,232.2L425.6,231.7L424.8,231.2L424.6,231.0L423.6,230.4L423.3,230.2L422.6,229.7L421.7,229.2L421.6,229.1L420.6,228.5L420.0,228.2L419.6,228.0L418.6,227.4L418.2,227.2L417.6,226.9L416.6,226.4L416.3,226.2L415.6,225.9L414.6,225.4L414.2,225.2L413.6,224.9L412.6,224.5L411.8,224.2L411.6,224.1L410.6,223.7L409.6,223.4L409.1,223.2L408.6,223.1L408.6,223.2L408.6,224.2L408.6,225.2L408.6,226.2L408.6,227.2L408.6,228.2L408.6,229.2L408.6,230.2L408.6,231.2L408.6,232.2L408.6,233.2L408.6,234.2L408.6,235.2L408.6,236.2L408.6,237.2L408.6,238.2L408.6,239.2L408.6,240.2L408.6,241.2L408.6,242.2L408.6,243.2L408.6,244.2L408.6,245.2L408.6,246.2L408.6,247.2L408.6,248.2L408.6,249.2L408.6,250.2L408.6,251.2L408.6,252.2L408.6,253.2L408.6,254.2L408.6,255.2L408.6,256.2L408.6,257.2L408.6,258.2L408.6,259.2L408.6,260.2L408.6,261.2L408.6,262.2L408.6,263.2L408.6,264.2L408.6,265.2L408.6,266.2L408.6,267.2L408.6,268.2L408.6,269.2L408.6,270.2L408.6,271.2L408.6,272.2L408.6,273.2L408.6,274.2L408.6,275.2L408.6,276.2L408.6,277.2L408.6,278.2L408.6,279.2L408.6,280.2L408.6,281.2L408.6,282.2L408.6,283.2L408.6,284.2L408.6,285.2L408.6,286.2L408.6,287.2L408.6,288.2L408.6,289.2L408.6,290.2L408.6,291.2L408.6,292.2L408.6,293.2L408.6,294.2L408.6,295.2L408.6,296.2L408.6,297.2L408.6,298.2L408.6,299.2L408.6,300.2L408.6,301.2L408.6,302.2L408.6,303.2L408.6,304.2L408.6,305.2L408.6,306.2L408.6,307.2L408.6,308.2L408.6,309.2L408.6,310.2L408.6,311.2L408.6,312.2L408.6,313.2L408.6,314.2L408.6,315.2L408.6,316.2L408.6,317.2L408.6,318.2Z" fill="#00ffeb" fill-rule="evenodd" stroke="#00ffeb" stroke-width="0.3"/>
<path d="M409.6,318.2L410.6,318.2L411.6,318.2L412.6,318.2L413.6,318.2L414.6,318.2L415.6,318.2L416.6,318.2L417.6,318.2L418.6,318.2L419.6,318.2L420.6,318.2L421.6,318.2L422.6,318.2L423.6,318.2L424.6,318.2L425.6,318.2L426.6,318.2L427.6,318.2L428.6,318.2L429.6,318.2L430.6,318.2L431.6,318.2L432.6,318.2L433.6,318.2L434.6,318.2L435.6,318.2L436.6,318.2L437.6,318.2L438.6,318.2L439.6,318.2L440.6,318.2L441.6,318.2L442.6,318.2L443.6,318.2L444.6,318.2L445.6,318.2L446.6,318.2L447.6,318.2L448.6,318.2L449.6,318.2L450.6,318.2L451.6,318.2L452.6,318.2L453.6,318.2L454.6,318.2L455.6,318.2L456.6,318.2L457.6,318.2L458.6,318.2L459.6,318.2L460.6,318.2L461.6,318.2L462.6,318.2L463.6,318.2L464.6,318.2L465.6,318.2L466.6,318.2L467.6,318.2L468.6,318.2L469.6,318.2L470.6,318.2L471.6,318.2L472.6,318.2L473.6,318.2L474.6,318.2L475.6,318.2L476.6,318.2L477.6,318.2L478.6,318.2L479.6,318.2L480.6,318.2L481.6,318.2L482.6,318.2L483.6,318.2L484.6,318.2L485.6,318.2L486.6,318.2L487.6,318.2L488.6,318.2L489.6,318.2L490.6,318.2L491.6,318.2L492.6,318.2L493.6,318.2L494.6,318.2L495.6,318.2L496.6,318.2L497.6,318.2L498.6,318.2L499.6,318.2L500.6,318.2L501.6,318.2L502.6,318.2L503.6,318.2L504.6,318.2L505.6,318.2L506.6,318.2L507.6,318.2L508.6,318.2L509.3,318.2L509.2,317.2L509.0,316.2L508.7,315.2L508.6,314.8L508.4,314.2L508.1,313.2L507.7,312.2L507.6,312.1L507.2,311.2L506.7,310.2L506.6,310.0L506.1,309.2L505.6,308.3L505.5,308.2L504.9,307.2L504.6,306.8L504.2,306.2L503.6,305.4L503.4,305.2L502.7,304.2L502.6,304.1L501.8,303.2L501.6,302.9L501.0,302.2L500.6,301.8L500.1,301.2L499.6,300.7L499.2,300.2L498.6,299.6L498.2,299.2L497.6,298.6L497.2,298.2L496.6,297.6L496.2,297.2L495.6,296.6L495.2,296.2L494.6,295.7L494.1,295.2L493.6,294.7L493.1,294.2L492.6,293.8L492.0,293.2L491.6,292.9L490.9,292.2L490.6,292.0L489.8,291.2L489.6,291.1L488.6,290.2L488.6,290.2L487.6,289.3L487.5,289.2L486.6,288.4L486.4,288.2L485.6,287.5L485.3,287.2L484.6,286.6L484.1,286.2L483.6,285.8L483.0,285.2L482.6,284.9L481.8,284.2L481.6,284.0L480.7,283.2L480.6,283.1L479.6,282.2L479.5,282.2L478.6,281.4L478.4,281.2L477.6,280.5L477.3,280.2L476.6,279.6L476.1,279.2L475.6,278.7L475.0,278.2L474.6,277.8L473.9,277.2L473.6,277.0L472.8,276.2L472.6,276.1L471.6,275.2L471.6,275.2L470.6,274.3L470.5,274.2L469.6,273.4L469.4,273.2L468.6,272.5L468.3,272.2L467.6,271.6L467.2,271.2L466.6,270.7L466.1,270.2L465.6,269.8L465.0,269.2L464.6,268.9L463.9,268.2L463.6,267.9L462.8,267.2L462.6,267.0L461.7,266.2L461.6,266.1L460.6,265.2L460.6,265.2L459.6,264.3L459.5,264.2L458.6,263.3L458.5,263.2L457.6,262.4L457.4,262.2L456.6,261.5L456.3,261.2L455.6,260.6L455.2,260.2L454.6,259.6L454.1,259.2L453.6,258.7L453.1,258.2L452.6,257.8L452.0,257.2L451.6,256.8L450.9,256.2L450.6,255.9L449.8,255.2L449.6,255.0L448.7,254.2L448.6,254.1L447.7,253.2L447.6,253.1L446.6,252.2L446.6,252.2L445.6,251.3L445.5,251.2L444.6,250.4L444.4,250.2L443.6,249.5L443.3,249.2L442.6,248.6L442.1,248.2L441.6,247.7L441.0,247.2L440.6,246.8L439.9,246.2L439.6,246.0L438.7,245.2L438.6,245.1L437.6,244.2L437.6,244.2L436.6,243.4L436.4,243.2L435.6,242.5L435.2,242.2L434.6,241.7L434.0,241.2L433.6,240.9L432.7,240.2L432.6,240.1L431.6,239.3L431.5,239.2L430.6,238.5L430.2,238.2L429.6,237.7L428.9,237.2L428.6,237.0L427.6,236.3L427.5,236.2L426.6,235.5L426.1,235.2L425.6,234.8L424.7,234.2L424.6,234.1L423.6,233.5L423.2,233.2L422.6,232.8L421.6,232.2L421.6,232.2L420.6,231.6L420.0,231.2L419.6,231.0L418.6,230.4L418.2,230.2L417.6,229.9L416.6,229.3L416.4,229.2L415.6,228.8L414.6,228.3L414.3,228.2L413.6,227.9L412.6,227.4L412.1,227.2L411.6,227.0L410.6,226.6L409.6,226.2L409.5,226.2L408.6,225.9L408.6,226.2L408.6,227.2L408.6,228.2L408.6,229.2L408.6,230.2L408.6,231.2L408.6,232.2L408.6,233.2L408.6,234.2L408.6,235.2L408.6,236.2L408.6,237.2L408.6,238.2L408.6,239.2L408.6,240.2L408.6,241.2L408.6,242.2L408.6,243.2L408.6,244.2L408.6,245.2L408.6,246.2L408.6,247.2L408.6,248.2L408.6,249.2L408.6,250.2L408.6,251.2L408.6,252.2L408.6,253.2L408.6,254.2L408.6,255.2L408.6,256.2L408.6,257.2L408.6,258.2L408.6,259.2L408.6,260.2L408.6,261.2L408.6,262.2L408.6,263.2L408.6,264.2L408.6,265.2L408.6,266.2L408.6,267.2L408.6,268.2L408.6,269.2L408.6,270.2L408.6,271.2L408.6,272.2L408.6,273.2L408.6,274.2L408.6,275.2L408.6,276.2L408.6,277.2L408.6,278.2L408.6,279.2L408.6,280.2L408.6,281.2L408.6,282.2L408.6,283.2L408.6,284.2L408.6,285.2L408.6,286.2L408.6,287.2L408.6,288.2L408.6,289.2L408.6,290.2L408.6,291.2L408.6,292.2L408.6,293.2L408.6,294.2L408.6,295.2L408.6,296.2L408.6,297.2L408.6,298.2L408.6,299.2L408.6,300.2L408.6,301.2L408.6,302.2L408.6,303.2L408.6,304.2L408.6,305.2L408.6,306.2L408.6,307.2L408.6,308.2L408.6,309.2L408.6,310.2L408.6,311.2L408.6,312.2L408.6,313.2L408.6,314.2L408.6,315.2L408.6,316.2L408.6,317.2L408.6,318.2Z" fill="#00ffd6" fill-rule="evenodd" stroke="#00ffd6" stroke-width="0.3"/>
<path d="M409.6,318.2L410.6,318.2L411.6,318.2L412.6,318.2L413.6,318.2L414.6,318.2L415.6,318.2L416.6,318.2L417.6,318.2L418.6,318.2L419.6,318.2L420.6,318.2L421.6,318.2L422.6,318.2L423.6,318.2L424.6,318.2L425.6,318.2L426.6,318.2L427.6,318.2L428.6,318.2L429.6,318.2L430.6,318.2L431.6,318.2L432.6,318.2L433.6,318.2L434.6,318.2L435.6,318.2L436.6,318.2L437.6,318.2L438.6,318.2L439.6,318.2L440.6,318.2L441.6,318.2L442.6,318.2L443.6,318.2L444.6,318.2L445.6,318.2L446.6,318.2L447.6,318.2L448.6,318.2L449.6,318.2L450.6,318.2L451.6,318.2L452.6,318.2L453.6,318.2L454.6,318.2L455.6,318.2L456.6,318.2L457.6,318.2L458.6,318.2L459.6,318.2L460.6,318.2L461.6,318.2L462.6,318.2L463.6,318.2L464.6,318.2L465.6,318.2L466.6,318.2L467.6,318.2L468.6,318.2L469.6,318.2L470.6,318.2L471.6,318.2L472.6,318.2L473.6,318.2L474.6,318.2L475.6,318.2L476.6,318.2L477.6,318.2L478.6,318.2L479.6,318.2L480.6,318.2L481.6,318.2L482.6,318.2L483.6,318.2L484.6,318.2L485.6,318.2L486.6,318.2L487.6,318.2L488.6,318.2L489.6,318.2L490.6,318.2L491.6,318.2L492.6,318.2L493.6,318.2L494.6,318.2L495.6,318.2L496.6,318.2L497.6,318.2L498.6,318.2L499.6,318.2L500.6,318.2L501.6,318.2L502.6,318.2L503.6,318.2L503.8,318.2L503.6,317.4L503.6,317.2L503.3,316.2L503.0,315.2L502.7,314.2L502.6,314.0L502.3,313.2L501.9,312.2L501.6,311.7L501.4,311.2L500.9,310.2L500.6,309.8L500.3,309.2L499.7,308.2L499.6,308.1L499.0,307.2L498.6,306.6L498.3,306.2L497.6,305.2L497.6,305.2L496.9,304.2L496.6,303.9L496.1,303.2L495.6,302.6L495.2,302.2L494.6,301.5L494.4,301.2L493.6,300.3L493.5,300.2L492.6,299.2L492.6,299.2L491.6,298.2L491.6,298.2L490.7,297.2L490.6,297.1L489.7,296.2L489.6,296.1L488.7,295.2L488.6,295.1L487.7,294.2L487.6,294.1L486.7,293.2L486.6,293.1L485.7,292.2L485.6,292.1L484.6,291.2L484.6,291.2L483.6,290.2L483.6,290.2L482.6,289.3L482.5,289.2L481.6,288.4L481.4,288.2L480.6,287.4L480.4,287.2L479.6,286.5L479.3,286.2L478.6,285.6L478.2,285.2L477.6,284.6L477.1,284.2L476.6,283.7L476.0,283.2L475.6,282.8L475.0,282.2L474.6,281.9L473.9,281.2L473.6,280.9L472.8,280.2L472.6,280.0L471.7,279.2L471.6,279.1L470.6,278.2L470.6,278.2L469.6,277.2L469.6,277.2L468.6,276.3L468.5,276.2L467.6,275.4L467.4,275.2L466.6,274.4L466.3,274.2L465.6,273.5L465.3,273.2L464.6,272.6L464.2,272.2L463.6,271.6L463.1,271.2L462.6,270.7L462.1,270.2L461.6,269.8L461.0,269.2L460.6,268.8L460.0,268.2L459.6,267.9L458.9,267.2L458.6,266.9L457.8,266.2L457.6,266.0L456.8,265.2L456.6,265.0L455.7,264.2L455.6,264.1L454.7,263.2L454.6,263.1L453.6,262.2L453.6,262.2L452.6,261.2L452.5,261.2L451.6,260.3L451.5,260.2L450.6,259.4L450.4,259.2L449.6,258.4L449.4,258.2L448.6,257.5L448.3,257.2L447.6,256.5L447.2,256.2L446.6,255.6L446.2,255.2L445.6,254.7L445.1,254.2L444.6,253.8L444.0,253.2L443.6,252.8L442.9,252.2L442.6,251.9L441.8,251.2L441.6,251.0L440.7,250.2L440.6,250.1L439.6,249.2L439.6,249.2L438.6,248.3L438.4,248.2L437.6,247.5L437.3,247.2L436.6,246.6L436.1,246.2L435.6,245.7L435.0,245.2L434.6,244.9L433.8,244.2L433.6,244.1L432.6,243.2L432.6,243.2L431.6,242.4L431.3,242.2L430.6,241.6L430.1,241.2L429.6,240.8L428.8,240.2L428.6,240.1L427.6,239.3L427.4,239.2L426.6,238.6L426.1,238.2L425.6,237.9L424.7,237.2L424.6,237.2L423.6,236.5L423.2,236.2L422.6,235.8L421.7,235.2L421.6,235.1L420.6,234.5L420.1,234.2L419.6,233.9L418.6,233.3L418.4,233.2L417.6,232.8L416.6,232.2L416.6,232.2L415.6,231.7L414.6,231.2L414.6,231.2L413.6,230.7L412.6,230.2L412.5,230.2L411.6,229.8L410.6,229.4L410.1,229.2L409.6,229.0L408.6,228.7L408.6,229.2L408.6,230.2L408.6,231.2L408.6,232.2L408.6,233.2L408.6,234.2L408.6,235.2L408.6,236.2L408.6,237.2L408.6,238.2L408.6,239.2L408.6,240.2L408.6,241.2L408.6,242.2L408.6,243.2L408.6,244.2L408.6,245.2L408.6,246.2L408.6,247.2L408.6,248.2L408.6,249.2L408.6,250.2L408.6,251.2L408.6,252.2L408.6,253.2L408.6,254.2L408.6,255.2L408.6,256.2L408.6,257.2L408.6,258.2L408.6,259.2L408.6,260.2L408.6,261.2L408.6,262.2L408.6,263.2L408.6,264.2L408.6,265.2L408.6,266.2L408.6,267.2L408.6,268.2L408.6,269.2L408.6,270.2L408.6,271.2L408.6,272.2L408.6,273.2L408.6,274.2L408.6,275.2L408.6,276.2L408.6,277.2L408.6,278.2L408.6,279.2L408.6,280.2L408.6,281.2L408.6,282.2L408.6,283.2L408.6,284.2L408.6,285.2L408.6,286.2L408.6,287.2L408.6,288.2L408.6,289.2L408.6,290.2L408.6,291.2L408.6,292.2L408.6,293.2L408.6,294.2L408.6,295.2L408.6,296.2L408.6,297.2L408.6,298.2L408.6,299.2L408.6,300.2L408.6,301.2L408.6,302.2L408.6,303.2L408.6,304.2L408.6,305.2L408.6,306.2L408.6,307.2L408.6,308.2L408.6,309.2L408.6,310.2L408.6,311.2L408.6,312.2L408.6,313.2L408.6,314.2L408.6,315.2L408.6,316.2L408.6,317.2L408.6,318.2Z" fill="#00ffc2" fill-rule="evenodd" stroke="#00ffc2" stroke-width="0.3"/>
<path d="M409.6,318.2L410.6,318.2L411.6,318.2L412.6,318.2L413.6,318.2L414.6,318.2L415.6,318.2L416.6,318.2L417.6,318.2L418.6,318.2L419.6,318.2L420.6,318.2L421.6,318.2L422.6,318.2L423.6,318.2L424.6,318.2L425.6,318.2L426.6,318.2L427.6,318.2L428.6,318.2L429.6,318.2L430.6,318.2L431.6,318.2L432.6,318.2L433.6,318.2L434.6,318.2L435.6,318.2L436.6,318.2L437.6,318.2L438.6,318.2L439.6,318.2L440.6,318.2L441.6,318.2L442.6,318.2L443.6,318.2L444.6,318.2L445.6,318.2L446.6,318.2L447.6,318.2L448.6,318.2L449.6,318.2L450.6,318.2L451.6,318.2L452.6,318.2L453.6,318.2L454.6,318.2L455.6,318.2L456.6,318.2L457.6,318.2L458.6,318.2L459.6,318.2L460.6,318.2L461.6,318.2L462.6,318.2L463.6,318.2L464.6,318.2L465.6,318.2L466.6,318.2L467.6,318.2L468.6,318.2L469.6,318.2L470.6,318.2L471.6,318.2L472.6,318.2L473.6,318.2L474.6,318.2L475.6,318.2L476.6,318.2L477.6,318.2L478.6,318.2L479.6,318.2L480.6,318.2L481.6,318.2L482.6,318.2L483.6,318.2L484.6,318.2L485.6,318.2L486.6,318.2L487.6,318.2L488.6,318.2L489.6,318.2L490.6,318.2L491.6,318.2L492.6,318.2L493.6,318.2L494.6,318.2L495.6,318.2L496.6,318.2L497.6,318.2L498.6,318.2L498.4,317.2L498.1,316.2L497.8,315.2L497.6,314.8L497.4,314.2L497.0,313.2L496.6,312.4L496.5,312.2L496.0,311.2L495.6,310.4L495.5,310.2L495.0,309.2L494.6,308.6L494.3,308.2L493.7,307.2L493.6,307.0L493.0,306.2L492.6,305.6L492.3,305.2L491.6,304.2L491.6,304.2L490.8,303.2L490.6,302.9L490.0,302.2L489.6,301.7L489.2,301.2L488.6,300.5L488.3,300.2L487.6,299.3L487.5,299.2L486.6,298.2L486.6,298.2L485.7,297.2L485.6,297.1L484.7,296.2L484.6,296.0L483.8,295.2L483.6,295.0L482.8,294.2L482.6,294.0L481.9,293.2L481.6,292.9L480.9,292.2L480.6,291.9L479.9,291.2L479.6,290.9L478.9,290.2L478.6,289.9L477.9,289.2L477.6,288.9L476.9,288.2L476.6,287.9L475.9,287.2L475.6,286.9L474.8,286.2L474.6,286.0L473.8,285.2L473.6,285.0L472.8,284.2L472.6,284.0L471.7,283.2L471.6,283.1L470.7,282.2L470.6,282.1L469.7,281.2L469.6,281.1L468.6,280.2L468.6,280.2L467.6,279.2L467.6,279.2L466.6,278.2L466.6,278.2L465.6,277.3L465.5,277.2L464.6,276.3L464.5,276.2L463.6,275.3L463.5,275.2L462.6,274.4L462.4,274.2L461.6,273.4L461.4,273.2L460.6,272.4L460.4,272.2L459.6,271.5L459.3,271.2L458.6,270.5L458.3,270.2L457.6,269.5L457.3,269.2L456.6,268.6L456.2,268.2L455.6,267.6L455.2,267.2L454.6,266.6L454.2,266.2L453.6,265.7L453.1,265.2L452.6,264.7L452.1,264.2L451.6,263.7L451.1,263.2L450.6,262.8L450.0,262.2L449.6,261.8L449.0,261.2L448.6,260.8L447.9,260.2L447.6,259.9L446.9,259.2L446.6,258.9L445.8,258.2L445.6,258.0L444.8,257.2L444.6,257.1L443.7,256.2L443.6,256.1L442.6,255.2L442.6,255.2L441.6,254.3L441.5,254.2L440.6,253.3L440.4,253.2L439.6,252.4L439.3,252.2L438.6,251.5L438.2,251.2L437.6,250.6L437.1,250.2L436.6,249.7L436.0,249.2L435.6,248.9L434.8,248.2L434.6,248.0L433.7,247.2L433.6,247.2L432.6,246.3L432.5,246.2L431.6,245.5L431.2,245.2L430.6,244.7L430.0,244.2L429.6,243.9L428.7,243.2L428.6,243.1L427.6,242.3L427.4,242.2L426.6,241.6L426.1,241.2L425.6,240.8L424.7,240.2L424.6,240.1L423.6,239.4L423.3,239.2L422.6,238.7L421.8,238.2L421.6,238.0L420.6,237.4L420.3,237.2L419.6,236.8L418.7,236.2L418.6,236.2L417.6,235.6L416.9,235.2L416.6,235.0L415.6,234.5L415.1,234.2L414.6,234.0L413.6,233.5L413.0,233.2L412.6,233.0L411.6,232.6L410.8,232.2L410.6,232.1L409.6,231.7L408.6,231.4L408.6,232.2L408.6,233.2L408.6,234.2L408.6,235.2L408.6,236.2L408.6,237.2L408.6,238.2L408.6,239.2L408.6,240.2L408.6,241.2L408.6,242.2L408.6,243.2L408.6,244.2L408.6,245.2L408.6,246.2L408.6,247.2L408.6,248.2L408.6,249.2L408.6,250.2L408.6,251.2L408.6,252.2L408.6,253.2L408.6,254.2L408.6,255.2L408.6,256.2L408.6,257.2L408.6,258.2L408.6,259.2L408.6,260.2L408.6,261.2L408.6,262.2L408.6,263.2L408.6,264.2L408.6,265.2L408.6,266.2L408.6,267.2L408.6,268.2L408.6,269.2L408.6,270.2L408.6,271.2L408.6,272.2L408.6,273.2L408.6,274.2L408.6,275.2L408.6,276.2L408.6,277.2L408.6,278.2L408.6,279.2L408.6,280.2L408.6,281.2L408.6,282.2L408.6,283.2L408.6,284.2L408.6,285.2L408.6,286.2L408.6,287.2L408.6,288.2L408.6,289.2L408.6,290.2L408.6,291.2L408.6,292.2L408.6,293.2L408.6,294.2L408.6,295.2L408.6,296.2L408.6,297.2L408.6,298.2L408.6,299.2L408.6,300.2L408.6,301.2L408.6,302.2L408.6,303.2L408.6,304.2L408.6,305.2L408.6,306.2L408.6,307.2L408.6,308.2L408.6,309.2L408.6,310.2L408.6,311.2L408.6,312.2L408.6,313.2L408.6,314.2L408.6,315.2L408.6,316.2L408.6,317.2L408.6,318.2Z" fill="#00ffad" fill-rule="evenodd" stroke="#00ffad" stroke-width="0.3"/>
<path d="M409.6,318.2L410.6,318.2L411.6,318.2L412.6,318.2L413.6,318.2L414.6,318.2L415.6,318.2L416.6,318.2L417.6,318.2L418.6,318.2L419.6,318.2L420.6,318.2L421.6,318.2L422.6,318.2L423.6,318.2L424.6,318.2L425.6,318.2L426.6,318.2L427.6,318.2L428.6,318.2L429.6,318.2L430.6,318.2L431.6,318.2L432.6,318.2L433.6,318.2L434.6,318.2L435.6,318.2L436.6,318.2L437.6,318.2L438.6,318.2L439.6,318.2L440.6,318.2L441.6,318.2L442.6,318.2L443.6,318.2L444.6,318.2L445.6,318.2L446.6,318.2L447.6,318.2L448.6,318.2L449.6,318.2L450.6,318.2L451.6,318.2L452.6,318.2L453.6,318.2L454.6,318.2L455.6,318.2L456.6,318.2L457.6,318.2L458.6,318.2L459.6,318.2L460.6,318.2L461.6,318.2L462.6,318.2L463.6,318.2L464.6,318.2L465.6,318.2L466.6,318.2L467.6,318.2L468.6,318.2L469.6,318.2L470.6,318.2L471.6,318.2L472.6,318.2L473.6,318.2L474.6,318.2L475.6,318.2L476.6,318.2L477.6,318.2L478.6,318.2L479.6,318.2L480.6,318.2L481.6,318.2L482.6,318.2L483.6,318.2L484.6,318.2L485.6,318.2L486.6,318.2L487.6,318.2L488.6,318.2L489.6,318.2L490.6,318.2L491.6,318.2L492.6,318.2L493.6,318.2L493.8,318.2L493.6,317.6L493.5,317.2L493.2,316.2L492.9,315.2L492.6,314.5L492.5,314.2L492.1,313.2L491.6,312.2L491.6,312.2L491.1,311.2L490.6,310.2L490.6,310.2L490.0,309.2L489.6,308.5L489.4,308.2L488.8,307.2L488.6,306.9L488.1,306.2L487.6,305.4L487.5,305.2L486.7,304.2L486.6,304.0L486.0,303.2L485.6,302.7L485.2,302.2L484.6,301.4L484.4,301.2L483.6,300.2L483.6,300.2L482.8,299.2L482.6,299.0L481.9,298.2L481.6,297.8L481.1,297.2L480.6,296.7L480.2,296.2L479.6,295.6L479.3,295.2L478.6,294.5L478.4,294.2L477.6,293.4L477.4,293.2L476.6,292.3L476.5,292.2L475.6,291.3L475.5,291.2L474.6,290.2L474.6,290.2L473.6,289.2L473.6,289.2L472.7,288.2L472.6,288.1L471.7,287.2L471.6,287.1L470.7,286.2L470.6,286.1L469.7,285.2L469.6,285.1L468.7,284.2L468.6,284.1L467.7,283.2L467.6,283.1L466.7,282.2L466.6,282.1L465.8,281.2L465.6,281.0L464.8,280.2L464.6,280.0L463.8,279.2L463.6,279.0L462.8,278.2L462.6,278.0L461.8,277.2L461.6,277.0L460.8,276.2L460.6,276.0L459.8,275.2L459.6,275.0L458.8,274.2L458.6,274.1L457.7,273.2L457.6,273.1L456.7,272.2L456.6,272.1L455.7,271.2L455.6,271.1L454.7,270.2L454.6,270.1L453.7,269.2L453.6,269.1L452.7,268.2L452.6,268.1L451.7,267.2L451.6,267.1L450.7,266.2L450.6,266.1L449.7,265.2L449.6,265.1L448.6,264.2L448.6,264.2L447.6,263.2L447.6,263.2L446.6,262.2L446.6,262.2L445.6,261.3L445.5,261.2L444.6,260.3L444.5,260.2L443.6,259.3L443.4,259.2L442.6,258.4L442.4,258.2L441.6,257.5L441.3,257.2L440.6,256.5L440.3,256.2L439.6,255.6L439.2,255.2L438.6,254.7L438.1,254.2L437.6,253.8L437.0,253.2L436.6,252.8L435.9,252.2L435.6,252.0L434.7,251.2L434.6,251.1L433.6,250.2L433.6,250.2L432.6,249.3L432.4,249.2L431.6,248.5L431.2,248.2L430.6,247.7L430.0,247.2L429.6,246.8L428.8,246.2L428.6,246.0L427.6,245.3L427.5,245.2L426.6,244.5L426.2,244.2L425.6,243.7L424.9,243.2L424.6,243.0L423.6,242.3L423.5,242.2L422.6,241.6L422.1,241.2L421.6,240.9L420.6,240.2L420.6,240.2L419.6,239.6L419.0,239.2L418.6,239.0L417.6,238.4L417.3,238.2L416.6,237.8L415.6,237.2L415.5,237.2L414.6,236.7L413.6,236.2L413.6,236.2L412.6,235.7L411.6,235.2L411.5,235.2L410.6,234.8L409.6,234.4L409.1,234.2L408.6,234.0L408.6,234.2L408.6,235.2L408.6,236.2L408.6,237.2L408.6,238.2L408.6,239.2L408.6,240.2L408.6,241.2L408.6,242.2L408.6,243.2L408.6,244.2L408.6,245.2L408.6,246.2L408.6,247.2L408.6,248.2L408.6,249.2L408.6,250.2L408.6,251.2L408.6,252.2L408.6,253.2L408.6,254.2L408.6,255.2L408.6,256.2L408.6,257.2L408.6,258.2L408.6,259.2L408.6,260.2L408.6,261.2L408.6,262.2L408.6,263.2L408.6,264.2L408.6,265.2L408.6,266.2L408.6,267.2L408.6,268.2L408.6,269.2L408.6,270.2L408.6,271.2L408.6,272.2L408.6,273.2L408.6,274.2L408.6,275.2L408.6,276.2L408.6,277.2L408.6,278.2L408.6,279.2L408.6,280.2L408.6,281.2L408.6,282.2L408.6,283.2L408.6,284.2L408.6,285.2L408.6,286.2L408.6,287.2L408.6,288.2L408.6,289.2L408.6,290.2L408.6,291.2L408.6,292.2L408.6,293.2L408.6,294.2L408.6,295.2L408.6,296.2L408.6,297.2L408.6,298.2L408.6,299.2L408.6,300.2L408.6,301.2L408.6,302.2L408.6,303.2L408.6,304.2L408.6,305.2L408.6,306.2L408.6,307.2L408.6,308.2L408.6,309.2L408.6,310.2L408.6,311.2L408.6,312.2L408.6,313.2L408.6,314.2L408.6,315.2L408.6,316.2L408.6,317.2L408.6,318.2Z" fill="#00ff99" fill-rule="evenodd" stroke="#00ff99" stroke-width="0.3"/>
<path d="M409.6,318.2L410.6,318.2L411.6,318.2L412.6,318.2L413.6,318.2L414.6,318.2L415.6,318.2L416.6,318.2L417.6,318.2L418.6,318.2L419.6,318.2L420.6,318.2L421.6,318.2L422.6,318.2L423.6,318.2L424.6,318.2L425.6,318.2L426.6,318.2L427.6,318.2L428.6,318.2L429.6,318.2L430.6,318.2L431.6,318.2L432.6,318.2L433.6,318.2L434.6,318.2L435.6,318.2L436.6,318.2L437.6,318.2L438.6,318.2L439.6,318.2L440.6,318.2L441.6,318.2L442.6,318.2L443.6,318.2L444.6,318.2L445.6,318.2L446.6,318.2L447.6,318.2L448.6,318.2L449.6,318.2L450.6,318.2L451.6,318.2L452.6,318.2L453.6,318.2L454.6,318.2L455.6,318.2L456.6,318.2L457.6,318.2L458.6,318.2L459.6,318.2L460.6,318.2L461.6,318.2L462.6,318.2L463.6,318.2L464.6,318.2L465.6,318.2L466.6,318.2L467.6,318.2L468.6,318.2L469.6,318.2L470.6,318.2L471.6,318.2L472.6,318.2L473.6,318.2L474.6,318.2L475.6,318.2L476.6,318.2L477.6,318.2L478.6,318.2L479.6,318.2L480.6,318.2L481.6,318.2L482.6,318.2L483.6,318.2L484.6,318.2L485.6,318.2L486.6,318.2L487.6,318.2L488.6,318.2L489.2,318.2L488.9,317.2L488.6,316.2L488.6,316.1L488.3,315.2L487.9,314.2L487.6,313.5L487.5,313.2L487.0,312.2L486.6,311.4L486.5,311.2L486.0,310.2L485.6,309.5L485.4,309.2L484.9,308.2L484.6,307.8L484.2,307.2L483.6,306.2L483.6,306.2L482.9,305.2L482.6,304.7L482.2,304.2L481.6,303.3L481.5,303.2L480.8,302.2L480.6,302.0L480.0,301.2L479.6,300.7L479.2,300.2L478.6,299.4L478.4,299.2L477.6,298.2L477.6,298.2L476.8,297.2L476.6,297.0L475.9,296.2L475.6,295.8L475.0,295.2L474.6,294.7L474.2,294.2L473.6,293.6L473.3,293.2L472.6,292.4L472.4,292.2L471.6,291.3L471.5,291.2L470.6,290.3L470.6,290.2L469.6,289.2L469.6,289.2L468.7,288.2L468.6,288.1L467.8,287.2L467.6,287.0L466.8,286.2L466.6,286.0L465.9,285.2L465.6,284.9L464.9,284.2L464.6,283.9L464.0,283.2L463.6,282.8L463.0,282.2L462.6,281.8L462.0,281.2L461.6,280.7L461.1,280.2L460.6,279.7L460.1,279.2L459.6,278.7L459.1,278.2L458.6,277.6L458.2,277.2L457.6,276.6L457.2,276.2L456.6,275.6L456.2,275.2L455.6,274.6L455.2,274.2L454.6,273.5L454.3,273.2L453.6,272.5L453.3,272.2L452.6,271.5L452.3,271.2L451.6,270.5L451.3,270.2L450.6,269.5L450.3,269.2L449.6,268.5L449.3,268.2L448.6,267.5L448.3,267.2L447.6,266.5L447.3,266.2L446.6,265.5L446.3,265.2L445.6,264.5L445.3,264.2L444.6,263.5L444.3,263.2L443.6,262.5L443.2,262.2L442.6,261.6L442.2,261.2L441.6,260.6L441.2,260.2L440.6,259.7L440.1,259.2L439.6,258.7L439.1,258.2L438.6,257.8L438.0,257.2L437.6,256.8L436.9,256.2L436.6,255.9L435.8,255.2L435.6,255.0L434.7,254.2L434.6,254.1L433.6,253.2L433.6,253.2L432.6,252.3L432.4,252.2L431.6,251.5L431.3,251.2L430.6,250.6L430.1,250.2L429.6,249.8L428.9,249.2L428.6,249.0L427.7,248.2L427.6,248.2L426.6,247.4L426.4,247.2L425.6,246.6L425.1,246.2L424.6,245.8L423.7,245.2L423.6,245.1L422.6,244.4L422.3,244.2L421.6,243.7L420.9,243.2L420.6,243.0L419.6,242.3L419.4,242.2L418.6,241.7L417.8,241.2L417.6,241.1L416.6,240.5L416.1,240.2L415.6,239.9L414.6,239.4L414.3,239.2L413.6,238.9L412.6,238.4L412.3,238.2L411.6,237.9L410.6,237.4L410.1,237.2L409.6,237.0L408.6,236.6L408.6,237.2L408.6,238.2L408.6,239.2L408.6,240.2L408.6,241.2L408.6,242.2L408.6,243.2L408.6,244.2L408.6,245.2L408.6,246.2L408.6,247.2L408.6,248.2L408.6,249.2L408.6,250.2L408.6,251.2L408.6,252.2L408.6,253.2L408.6,254.2L408.6,255.2L408.6,256.2L408.6,257.2L408.6,258.2L408.6,259.2L408.6,260.2L408.6,261.2L408.6,262.2L408.6,263.2L408.6,264.2L408.6,265.2L408.6,266.2L408.6,267.2L408.6,268.2L408.6,269.2L408.6,270.2L408.6,271.2L408.6,272.2L408.6,273.2L408.6,274.2L408.6,275.2L408.6,276.2L408.6,277.2L408.6,278.2L408.6,279.2L408.6,280.2L408.6,281.2L408.6,282.2L408.6,283.2L408.6,284.2L408.6,285.2L408.6,286.2L408.6,287.2L408.6,288.2L408.6,289.2L408.6,290.2L408.6,291.2L408.6,292.2L408.6,293.2L408.6,294.2L408.6,295.2L408.6,296.2L408.6,297.2L408.6,298.2L408.6,299.2L408.6,300.2L408.6,301.2L408.6,302.2L408.6,303.2L408.6,304.2L408.6,305.2L408.6,306.2L408.6,307.2L408.6,308.2L408.6,309.2L408.6,310.2L408.6,311.2L408.6,312.2L408.6,313.2L408.6,314.2L408.6,315.2L408.6,316.2L408.6,317.2L408.6,318.2Z" fill="#00ff85" fill-rule="evenodd" stroke="#00ff85" stroke-width="0.3"/>
<path d="M409.6,318.2L410.6,318.2L411.6,318.2L412.6,318.2L413.6,318.2L414.6,318.2L415.6,318.2L416.6,318.2L417.6,318.2L418.6,318.2L419.6,318.2L420.6,318.2L421.6,318.2L422.6,318.2L423.6,318.2L424.6,318.2L425.6,318.2L426.6,318.2L427.6,318.2L428.6,318.2L429.6,318.2L430.6,318.2L431.6,318.2L432.6,318.2L433.6,318.2L434.6,318.2L435.6,318.2L436.6,318.2L437.6,318.2L438.6,318.2L439.6,318.2L440.6,318.2L441.6,318.2L442.6,318.2L443.6,318.2L444.6,318.2L445.6,318.2L446.6,318.2L447.6,318.2L448.6,318.2L449.6,318.2L450.6,318.2L451.6,318.2L452.6,318.2L453.6,318.2L454.6,318.2L455.6,318.2L456.6,318.2L457.6,318.2L458.6,318.2L459.6,318.2L460.6,318.2L461.6,318.2L462.6,318.2L463.6,318.2L464.6,318.2L465.6,318.2L466.6,318.2L467.6,318.2L468.6,318.2L469.6,318.2L470.6,318.2L471.6,318.2L472.6,318.2L473.6,318.2L474.6,318.2L475.6,318.2L476.6,318.2L477.6,318.2L478.6,318.2L479.6,318.2L480.6,318.2L481.6,318.2L482.6,318.2L483.6,318.2L484.6,318.2L484.9,318.2L484.6,317.2L484.6,317.1L484.3,316.2L484.0,315.2L483.6,314.3L483.6,314.2L483.1,313.2L482.7,312.2L482.6,312.0L482.2,311.2L481.7,310.2L481.6,310.1L481.1,309.2L480.6,308.3L480.6,308.2L480.0,307.2L479.6,306.6L479.3,306.2L478.7,305.2L478.6,305.1L478.0,304.2L477.6,303.6L477.3,303.2L476.6,302.2L476.6,302.2L475.9,301.2L475.6,300.9L475.1,300.2L474.6,299.6L474.3,299.2L473.6,298.3L473.5,298.2L472.7,297.2L472.6,297.0L471.9,296.2L471.6,295.8L471.1,295.2L470.6,294.6L470.2,294.2L469.6,293.5L469.4,293.2L468.6,292.3L468.5,292.2L467.6,291.2L467.6,291.2L466.8,290.2L466.6,290.0L465.9,289.2L465.6,288.9L465.0,288.2L464.6,287.8L464.1,287.2L463.6,286.7L463.2,286.2L462.6,285.6L462.2,285.2L461.6,284.5L461.3,284.2L460.6,283.4L460.4,283.2L459.6,282.4L459.5,282.2L458.6,281.3L458.5,281.2L457.6,280.2L457.6,280.2L456.6,279.2L456.6,279.2L455.7,278.2L455.6,278.1L454.8,277.2L454.6,277.0L453.8,276.2L453.6,276.0L452.8,275.2L452.6,274.9L451.9,274.2L451.6,273.9L450.9,273.2L450.6,272.9L450.0,272.2L449.6,271.8L449.0,271.2L448.6,270.8L448.0,270.2L447.6,269.8L447.0,269.2L446.6,268.8L446.0,268.2L445.6,267.8L445.1,267.2L444.6,266.7L444.1,266.2L443.6,265.7L443.1,265.2L442.6,264.8L442.0,264.2L441.6,263.8L441.0,263.2L440.6,262.8L440.0,262.2L439.6,261.8L439.0,261.2L438.6,260.9L437.9,260.2L437.6,259.9L436.9,259.2L436.6,259.0L435.8,258.2L435.6,258.0L434.7,257.2L434.6,257.1L433.6,256.2L433.6,256.2L432.6,255.3L432.5,255.2L431.6,254.4L431.3,254.2L430.6,253.6L430.2,253.2L429.6,252.7L429.0,252.2L428.6,251.9L427.8,251.2L427.6,251.0L426.6,250.2L426.6,250.2L425.6,249.4L425.3,249.2L424.6,248.7L424.0,248.2L423.6,247.9L422.6,247.2L422.6,247.2L421.6,246.4L421.2,246.2L420.6,245.8L419.8,245.2L419.6,245.1L418.6,244.4L418.3,244.2L417.6,243.8L416.6,243.2L416.6,243.2L415.6,242.6L414.9,242.2L414.6,242.0L413.6,241.5L413.0,241.2L412.6,241.0L411.6,240.5L411.0,240.2L410.6,240.0L409.6,239.6L408.7,239.2L408.6,239.2L408.6,239.2L408.6,240.2L408.6,241.2L408.6,242.2L408.6,243.2L408.6,244.2L408.6,245.2L408.6,246.2L408.6,247.2L408.6,248.2L408.6,249.2L408.6,250.2L408.6,251.2L408.6,252.2L408.6,253.2L408.6,254.2L408.6,255.2L408.6,256.2L408.6,257.2L408.6,258.2L408.6,259.2L408.6,260.2L408.6,261.2L408.6,262.2L408.6,263.2L408.6,264.2L408.6,265.2L408.6,266.2L408.6,267.2L408.6,268.2L408.6,269.2L408.6,270.2L408.6,271.2L408.6,272.2L408.6,273.2L408.6,274.2L408.6,275.2L408.6,276.2L408.6,277.2L408.6,278.2L408.6,279.2L408.6,280.2L408.6,281.2L408.6,282.2L408.6,283.2L408.6,284.2L408.6,285.2L408.6,286.2L408.6,287.2L408.6,288.2L408.6,289.2L408.6,290.2L408.6,291.2L408.6,292.2L408.6,293.2L408.6,294.2L408.6,295.2L408.6,296.2L408.6,297.2L408.6,298.2L408.6,299.2L408.6,300.2L408.6,301.2L408.6,302.2L408.6,303.2L408.6,304.2L408.6,305.2L408.6,306.2L408.6,307.2L408.6,308.2L408.6,309.2L408.6,310.2L408.6,311.2L408.6,312.2L408.6,313.2L408.6,314.2L408.6,315.2L408.6,316.2L408.6,317.2L408.6,318.2Z" fill="#00ff70" fill-rule="evenodd" stroke="#00ff70" stroke-width="0.3"/>
<path d="M409.6,318.2L410.6,318.2L411.6,318.2L412.6,318.2L413.6,318.2L414.6,318.2L415.6,318.2L416.6,318.2L417.6,318.2L418.6,318.2L419.6,318.2L420.6,318.2L421.6,318.2L422.6,318.2L423.6,318.2L424.6,318.2L425.6,318.2L426.6,318.2L427.6,318.2L428.6,318.2L429.6,318.2L430.6,318.2L431.6,318.2L432.6,318.2L433.6,318.2L434.6,318.2L435.6,318.2L436.6,318.2L437.6,318.2L438.6,318.2L439.6,318.2L440.6,318.2L441.6,318.2L442.6,318.2L443.6,318.2L444.6,318.2L445.6,318.2L446.6,318.2L447.6,318.2L448.6,318.2L449.6,318.2L450.6,318.2L451.6,318.2L452.6,318.2L453.6,318.2L454.6,318.2L455.6,318.2L456.6,318.2L457.6,318.2L458.6,318.2L459.6,318.2L460.6,318.2L461.6,318.2L462.6,318.2L463.6,318.2L464.6,318.2L465.6,318.2L466.6,318.2L467.6,318.2L468.6,318.2L469.6,318.2L470.6,318.2L471.6,318.2L472.6,318.2L473.6,318.2L474.6,318.2L475.6,318.2L476.6,318.2L477.6,318.2L478.6,318.2L479.6,318.2L480.6,318.2L480.9,318.2L480.6,317.3L480.6,317.2L480.2,316.2L479.9,315.2L479.6,314.5L479.5,314.2L479.0,313.2L478.6,312.2L478.6,312.2L478.1,311.2L477.6,310.2L477.6,310.2L477.1,309.2L476.6,308.4L476.5,308.2L475.9,307.2L475.6,306.7L475.3,306.2L474.7,305.2L474.6,305.1L474.0,304.2L473.6,303.6L473.3,303.2L472.6,302.2L472.6,302.1L471.9,301.2L471.6,300.7L471.2,300.2L470.6,299.4L470.5,299.2L469.7,298.2L469.6,298.1L468.9,297.2L468.6,296.8L468.1,296.2L467.6,295.5L467.3,295.2L466.6,294.3L466.5,294.2L465.7,293.2L465.6,293.1L464.8,292.2L464.6,291.9L464.0,291.2L463.6,290.7L463.1,290.2L462.6,289.6L462.3,289.2L461.6,288.4L461.4,288.2L460.6,287.3L460.5,287.2L459.7,286.2L459.6,286.1L458.8,285.2L458.6,285.0L457.9,284.2L457.6,283.9L457.0,283.2L456.6,282.8L456.1,282.2L455.6,281.7L455.2,281.2L454.6,280.6L454.2,280.2L453.6,279.5L453.3,279.2L452.6,278.4L452.4,278.2L451.6,277.3L451.5,277.2L450.6,276.3L450.5,276.2L449.6,275.2L449.6,275.2L448.6,274.2L448.6,274.2L447.7,273.2L447.6,273.1L446.7,272.2L446.6,272.1L445.8,271.2L445.6,271.0L444.8,270.2L444.6,270.0L443.8,269.2L443.6,268.9L442.9,268.2L442.6,267.9L441.9,267.2L441.6,266.9L440.9,266.2L440.6,265.9L439.9,265.2L439.6,264.9L438.9,264.2L438.6,263.9L437.8,263.2L437.6,263.0L436.8,262.2L436.6,262.0L435.8,261.2L435.6,261.0L434.7,260.2L434.6,260.1L433.6,259.2L433.6,259.2L432.6,258.3L432.5,258.2L431.6,257.4L431.4,257.2L430.6,256.5L430.3,256.2L429.6,255.6L429.2,255.2L428.6,254.7L428.0,254.2L427.6,253.9L426.8,253.2L426.6,253.1L425.6,252.2L425.5,252.2L424.6,251.5L424.3,251.2L423.6,250.7L423.0,250.2L422.6,249.9L421.6,249.2L421.6,249.2L420.6,248.5L420.2,248.2L419.6,247.8L418.7,247.2L418.6,247.1L417.6,246.5L417.2,246.2L416.6,245.8L415.6,245.2L415.6,245.2L414.6,244.6L413.8,244.2L413.6,244.1L412.6,243.6L411.9,243.2L411.6,243.1L410.6,242.6L409.8,242.2L409.6,242.1L408.6,241.7L408.6,242.2L408.6,243.2L408.6,244.2L408.6,245.2L408.6,246.2L408.6,247.2L408.6,248.2L408.6,249.2L408.6,250.2L408.6,251.2L408.6,252.2L408.6,253.2L408.6,254.2L408.6,255.2L408.6,256.2L408.6,257.2L408.6,258.2L408.6,259.2L408.6,260.2L408.6,261.2L408.6,262.2L408.6,263.2L408.6,264.2L408.6,265.2L408.6,266.2L408.6,267.2L408.6,268.2L408.6,269.2L408.6,270.2L408.6,271.2L408.6,272.2L408.6,273.2L408.6,274.2L408.6,275.2L408.6,276.2L408.6,277.2L408.6,278.2L408.6,279.2L408.6,280.2L408.6,281.2L408.6,282.2L408.6,283.2L408.6,284.2L408.6,285.2L408.6,286.2L408.6,287.2L408.6,288.2L408.6,289.2L408.6,290.2L408.6,291.2L408.6,292.2L408.6,293.2L408.6,294.2L408.6,295.2L408.6,296.2L408.6,297.2L408.6,298.2L408.6,299.2L408.6,300.2L408.6,301.2L408.6,302.2L408.6,303.2L408.6,304.2L408.6,305.2L408.6,306.2L408.6,307.2L408.6,308.2L408.6,309.2L408.6,310.2L408.6,311.2L408.6,312.2L408.6,313.2L408.6,314.2L408.6,315.2L408.6,316.2L408.6,317.2L408.6,318.2Z" fill="#00ff5c" fill-rule="evenodd" stroke="#00ff5c" stroke-width="0.3"/>
<path d="M409.6,318.2L410.6,318.2L411.6,318.2L412.6,318.2L413.6,318.2L414.6,318.2L415.6,318.2L416.6,318.2L417.6,318.2L418.6,318.2L419.6,318.2L420.6,318.2L421.6,318.2L422.6,318.2L423.6,318.2L424.6,318.2L425.6,318.2L426.6,318.2L427.6,318.2L428.6,318.2L429.6,318.2L430.6,318.2L431.6,318.2L432.6,318.2L433.6,318.2L434.6,318.2L435.6,318.2L436.6,318.2L437.6,318.2L438.6,318.2L439.6,318.2L440.6,318.2L441.6,318.2L442.6,318.2L443.6,318.2L444.6,318.2L445.6,318.2L446.6,318.2L447.6,318.2L448.6,318.2L449.6,318.2L450.6,318.2L451.6,318.2L452.6,318.2L453.6,318.2L454.6,318.2L455.6,318.2L456.6,318.2L457.6,318.2L458.6,318.2L459.6,318.2L460.6,318.2L461.6,318.2L462.6,318.2L463.6,318.2L464.6,318.2L465.6,318.2L466.6,318.2L467.6,318.2L468.6,318.2L469.6,318.2L470.6,318.2L471.6,318.2L472.6,318.2L473.6,318.2L474.6,318.2L475.6,318.2L476.6,318.2L477.0,318.2L476.7,317.2L476.6,317.0L476.3,316.2L476.0,315.2L475.6,314.2L475.6,314.2L475.2,313.2L474.7,312.2L474.6,312.0L474.2,311.2L473.7,310.2L473.6,309.9L473.2,309.2L472.7,308.2L472.6,308.1L472.1,307.2L471.6,306.4L471.5,306.2L470.9,305.2L470.6,304.8L470.2,304.2L469.6,303.2L469.6,303.2L468.9,302.2L468.6,301.8L468.2,301.2L467.6,300.3L467.5,300.2L466.8,299.2L466.6,299.0L466.0,298.2L465.6,297.6L465.3,297.2L464.6,296.3L464.5,296.2L463.7,295.2L463.6,295.0L463.0,294.2L462.6,293.8L462.2,293.2L461.6,292.5L461.3,292.2L460.6,291.3L460.5,291.2L459.7,290.2L459.6,290.1L458.9,289.2L458.6,288.9L458.0,288.2L457.6,287.7L457.2,287.2L456.6,286.5L456.3,286.2L455.6,285.4L455.4,285.2L454.6,284.2L454.6,284.2L453.7,283.2L453.6,283.1L452.8,282.2L452.6,282.0L451.9,281.2L451.6,280.9L451.0,280.2L450.6,279.7L450.1,279.2L449.6,278.6L449.2,278.2L448.6,277.5L448.3,277.2L447.6,276.5L447.4,276.2L446.6,275.4L446.4,275.2L445.6,274.3L445.5,274.2L444.6,273.2L444.6,273.2L443.6,272.2L443.6,272.2L442.7,271.2L442.6,271.1L441.7,270.2L441.6,270.1L440.7,269.2L440.6,269.1L439.8,268.2L439.6,268.0L438.8,267.2L438.6,267.0L437.8,266.2L437.6,266.0L436.8,265.2L436.6,265.0L435.7,264.2L435.6,264.1L434.7,263.2L434.6,263.1L433.7,262.2L433.6,262.1L432.6,261.2L432.6,261.2L431.6,260.3L431.5,260.2L430.6,259.4L430.4,259.2L429.6,258.5L429.3,258.2L428.6,257.6L428.2,257.2L427.6,256.7L427.0,256.2L426.6,255.9L425.8,255.2L425.6,255.0L424.6,254.2L424.6,254.2L423.6,253.4L423.3,253.2L422.6,252.7L422.0,252.2L421.6,251.9L420.6,251.2L420.6,251.2L419.6,250.5L419.2,250.2L418.6,249.8L417.7,249.2L417.6,249.1L416.6,248.5L416.2,248.2L415.6,247.8L414.6,247.2L414.5,247.2L413.6,246.7L412.7,246.2L412.6,246.1L411.6,245.6L410.8,245.2L410.6,245.1L409.6,244.6L408.6,244.2L408.6,244.2L408.6,244.2L408.6,245.2L408.6,246.2L408.6,247.2L408.6,248.2L408.6,249.2L408.6,250.2L408.6,251.2L408.6,252.2L408.6,253.2L408.6,254.2L408.6,255.2L408.6,256.2L408.6,257.2L408.6,258.2L408.6,259.2L408.6,260.2L408.6,261.2L408.6,262.2L408.6,263.2L408.6,264.2L408.6,265.2L408.6,266.2L408.6,267.2L408.6,268.2L408.6,269.2L408.6,270.2L408.6,271.2L408.6,272.2L408.6,273.2L408.6,274.2L408.6,275.2L408.6,276.2L408.6,277.2L408.6,278.2L408.6,279.2L408.6,280.2L408.6,281.2L408.6,282.2L408.6,283.2L408.6,284.2L408.6,285.2L408.6,286.2L408.6,287.2L408.6,288.2L408.6,289.2L408.6,290.2L408.6,291.2L408.6,292.2L408.6,293.2L408.6,294.2L408.6,295.2L408.6,296.2L408.6,297.2L408.6,298.2L408.6,299.2L408.6,300.2L408.6,301.2L408.6,302.2L408.6,303.2L408.6,304.2L408.6,305.2L408.6,306.2L408.6,307.2L408.6,308.2L408.6,309.2L408.6,310.2L408.6,311.2L408.6,312.2L408.6,313.2L408.6,314.2L408.6,315.2L408.6,316.2L408.6,317.2L408.6,318.2Z" fill="#00ff47" fill-rule="evenodd" stroke="#00ff47" stroke-width="0.3"/>
<path d="M409.6,318.2L410.6,318.2L411.6,318.2L412.6,318.2L413.6,318.2L414.6,318.2L415.6,318.2L416.6,318.2L417.6,318.2L418.6,318.2L419.6,318.2L420.6,318.2L421.6,318.2L422.6,318.2L423.6,318.2L424.6,318.2L425.6,318.2L426.6,318.2L427.6,318.2L428.6,318.2L429.6,318.2L430.6,318.2L431.6,318.2L432.6,318.2L433.6,318.2L434.6,318.2L435.6,318.2L436.6,318.2L437.6,318.2L438.6,318.2L439.6,318.2L440.6,318.2L441.6,318.2L442.6,318.2L443.6,318.2L444.6,318.2L445.6,318.2L446.6,318.2L447.6,318.2L448.6,318.2L449.6,318.2L450.6,318.2L451.6,318.2L452.6,318.2L453.6,318.2L454.6,318.2L455.6,318.2L456.6,318.2L457.6,318.2L458.6,318.2L459.6,318.2L460.6,318.2L461.6,318.2L462.6,318.2L463.6,318.2L464.6,318.2L465.6,318.2L466.6,318.2L467.6,318.2L468.6,318.2L469.6,318.2L470.6,318.2L471.6,318.2L472.6,318.2L473.3,318.2L473.0,317.2L472.6,316.2L472.6,316.1L472.3,315.2L471.9,314.2L471.6,313.5L471.5,313.2L471.0,312.2L470.6,311.3L470.5,311.2L470.1,310.2L469.6,309.3L469.5,309.2L469.0,308.2L468.6,307.5L468.4,307.2L467.9,306.2L467.6,305.8L467.3,305.2L466.6,304.2L466.6,304.1L466.0,303.2L465.6,302.6L465.3,302.2L464.7,301.2L464.6,301.1L464.0,300.2L463.6,299.7L463.3,299.2L462.6,298.3L462.6,298.2L461.8,297.2L461.6,296.9L461.1,296.2L460.6,295.6L460.3,295.2L459.6,294.2L459.6,294.2L458.8,293.2L458.6,293.0L458.0,292.2L457.6,291.7L457.2,291.2L456.6,290.5L456.4,290.2L455.6,289.2L455.6,289.2L454.8,288.2L454.6,288.0L453.9,287.2L453.6,286.8L453.1,286.2L452.6,285.6L452.2,285.2L451.6,284.5L451.4,284.2L450.6,283.3L450.5,283.2L449.7,282.2L449.6,282.1L448.8,281.2L448.6,281.0L447.9,280.2L447.6,279.9L447.0,279.2L446.6,278.7L446.1,278.2L445.6,277.6L445.2,277.2L444.6,276.5L444.3,276.2L443.6,275.4L443.4,275.2L442.6,274.4L442.4,274.2L441.6,273.3L441.5,273.2L440.6,272.2L440.6,272.2L439.6,271.2L439.6,271.2L438.7,270.2L438.6,270.1L437.7,269.2L437.6,269.1L436.7,268.2L436.6,268.1L435.7,267.2L435.6,267.1L434.7,266.2L434.6,266.1L433.7,265.2L433.6,265.1L432.6,264.2L432.6,264.2L431.6,263.2L431.6,263.2L430.6,262.3L430.5,262.2L429.6,261.4L429.4,261.2L428.6,260.5L428.3,260.2L427.6,259.6L427.2,259.2L426.6,258.7L426.0,258.2L425.6,257.8L424.8,257.2L424.6,257.0L423.6,256.2L423.6,256.2L422.6,255.4L422.3,255.2L421.6,254.6L421.0,254.2L420.6,253.9L419.7,253.2L419.6,253.1L418.6,252.4L418.3,252.2L417.6,251.8L416.8,251.2L416.6,251.1L415.6,250.4L415.2,250.2L414.6,249.8L413.6,249.2L413.5,249.2L412.6,248.7L411.7,248.2L411.6,248.1L410.6,247.6L409.7,247.2L409.6,247.1L408.6,246.7L408.6,247.2L408.6,248.2L408.6,249.2L408.6,250.2L408.6,251.2L408.6,252.2L408.6,253.2L408.6,254.2L408.6,255.2L408.6,256.2L408.6,257.2L408.6,258.2L408.6,259.2L408.6,260.2L408.6,261.2L408.6,262.2L408.6,263.2L408.6,264.2L408.6,265.2L408.6,266.2L408.6,267.2L408.6,268.2L408.6,269.2L408.6,270.2L408.6,271.2L408.6,272.2L408.6,273.2L408.6,274.2L408.6,275.2L408.6,276.2L408.6,277.2L408.6,278.2L408.6,279.2L408.6,280.2L408.6,281.2L408.6,282.2L408.6,283.2L408.6,284.2L408.6,285.2L408.6,286.2L408.6,287.2L408.6,288.2L408.6,289.2L408.6,290.2L408.6,291.2L408.6,292.2L408.6,293.2L408.6,294.2L408.6,295.2L408.6,296.2L408.6,297.2L408.6,298.2L408.6,299.2L408.6,300.2L408.6,301.2L408.6,302.2L408.6,303.2L408.6,304.2L408.6,305.2L408.6,306.2L408.6,307.2L408.6,308.2L408.6,309.2L408.6,310.2L408.6,311.2L408.6,312.2L408.6,313.2L408.6,314.2L408.6,315.2L408.6,316.2L408.6,317.2L408.6,318.2Z" fill="#00ff33" fill-rule="evenodd" stroke="#00ff33" stroke-width="0.3"/>
<path d="M409.6,318.2L410.6,318.2L411.6,318.2L412.6,318.2L413.6,318.2L414.6,318.2L415.6,318.2L416.6,318.2L417.6,318.2L418.6,318.2L419.6,318.2L420.6,318.2L421.6,318.2L422.6,318.2L423.6,318.2L424.6,318.2L425.6,318.2L426.6,318.2L427.6,318.2L428.6,318.2L429.6,318.2L430.6,318.2L431.6,318.2L432.6,318.2L433.6,318.2L434.6,318.2L435.6,318.2L436.6,318.2L437.6,318.2L438.6,318.2L439.6,318.2L440.6,318.2L441.6,318.2L442.6,318.2L443.6,318.2L444.6,318.2L445.6,318.2L446.6,318.2L447.6,318.2L448.6,318.2L449.6,318.2L450.6,318.2L451.6,318.2L452.6,318.2L453.6,318.2L454.6,318.2L455.6,318.2L456.6,318.2L457.6,318.2L458.6,318.2L459.6,318.2L460.6,318.2L461.6,318.2L462.6,318.2L463.6,318.2L464.6,318.2L465.6,318.2L466.6,318.2L467.6,318.2L468.6,318.2L469.6,318.2L469.7,318.2L469.6,317.8L469.4,317.2L469.1,316.2L468.7,315.2L468.6,314.9L468.3,314.2L467.9,313.2L467.6,312.5L467.5,312.2L467.0,311.2L466.6,310.4L466.5,310.2L466.0,309.2L465.6,308.4L465.5,308.2L465.0,307.2L464.6,306.6L464.4,306.2L463.8,305.2L463.6,304.9L463.2,304.2L462.6,303.2L462.6,303.2L461.9,302.2L461.6,301.7L461.3,301.2L460.6,300.2L460.6,300.2L459.9,299.2L459.6,298.7L459.2,298.2L458.6,297.3L458.5,297.2L457.8,296.2L457.6,295.9L457.1,295.2L456.6,294.6L456.3,294.2L455.6,293.3L455.5,293.2L454.8,292.2L454.6,292.0L454.0,291.2L453.6,290.7L453.2,290.2L452.6,289.4L452.4,289.2L451.6,288.2L451.6,288.2L450.8,287.2L450.6,287.0L450.0,286.2L449.6,285.8L449.1,285.2L448.6,284.6L448.3,284.2L447.6,283.4L447.5,283.2L446.6,282.2L446.6,282.2L445.7,281.2L445.6,281.1L444.9,280.2L444.6,279.9L444.0,279.2L443.6,278.8L443.1,278.2L442.6,277.7L442.2,277.2L441.6,276.5L441.3,276.2L440.6,275.4L440.4,275.2L439.6,274.4L439.4,274.2L438.6,273.3L438.5,273.2L437.6,272.2L437.6,272.2L436.6,271.2L436.6,271.2L435.6,270.2L435.6,270.2L434.7,269.2L434.6,269.1L433.7,268.2L433.6,268.1L432.7,267.2L432.6,267.1L431.6,266.2L431.6,266.2L430.6,265.2L430.6,265.2L429.6,264.3L429.5,264.2L428.6,263.3L428.5,263.2L427.6,262.4L427.4,262.2L426.6,261.5L426.2,261.2L425.6,260.7L425.1,260.2L424.6,259.8L423.9,259.2L423.6,259.0L422.7,258.2L422.6,258.1L421.6,257.3L421.4,257.2L420.6,256.6L420.1,256.2L419.6,255.8L418.7,255.2L418.6,255.1L417.6,254.4L417.3,254.2L416.6,253.7L415.8,253.2L415.6,253.1L414.6,252.4L414.2,252.2L413.6,251.8L412.6,251.2L412.6,251.2L411.6,250.7L410.7,250.2L410.6,250.1L409.6,249.6L408.7,249.2L408.6,249.2L408.6,249.2L408.6,250.2L408.6,251.2L408.6,252.2L408.6,253.2L408.6,254.2L408.6,255.2L408.6,256.2L408.6,257.2L408.6,258.2L408.6,259.2L408.6,260.2L408.6,261.2L408.6,262.2L408.6,263.2L408.6,264.2L408.6,265.2L408.6,266.2L408.6,267.2L408.6,268.2L408.6,269.2L408.6,270.2L408.6,271.2L408.6,272.2L408.6,273.2L408.6,274.2L408.6,275.2L408.6,276.2L408.6,277.2L408.6,278.2L408.6,279.2L408.6,280.2L408.6,281.2L408.6,282.2L408.6,283.2L408.6,284.2L408.6,285.2L408.6,286.2L408.6,287.2L408.6,288.2L408.6,289.2L408.6,290.2L408.6,291.2L408.6,292.2L408.6,293.2L408.6,294.2L408.6,295.2L408.6,296.2L408.6,297.2L408.6,298.2L408.6,299.2L408.6,300.2L408.6,301.2L408.6,302.2L408.6,303.2L408.6,304.2L408.6,305.2L408.6,306.2L408.6,307.2L408.6,308.2L408.6,309.2L408.6,310.2L408.6,311.2L408.6,312.2L408.6,313.2L408.6,314.2L408.6,315.2L408.6,316.2L408.6,317.2L408.6,318.2Z" fill="#00ff1f" fill-rule="evenodd" stroke="#00ff1f" stroke-width="0.3"/>
<path d="M409.6,318.2L410.6,318.2L411.6,318.2L412.6,318.2L413.6,318.2L414.6,318.2L415.6,318.2L416.6,318.2L417.6,318.2L418.6,318.2L419.6,318.2L420.6,318.2L421.6,318.2L422.6,318.2L423.6,318.2L424.6,318.2L425.6,318.2L426.6,318.2L427.6,318.2L428.6,318.2L429.6,318.2L430.6,318.2L431.6,318.2L432.6,318.2L433.6,318.2L434.6,318.2L435.6,318.2L436.6,318.2L437.6,318.2L438.6,318.2L439.6,318.2L440.6,318.2L441.6,318.2L442.6,318.2L443.6,318.2L444.6,318.2L445.6,318.2L446.6,318.2L447.6,318.2L448.6,318.2L449.6,318.2L450.6,318.2L451.6,318.2L452.6,318.2L453.6,318.2L454.6,318.2L455.6,318.2L456.6,318.2L457.6,318.2L458.6,318.2L459.6,318.2L460.6,318.2L461.6,318.2L462.6,318.2L463.6,318.2L464.6,318.2L465.6,318.2L466.3,318.2L466.0,317.2L465.7,316.2L465.6,316.0L465.3,315.2L464.9,314.2L464.6,313.4L464.5,313.2L464.1,312.2L463.6,311.2L463.6,311.2L463.1,310.2L462.6,309.2L462.6,309.1L462.1,308.2L461.6,307.2L461.6,307.2L461.0,306.2L460.6,305.4L460.5,305.2L459.9,304.2L459.6,303.7L459.3,303.2L458.7,302.2L458.6,302.1L458.0,301.2L457.6,300.6L457.4,300.2L456.7,299.2L456.6,299.1L456.0,298.2L455.6,297.6L455.3,297.2L454.6,296.2L454.6,296.2L453.9,295.2L453.6,294.8L453.2,294.2L452.6,293.4L452.4,293.2L451.7,292.2L451.6,292.1L450.9,291.2L450.6,290.8L450.1,290.2L449.6,289.5L449.3,289.2L448.6,288.3L448.6,288.2L447.8,287.2L447.6,287.0L446.9,286.2L446.6,285.8L446.1,285.2L445.6,284.6L445.3,284.2L444.6,283.4L444.5,283.2L443.6,282.2L443.6,282.2L442.8,281.2L442.6,281.0L441.9,280.2L441.6,279.9L441.0,279.2L440.6,278.7L440.1,278.2L439.6,277.6L439.2,277.2L438.6,276.5L438.3,276.2L437.6,275.4L437.4,275.2L436.6,274.3L436.5,274.2L435.6,273.2L435.6,273.2L434.6,272.2L434.6,272.2L433.6,271.2L433.6,271.2L432.7,270.2L432.6,270.1L431.7,269.2L431.6,269.1L430.7,268.2L430.6,268.1L429.6,267.2L429.6,267.2L428.6,266.2L428.6,266.2L427.6,265.3L427.5,265.2L426.6,264.4L426.4,264.2L425.6,263.5L425.3,263.2L424.6,262.6L424.1,262.2L423.6,261.7L423.0,261.2L422.6,260.9L421.8,260.2L421.6,260.1L420.6,259.3L420.5,259.2L419.6,258.5L419.2,258.2L418.6,257.8L417.8,257.2L417.6,257.0L416.6,256.3L416.4,256.2L415.6,255.7L414.9,255.2L414.6,255.0L413.6,254.4L413.3,254.2L412.6,253.8L411.6,253.2L411.6,253.2L410.6,252.7L409.7,252.2L409.6,252.1L408.6,251.6L408.6,252.2L408.6,253.2L408.6,254.2L408.6,255.2L408.6,256.2L408.6,257.2L408.6,258.2L408.6,259.2L408.6,260.2L408.6,261.2L408.6,262.2L408.6,263.2L408.6,264.2L408.6,265.2L408.6,266.2L408.6,267.2L408.6,268.2L408.6,269.2L408.6,270.2L408.6,271.2L408.6,272.2L408.6,273.2L408.6,274.2L408.6,275.2L408.6,276.2L408.6,277.2L408.6,278.2L408.6,279.2L408.6,280.2L408.6,281.2L408.6,282.2L408.6,283.2L408.6,284.2L408.6,285.2L408.6,286.2L408.6,287.2L408.6,288.2L408.6,289.2L408.6,290.2L408.6,291.2L408.6,292.2L408.6,293.2L408.6,294.2L408.6,295.2L408.6,296.2L408.6,297.2L408.6,298.2L408.6,299.2L408.6,300.2L408.6,301.2L408.6,302.2L408.6,303.2L408.6,304.2L408.6,305.2L408.6,306.2L408.6,307.2L408.6,308.2L408.6,309.2L408.6,310.2L408.6,311.2L408.6,312.2L408.6,313.2L408.6,314.2L408.6,315.2L408.6,316.2L408.6,317.2L408.6,318.2Z" fill="#00ff0a" fill-rule="evenodd" stroke="#00ff0a" stroke-width="0.3"/>
<path d="M409.6,318.2L410.6,318.2L411.6,318.2L412.6,318.2L413.6,318.2L414.6,318.2L415.6,318.2L416.6,318.2L417.6,318.2L418.6,318.2L419.6,318.2L420.6,318.2L421.6,318.2L422.6,318.2L423.6,318.2L424.6,318.2L425.6,318.2L426.6,318.2L427.6,318.2L428.6,318.2L429.6,318.2L430.6,318.2L431.6,318.2L432.6,318.2L433.6,318.2L434.6,318.2L435.6,318.2L436.6,318.2L437.6,318.2L438.6,318.2L439.6,318.2L440.6,318.2L441.6,318.2L442.6,318.2L443.6,318.2L444.6,318.2L445.6,318.2L446.6,318.2L447.6,318.2L448.6,318.2L449.6,318.2L450.6,318.2L451.6,318.2L452.6,318.2L453.6,318.2L454.6,318.2L455.6,318.2L456.6,318.2L457.6,318.2L458.6,318.2L459.6,318.2L460.6,318.2L461.6,318.2L462.6,318.2L463.0,318.2L462.7,317.2L462.6,316.9L462.4,316.2L462.0,315.2L461.6,314.2L461.6,314.1L461.2,313.2L460.8,312.2L460.6,311.8L460.4,311.2L459.9,310.2L459.6,309.6L459.4,309.2L458.9,308.2L458.6,307.6L458.4,307.2L457.8,306.2L457.6,305.8L457.3,305.2L456.7,304.2L456.6,304.0L456.1,303.2L455.6,302.4L455.5,302.2L454.9,301.2L454.6,300.8L454.2,300.2L453.6,299.2L453.6,299.2L452.9,298.2L452.6,297.8L452.2,297.2L451.6,296.3L451.5,296.2L450.8,295.2L450.6,294.9L450.1,294.2L449.6,293.5L449.4,293.2L448.6,292.2L448.6,292.1L447.9,291.2L447.6,290.8L447.1,290.2L446.6,289.5L446.4,289.2L445.6,288.2L445.6,288.2L444.8,287.2L444.6,287.0L444.0,286.2L443.6,285.7L443.2,285.2L442.6,284.5L442.4,284.2L441.6,283.3L441.5,283.2L440.7,282.2L440.6,282.1L439.8,281.2L439.6,280.9L439.0,280.2L438.6,279.8L438.1,279.2L437.6,278.6L437.2,278.2L436.6,277.5L436.3,277.2L435.6,276.4L435.4,276.2L434.6,275.3L434.5,275.2L433.6,274.2L433.6,274.2L432.6,273.2L432.6,273.2L431.7,272.2L431.6,272.1L430.7,271.2L430.6,271.1L429.7,270.2L429.6,270.1L428.7,269.2L428.6,269.1L427.6,268.2L427.6,268.2L426.6,267.2L426.6,267.2L425.6,266.3L425.5,266.2L424.6,265.4L424.4,265.2L423.6,264.5L423.2,264.2L422.6,263.7L422.1,263.2L421.6,262.8L420.8,262.2L420.6,262.0L419.6,261.2L419.6,261.2L418.6,260.4L418.3,260.2L417.6,259.7L416.9,259.2L416.6,259.0L415.6,258.3L415.5,258.2L414.6,257.6L414.0,257.2L413.6,256.9L412.6,256.3L412.4,256.2L411.6,255.7L410.7,255.2L410.6,255.2L409.6,254.6L408.8,254.2L408.6,254.1L408.6,254.2L408.6,255.2L408.6,256.2L408.6,257.2L408.6,258.2L408.6,259.2L408.6,260.2L408.6,261.2L408.6,262.2L408.6,263.2L408.6,264.2L408.6,265.2L408.6,266.2L408.6,267.2L408.6,268.2L408.6,269.2L408.6,270.2L408.6,271.2L408.6,272.2L408.6,273.2L408.6,274.2L408.6,275.2L408.6,276.2L408.6,277.2L408.6,278.2L408.6,279.2L408.6,280.2L408.6,281.2L408.6,282.2L408.6,283.2L408.6,284.2L408.6,285.2L408.6,286.2L408.6,287.2L408.6,288.2L408.6,289.2L408.6,290.2L408.6,291.2L408.6,292.2L408.6,293.2L408.6,294.2L408.6,295.2L408.6,296.2L408.6,297.2L408.6,298.2L408.6,299.2L408.6,300.2L408.6,301.2L408.6,302.2L408.6,303.2L408.6,304.2L408.6,305.2L408.6,306.2L408.6,307.2L408.6,308.2L408.6,309.2L408.6,310.2L408.6,311.2L408.6,312.2L408.6,313.2L408.6,314.2L408.6,315.2L408.6,316.2L408.6,317.2L408.6,318.2Z" fill="#0aff00" fill-rule="evenodd" stroke="#0aff00" stroke-width="0.3"/>
<path d="M409.6,318.2L410.6,318.2L411.6,318.2L412.6,318.2L413.6,318.2L414.6,318.2L415.6,318.2L416.6,318.2L417.6,318.2L418.6,318.2L419.6,318.2L420.6,318.2L421.6,318.2L422.6,318.2L423.6,318.2L424.6,318.2L425.6,318.2L426.6,318.2L427.6,318.2L428.6,318.2L429.6,318.2L430.6,318.2L431.6,318.2L432.6,318.2L433.6,318.2L434.6,318.2L435.6,318.2L436.6,318.2L437.6,318.2L438.6,318.2L439.6,318.2L440.6,318.2L441.6,318.2L442.6,318.2L443.6,318.2L444.6,318.2L445.6,318.2L446.6,318.2L447.6,318.2L448.6,318.2L449.6,318.2L450.6,318.2L451.6,318.2L452.6,318.2L453.6,318.2L454.6,318.2L455.6,318.2L456.6,318.2L457.6,318.2L458.6,318.2L459.6,318.2L459.9,318.2L459.6,317.4L459.5,317.2L459.2,316.2L458.8,315.2L458.6,314.6L458.5,314.2L458.1,313.2L457.6,312.2L457.6,312.1L457.2,311.2L456.7,310.2L456.6,309.9L456.3,309.2L455.8,308.2L455.6,307.9L455.3,307.2L454.7,306.2L454.6,306.0L454.2,305.2L453.6,304.2L453.6,304.2L453.0,303.2L452.6,302.5L452.4,302.2L451.8,301.2L451.6,300.9L451.2,300.2L450.6,299.3L450.6,299.2L449.9,298.2L449.6,297.8L449.2,297.2L448.6,296.3L448.6,296.2L447.9,295.2L447.6,294.8L447.2,294.2L446.6,293.4L446.4,293.2L445.7,292.2L445.6,292.1L445.0,291.2L444.6,290.7L444.2,290.2L443.6,289.4L443.5,289.2L442.7,288.2L442.6,288.1L441.9,287.2L441.6,286.8L441.1,286.2L440.6,285.6L440.3,285.2L439.6,284.3L439.5,284.2L438.7,283.2L438.6,283.1L437.8,282.2L437.6,281.9L437.0,281.2L436.6,280.8L436.1,280.2L435.6,279.6L435.2,279.2L434.6,278.5L434.3,278.2L433.6,277.4L433.4,277.2L432.6,276.3L432.5,276.2L431.6,275.2L431.6,275.2L430.6,274.2L430.6,274.2L429.7,273.2L429.6,273.1L428.7,272.2L428.6,272.1L427.7,271.2L427.6,271.1L426.7,270.2L426.6,270.1L425.6,269.2L425.6,269.2L424.6,268.2L424.5,268.2L423.6,267.3L423.4,267.2L422.6,266.4L422.3,266.2L421.6,265.6L421.1,265.2L420.6,264.7L419.9,264.2L419.6,263.9L418.7,263.2L418.6,263.1L417.6,262.4L417.4,262.2L416.6,261.6L416.0,261.2L415.6,260.9L414.6,260.2L414.6,260.2L413.6,259.5L413.1,259.2L412.6,258.9L411.6,258.3L411.5,258.2L410.6,257.7L409.7,257.2L409.6,257.1L408.6,256.6L408.6,257.2L408.6,258.2L408.6,259.2L408.6,260.2L408.6,261.2L408.6,262.2L408.6,263.2L408.6,264.2L408.6,265.2L408.6,266.2L408.6,267.2L408.6,268.2L408.6,269.2L408.6,270.2L408.6,271.2L408.6,272.2L408.6,273.2L408.6,274.2L408.6,275.2L408.6,276.2L408.6,277.2L408.6,278.2L408.6,279.2L408.6,280.2L408.6,281.2L408.6,282.2L408.6,283.2L408.6,284.2L408.6,285.2L408.6,286.2L408.6,287.2L408.6,288.2L408.6,289.2L408.6,290.2L408.6,291.2L408.6,292.2L408.6,293.2L408.6,294.2L408.6,295.2L408.6,296.2L408.6,297.2L408.6,298.2L408.6,299.2L408.6,300.2L408.6,301.2L408.6,302.2L408.6,303.2L408.6,304.2L408.6,305.2L408.6,306.2L408.6,307.2L408.6,308.2L408.6,309.2L408.6,310.2L408.6,311.2L408.6,312.2L408.6,313.2L408.6,314.2L408.6,315.2L408.6,316.2L408.6,317.2L408.6,318.2Z" fill="#1fff00" fill-rule="evenodd" stroke="#1fff00" stroke-width="0.3"/>
<path d="M409.6,318.2L410.6,318.2L411.6,318.2L412.6,318.2L413.6,318.2L414.6,318.2L415.6,318.2L416.6,318.2L417.6,318.2L418.6,318.2L419.6,318.2L420.6,318.2L421.6,318.2L422.6,318.2L423.6,318.2L424.6,318.2L425.6,318.2L426.6,318.2L427.6,318.2L428.6,318.2L429.6,318.2L430.6,318.2L431.6,318.2L432.6,318.2L433.6,318.2L434.6,318.2L435.6,318.2L436.6,318.2L437.6,318.2L438.6,318.2L439.6,318.2L440.6,318.2L441.6,318.2L442.6,318.2L443.6,318.2L444.6,318.2L445.6,318.2L446.6,318.2L447.6,318.2L448.6,318.2L449.6,318.2L450.6,318.2L451.6,318.2L452.6,318.2L453.6,318.2L454.6,318.2L455.6,318.2L456.6,318.2L456.8,318.2L456.6,317.6L456.5,317.2L456.1,316.2L455.8,315.2L455.6,314.7L455.4,314.2L455.0,313.2L454.6,312.2L454.6,312.2L454.2,311.2L453.7,310.2L453.6,310.0L453.2,309.2L452.7,308.2L452.6,307.9L452.2,307.2L451.7,306.2L451.6,306.0L451.2,305.2L450.6,304.2L450.6,304.2L450.1,303.2L449.6,302.4L449.5,302.2L448.9,301.2L448.6,300.8L448.2,300.2L447.6,299.2L447.6,299.2L447.0,298.2L446.6,297.6L446.3,297.2L445.6,296.2L445.6,296.1L445.0,295.2L444.6,294.7L444.3,294.2L443.6,293.3L443.6,293.2L442.8,292.2L442.6,291.9L442.1,291.2L441.6,290.5L441.4,290.2L440.6,289.2L440.6,289.2L439.8,288.2L439.6,287.9L439.1,287.2L438.6,286.6L438.3,286.2L437.6,285.4L437.5,285.2L436.7,284.2L436.6,284.1L435.8,283.2L435.6,282.9L435.0,282.2L434.6,281.8L434.1,281.2L433.6,280.6L433.3,280.2L432.6,279.5L432.4,279.2L431.6,278.3L431.5,278.2L430.6,277.2L430.6,277.2L429.6,276.2L429.6,276.2L428.7,275.2L428.6,275.1L427.7,274.2L427.6,274.1L426.7,273.2L426.6,273.1L425.7,272.2L425.6,272.1L424.7,271.2L424.6,271.1L423.6,270.2L423.6,270.2L422.6,269.3L422.5,269.2L421.6,268.4L421.4,268.2L420.6,267.5L420.2,267.2L419.6,266.7L419.0,266.2L418.6,265.8L417.8,265.2L417.6,265.0L416.6,264.3L416.5,264.2L415.6,263.5L415.1,263.2L414.6,262.8L413.7,262.2L413.6,262.1L412.6,261.5L412.2,261.2L411.6,260.8L410.6,260.2L410.5,260.2L409.6,259.7L408.8,259.2L408.6,259.1L408.6,259.2L408.6,260.2L408.6,261.2L408.6,262.2L408.6,263.2L408.6,264.2L408.6,265.2L408.6,266.2L408.6,267.2L408.6,268.2L408.6,269.2L408.6,270.2L408.6,271.2L408.6,272.2L408.6,273.2L408.6,274.2L408.6,275.2L408.6,276.2L408.6,277.2L408.6,278.2L408.6,279.2L408.6,280.2L408.6,281.2L408.6,282.2L408.6,283.2L408.6,284.2L408.6,285.2L408.6,286.2L408.6,287.2L408.6,288.2L408.6,289.2L408.6,290.2L408.6,291.2L408.6,292.2L408.6,293.2L408.6,294.2L408.6,295.2L408.6,296.2L408.6,297.2L408.6,298.2L408.6,299.2L408.6,300.2L408.6,301.2L408.6,302.2L408.6,303.2L408.6,304.2L408.6,305.2L408.6,306.2L408.6,307.2L408.6,308.2L408.6,309.2L408.6,310.2L408.6,311.2L408.6,312.2L408.6,313.2L408.6,314.2L408.6,315.2L408.6,316.2L408.6,317.2L408.6,318.2Z" fill="#33ff00" fill-rule="evenodd" stroke="#33ff00" stroke-width="0.3"/>
<path d="M409.6,318.2L410.6,318.2L411.6,318.2L412.6,318.2L413.6,318.2L414.6,318.2L415.6,318.2L416.6,318.2L417.6,318.2L418.6,318.2L419.6,318.2L420.6,318.2L421.6,318.2L422.6,318.2L423.6,318.2L424.6,318.2L425.6,318.2L426.6,318.2L427.6,318.2L428.6,318.2L429.6,318.2L430.6,318.2L431.6,318.2L432.6,318.2L433.6,318.2L434.6,318.2L435.6,318.2L436.6,318.2L437.6,318.2L438.6,318.2L439.6,318.2L440.6,318.2L441.6,318.2L442.6,318.2L443.6,318.2L444.6,318.2L445.6,318.2L446.6,318.2L447.6,318.2L448.6,318.2L449.6,318.2L450.6,318.2L451.6,318.2L452.6,318.2L453.6,318.2L453.8,318.2L453.6,317.5L453.5,317.2L453.2,316.2L452.8,315.2L452.6,314.6L452.4,314.2L452.1,313.2L451.6,312.2L451.6,312.1L451.2,311.2L450.8,310.2L450.6,309.8L450.3,309.2L449.8,308.2L449.6,307.8L449.3,307.2L448.8,306.2L448.6,305.8L448.3,305.2L447.7,304.2L447.6,304.0L447.2,303.2L446.6,302.2L446.6,302.2L446.0,301.2L445.6,300.6L445.4,300.2L444.8,299.2L444.6,298.9L444.1,298.2L443.6,297.4L443.5,297.2L442.8,296.2L442.6,295.9L442.1,295.2L441.6,294.4L441.4,294.2L440.7,293.2L440.6,293.0L440.0,292.2L439.6,291.6L439.3,291.2L438.6,290.2L438.6,290.2L437.8,289.2L437.6,288.9L437.0,288.2L436.6,287.6L436.3,287.2L435.6,286.4L435.5,286.2L434.7,285.2L434.6,285.1L433.8,284.2L433.6,283.9L433.0,283.2L432.6,282.7L432.2,282.2L431.6,281.5L431.3,281.2L430.6,280.4L430.4,280.2L429.6,279.3L429.5,279.2L428.6,278.2L428.6,278.2L427.7,277.2L427.6,277.1L426.7,276.2L426.6,276.1L425.7,275.2L425.6,275.1L424.7,274.2L424.6,274.1L423.7,273.2L423.6,273.1L422.7,272.2L422.6,272.1L421.6,271.2L421.6,271.2L420.6,270.3L420.5,270.2L419.6,269.4L419.3,269.2L418.6,268.6L418.1,268.2L417.6,267.8L416.9,267.2L416.6,267.0L415.6,266.2L415.6,266.2L414.6,265.5L414.2,265.2L413.6,264.8L412.8,264.2L412.6,264.1L411.6,263.4L411.3,263.2L410.6,262.8L409.6,262.2L409.6,262.2L408.6,261.6L408.6,262.2L408.6,263.2L408.6,264.2L408.6,265.2L408.6,266.2L408.6,267.2L408.6,268.2L408.6,269.2L408.6,270.2L408.6,271.2L408.6,272.2L408.6,273.2L408.6,274.2L408.6,275.2L408.6,276.2L408.6,277.2L408.6,278.2L408.6,279.2L408.6,280.2L408.6,281.2L408.6,282.2L408.6,283.2L408.6,284.2L408.6,285.2L408.6,286.2L408.6,287.2L408.6,288.2L408.6,289.2L408.6,290.2L408.6,291.2L408.6,292.2L408.6,293.2L408.6,294.2L408.6,295.2L408.6,296.2L408.6,297.2L408.6,298.2L408.6,299.2L408.6,300.2L408.6,301.2L408.6,302.2L408.6,303.2L408.6,304.2L408.6,305.2L408.6,306.2L408.6,307.2L408.6,308.2L408.6,309.2L408.6,310.2L408.6,311.2L408.6,312.2L408.6,313.2L408.6,314.2L408.6,315.2L408.6,316.2L408.6,317.2L408.6,318.2Z" fill="#47ff00" fill-rule="evenodd" stroke="#47ff00" stroke-width="0.3"/>
<path d="M409.6,318.2L410.6,318.2L411.6,318.2L412.6,318.2L413.6,318.2L414.6,318.2L415.6,318.2L416.6,318.2L417.6,318.2L418.6,318.2L419.6,318.2L420.6,318.2L421.6,318.2L422.6,318.2L423.6,318.2L424.6,318.2L425.6,318.2L426.6,318.2L427.6,318.2L428.6,318.2L429.6,318.2L430.6,318.2L431.6,318.2L432.6,318.2L433.6,318.2L434.6,318.2L435.6,318.2L436.6,318.2L437.6,318.2L438.6,318.2L439.6,318.2L440.6,318.2L441.6,318.2L442.6,318.2L443.6,318.2L444.6,318.2L445.6,318.2L446.6,318.2L447.6,318.2L448.6,318.2L449.6,318.2L450.6,318.2L451.0,318.2L450.6,317.2L450.6,317.1L450.3,316.2L450.0,315.2L449.6,314.2L449.6,314.2L449.2,313.2L448.8,312.2L448.6,311.8L448.4,311.2L447.9,310.2L447.6,309.5L447.5,309.2L447.0,308.2L446.6,307.4L446.5,307.2L446.0,306.2L445.6,305.5L445.4,305.2L444.9,304.2L444.6,303.7L444.3,303.2L443.8,302.2L443.6,301.9L443.2,301.2L442.6,300.2L442.6,300.2L442.0,299.2L441.6,298.6L441.3,298.2L440.7,297.2L440.6,297.1L440.0,296.2L439.6,295.5L439.4,295.2L438.7,294.2L438.6,294.1L438.0,293.2L437.6,292.7L437.3,292.2L436.6,291.3L436.5,291.2L435.8,290.2L435.6,289.9L435.1,289.2L434.6,288.6L434.3,288.2L433.6,287.3L433.5,287.2L432.7,286.2L432.6,286.1L431.9,285.2L431.6,284.9L431.1,284.2L430.6,283.7L430.2,283.2L429.6,282.5L429.4,282.2L428.6,281.3L428.5,281.2L427.6,280.2L427.6,280.2L426.7,279.2L426.6,279.1L425.7,278.2L425.6,278.1L424.8,277.2L424.6,277.0L423.8,276.2L423.6,276.0L422.8,275.2L422.6,275.0L421.7,274.2L421.6,274.1L420.6,273.2L420.6,273.2L419.6,272.3L419.5,272.2L418.6,271.4L418.4,271.2L417.6,270.5L417.2,270.2L416.6,269.7L416.0,269.2L415.6,268.9L414.7,268.2L414.6,268.1L413.6,267.4L413.3,267.2L412.6,266.7L411.9,266.2L411.6,266.0L410.6,265.4L410.3,265.2L409.6,264.7L408.7,264.2L408.6,264.2L408.6,264.2L408.6,265.2L408.6,266.2L408.6,267.2L408.6,268.2L408.6,269.2L408.6,270.2L408.6,271.2L408.6,272.2L408.6,273.2L408.6,274.2L408.6,275.2L408.6,276.2L408.6,277.2L408.6,278.2L408.6,279.2L408.6,280.2L408.6,281.2L408.6,282.2L408.6,283.2L408.6,284.2L408.6,285.2L408.6,286.2L408.6,287.2L408.6,288.2L408.6,289.2L408.6,290.2L408.6,291.2L408.6,292.2L408.6,293.2L408.6,294.2L408.6,295.2L408.6,296.2L408.6,297.2L408.6,298.2L408.6,299.2L408.6,300.2L408.6,301.2L408.6,302.2L408.6,303.2L408.6,304.2L408.6,305.2L408.6,306.2L408.6,307.2L408.6,308.2L408.6,309.2L408.6,310.2L408.6,311.2L408.6,312.2L408.6,313.2L408.6,314.2L408.6,315.2L408.6,316.2L408.6,317.2L408.6,318.2Z" fill="#5cff00" fill-rule="evenodd" stroke="#5cff00" stroke-width="0.3"/>
<path d="M409.6,318.2L410.6,318.2L411.6,318.2L412.6,318.2L413.6,318.2L414.6,318.2L415.6,318.2L416.6,318.2L417.6,318.2L418.6,318.2L419.6,318.2L420.6,318.2L421.6,318.2L422.6,318.2L423.6,318.2L424.6,318.2L425.6,318.2L426.6,318.2L427.6,318.2L428.6,318.2L429.6,318.2L430.6,318.2L431.6,318.2L432.6,318.2L433.6,318.2L434.6,318.2L435.6,318.2L436.6,318.2L437.6,318.2L438.6,318.2L439.6,318.2L440.6,318.2L441.6,318.2L442.6,318.2L443.6,318.2L444.6,318.2L445.6,318.2L446.6,318.2L447.6,318.2L448.2,318.2L447.9,317.2L447.6,316.4L447.5,316.2L447.2,315.2L446.8,314.2L446.6,313.7L446.4,313.2L446.0,312.2L445.6,311.2L445.6,311.2L445.1,310.2L444.7,309.2L444.6,309.0L444.2,308.2L443.7,307.2L443.6,307.0L443.2,306.2L442.7,305.2L442.6,305.0L442.2,304.2L441.6,303.2L441.6,303.2L441.0,302.2L440.6,301.4L440.5,301.2L439.9,300.2L439.6,299.8L439.2,299.2L438.6,298.2L438.6,298.2L438.0,297.2L437.6,296.6L437.3,296.2L436.7,295.2L436.6,295.1L436.0,294.2L435.6,293.7L435.3,293.2L434.6,292.3L434.6,292.2L433.8,291.2L433.6,290.9L433.1,290.2L432.6,289.6L432.3,289.2L431.6,288.3L431.5,288.2L430.8,287.2L430.6,287.0L429.9,286.2L429.6,285.8L429.1,285.2L428.6,284.6L428.3,284.2L427.6,283.4L427.4,283.2L426.6,282.3L426.5,282.2L425.6,281.2L425.6,281.2L424.7,280.2L424.6,280.1L423.8,279.2L423.6,279.0L422.8,278.2L422.6,278.0L421.8,277.2L421.6,277.0L420.8,276.2L420.6,276.1L419.7,275.2L419.6,275.1L418.6,274.2L418.6,274.2L417.6,273.3L417.5,273.2L416.6,272.5L416.3,272.2L415.6,271.6L415.0,271.2L414.6,270.9L413.7,270.2L413.6,270.1L412.6,269.4L412.4,269.2L411.6,268.6L410.9,268.2L410.6,268.0L409.6,267.3L409.4,267.2L408.6,266.7L408.6,267.2L408.6,268.2L408.6,269.2L408.6,270.2L408.6,271.2L408.6,272.2L408.6,273.2L408.6,274.2L408.6,275.2L408.6,276.2L408.6,277.2L408.6,278.2L408.6,279.2L408.6,280.2L408.6,281.2L408.6,282.2L408.6,283.2L408.6,284.2L408.6,285.2L408.6,286.2L408.6,287.2L408.6,288.2L408.6,289.2L408.6,290.2L408.6,291.2L408.6,292.2L408.6,293.2L408.6,294.2L408.6,295.2L408.6,296.2L408.6,297.2L408.6,298.2L408.6,299.2L408.6,300.2L408.6,301.2L408.6,302.2L408.6,303.2L408.6,304.2L408.6,305.2L408.6,306.2L408.6,307.2L408.6,308.2L408.6,309.2L408.6,310.2L408.6,311.2L408.6,312.2L408.6,313.2L408.6,314.2L408.6,315.2L408.6,316.2L408.6,317.2L408.6,318.2Z" fill="#70ff00" fill-rule="evenodd" stroke="#70ff00" stroke-width="0.3"/>
<path d="M409.6,318.2L410.6,318.2L411.6,318.2L412.6,318.2L413.6,318.2L414.6,318.2L415.6,318.2L416.6,318.2L417.6,318.2L418.6,318.2L419.6,318.2L420.6,318.2L421.6,318.2L422.6,318.2L423.6,318.2L424.6,318.2L425.6,318.2L426.6,318.2L427.6,318.2L428.6,318.2L429.6,318.2L430.6,318.2L431.6,318.2L432.6,318.2L433.6,318.2L434.6,318.2L435.6,318.2L436.6,318.2L437.6,318.2L438.6,318.2L439.6,318.2L440.6,318.2L441.6,318.2L442.6,318.2L443.6,318.2L444.6,318.2L445.5,318.2L445.2,317.2L444.8,316.2L444.6,315.5L444.5,315.2L444.1,314.2L443.7,313.2L443.6,312.9L443.3,312.2L442.9,311.2L442.6,310.5L442.5,310.2L442.0,309.2L441.6,308.4L441.5,308.2L441.0,307.2L440.6,306.3L440.5,306.2L440.0,305.2L439.6,304.4L439.5,304.2L438.9,303.2L438.6,302.6L438.4,302.2L437.8,301.2L437.6,300.9L437.2,300.2L436.6,299.2L436.6,299.2L435.9,298.2L435.6,297.7L435.3,297.2L434.6,296.2L434.6,296.1L434.0,295.2L433.6,294.7L433.3,294.2L432.6,293.2L432.6,293.2L431.9,292.2L431.6,291.8L431.1,291.2L430.6,290.5L430.4,290.2L429.6,289.2L429.6,289.2L428.8,288.2L428.6,287.9L428.0,287.2L427.6,286.7L427.2,286.2L426.6,285.5L426.3,285.2L425.6,284.3L425.5,284.2L424.6,283.2L424.6,283.2L423.7,282.2L423.6,282.1L422.7,281.2L422.6,281.0L421.8,280.2L421.6,280.0L420.8,279.2L420.6,279.0L419.8,278.2L419.6,278.0L418.7,277.2L418.6,277.1L417.6,276.2L417.6,276.2L416.6,275.3L416.5,275.2L415.6,274.4L415.3,274.2L414.6,273.6L414.1,273.2L413.6,272.8L412.8,272.2L412.6,272.0L411.6,271.3L411.4,271.2L410.6,270.6L410.0,270.2L409.6,269.9L408.6,269.3L408.6,270.2L408.6,271.2L408.6,272.2L408.6,273.2L408.6,274.2L408.6,275.2L408.6,276.2L408.6,277.2L408.6,278.2L408.6,279.2L408.6,280.2L408.6,281.2L408.6,282.2L408.6,283.2L408.6,284.2L408.6,285.2L408.6,286.2L408.6,287.2L408.6,288.2L408.6,289.2L408.6,290.2L408.6,291.2L408.6,292.2L408.6,293.2L408.6,294.2L408.6,295.2L408.6,296.2L408.6,297.2L408.6,298.2L408.6,299.2L408.6,300.2L408.6,301.2L408.6,302.2L408.6,303.2L408.6,304.2L408.6,305.2L408.6,306.2L408.6,307.2L408.6,308.2L408.6,309.2L408.6,310.2L408.6,311.2L408.6,312.2L408.6,313.2L408.6,314.2L408.6,315.2L408.6,316.2L408.6,317.2L408.6,318.2Z" fill="#85ff00" fill-rule="evenodd" stroke="#85ff00" stroke-width="0.3"/>
<path d="M409.6,318.2L410.6,318.2L411.6,318.2L412.6,318.2L413.6,318.2L414.6,318.2L415.6,318.2L416.6,318.2L417.6,318.2L418.6,318.2L419.6,318.2L420.6,318.2L421.6,318.2L422.6,318.2L423.6,318.2L424.6,318.2L425.6,318.2L426.6,318.2L427.6,318.2L428.6,318.2L429.6,318.2L430.6,318.2L431.6,318.2L432.6,318.2L433.6,318.2L434.6,318.2L435.6,318.2L436.6,318.2L437.6,318.2L438.6,318.2L439.6,318.2L440.6,318.2L441.6,318.2L442.6,318.2L442.9,318.2L442.6,317.3L442.6,317.2L442.2,316.2L441.9,315.2L441.6,314.5L441.5,314.2L441.1,313.2L440.7,312.2L440.6,312.0L440.3,311.2L439.8,310.2L439.6,309.7L439.4,309.2L438.9,308.2L438.6,307.6L438.4,307.2L437.9,306.2L437.6,305.6L437.4,305.2L436.9,304.2L436.6,303.7L436.3,303.2L435.7,302.2L435.6,302.0L435.2,301.2L434.6,300.3L434.6,300.2L433.9,299.2L433.6,298.6L433.3,298.2L432.7,297.2L432.6,297.1L432.0,296.2L431.6,295.6L431.3,295.2L430.6,294.2L430.6,294.2L429.9,293.2L429.6,292.8L429.2,292.2L428.6,291.4L428.4,291.2L427.7,290.2L427.6,290.1L426.9,289.2L426.6,288.8L426.1,288.2L425.6,287.6L425.3,287.2L424.6,286.4L424.4,286.2L423.6,285.3L423.5,285.2L422.6,284.2L422.6,284.2L421.7,283.2L421.6,283.1L420.8,282.2L420.6,282.0L419.8,281.2L419.6,281.0L418.8,280.2L418.6,280.0L417.7,279.2L417.6,279.1L416.7,278.2L416.6,278.1L415.6,277.3L415.5,277.2L414.6,276.4L414.4,276.2L413.6,275.6L413.1,275.2L412.6,274.8L411.8,274.2L411.6,274.0L410.6,273.3L410.5,273.2L409.6,272.6L409.0,272.2L408.6,271.9L408.6,272.2L408.6,273.2L408.6,274.2L408.6,275.2L408.6,276.2L408.6,277.2L408.6,278.2L408.6,279.2L408.6,280.2L408.6,281.2L408.6,282.2L408.6,283.2L408.6,284.2L408.6,285.2L408.6,286.2L408.6,287.2L408.6,288.2L408.6,289.2L408.6,290.2L408.6,291.2L408.6,292.2L408.6,293.2L408.6,294.2L408.6,295.2L408.6,296.2L408.6,297.2L408.6,298.2L408.6,299.2L408.6,300.2L408.6,301.2L408.6,302.2L408.6,303.2L408.6,304.2L408.6,305.2L408.6,306.2L408.6,307.2L408.6,308.2L408.6,309.2L408.6,310.2L408.6,311.2L408.6,312.2L408.6,313.2L408.6,314.2L408.6,315.2L408.6,316.2L408.6,317.2L408.6,318.2Z" fill="#99ff00" fill-rule="evenodd" stroke="#99ff00" stroke-width="0.3"/>
<path d="M409.6,318.2L410.6,318.2L411.6,318.2L412.6,318.2L413.6,318.2L414.6,318.2L415.6,318.2L416.6,318.2L417.6,318.2L418.6,318.2L419.6,318.2L420.6,318.2L421.6,318.2L422.6,318.2L423.6,318.2L424.6,318.2L425.6,318.2L426.6,318.2L427.6,318.2L428.6,318.2L429.6,318.2L430.6,318.2L431.6,318.2L432.6,318.2L433.6,318.2L434.6,318.2L435.6,318.2L436.6,318.2L437.6,318.2L438.6,318.2L439.6,318.2L440.3,318.2L440.0,317.2L439.7,316.2L439.6,316.0L439.3,315.2L438.9,314.2L438.6,313.3L438.5,313.2L438.1,312.2L437.7,311.2L437.6,310.9L437.3,310.2L436.8,309.2L436.6,308.7L436.3,308.2L435.9,307.2L435.6,306.7L435.4,306.2L434.8,305.2L434.6,304.8L434.3,304.2L433.7,303.2L433.6,302.9L433.2,302.2L432.6,301.2L432.6,301.2L432.0,300.2L431.6,299.6L431.4,299.2L430.7,298.2L430.6,298.0L430.1,297.2L429.6,296.5L429.4,296.2L428.7,295.2L428.6,295.0L428.0,294.2L427.6,293.6L427.3,293.2L426.6,292.3L426.5,292.2L425.8,291.2L425.6,291.0L425.0,290.2L424.6,289.7L424.2,289.2L423.6,288.5L423.3,288.2L422.6,287.3L422.5,287.2L421.6,286.2L421.6,286.2L420.7,285.2L420.6,285.1L419.8,284.2L419.6,284.0L418.8,283.2L418.6,283.0L417.8,282.2L417.6,282.0L416.8,281.2L416.6,281.1L415.7,280.2L415.6,280.1L414.6,279.2L414.6,279.2L413.6,278.4L413.4,278.2L412.6,277.6L412.2,277.2L411.6,276.8L410.9,276.2L410.6,276.0L409.6,275.3L409.5,275.2L408.6,274.6L408.6,275.2L408.6,276.2L408.6,277.2L408.6,278.2L408.6,279.2L408.6,280.2L408.6,281.2L408.6,282.2L408.6,283.2L408.6,284.2L408.6,285.2L408.6,286.2L408.6,287.2L408.6,288.2L408.6,289.2L408.6,290.2L408.6,291.2L408.6,292.2L408.6,293.2L408.6,294.2L408.6,295.2L408.6,296.2L408.6,297.2L408.6,298.2L408.6,299.2L408.6,300.2L408.6,301.2L408.6,302.2L408.6,303.2L408.6,304.2L408.6,305.2L408.6,306.2L408.6,307.2L408.6,308.2L408.6,309.2L408.6,310.2L408.6,311.2L408.6,312.2L408.6,313.2L408.6,314.2L408.6,315.2L408.6,316.2L408.6,317.2L408.6,318.2Z" fill="#adff00" fill-rule="evenodd" stroke="#adff00" stroke-width="0.3"/>
<path d="M409.6,318.2L410.6,318.2L411.6,318.2L412.6,318.2L413.6,318.2L414.6,318.2L415.6,318.2L416.6,318.2L417.6,318.2L418.6,318.2L419.6,318.2L420.6,318.2L421.6,318.2L422.6,318.2L423.6,318.2L424.6,318.2L425.6,318.2L426.6,318.2L427.6,318.2L428.6,318.2L429.6,318.2L430.6,318.2L431.6,318.2L432.6,318.2L433.6,318.2L434.6,318.2L435.6,318.2L436.6,318.2L437.6,318.2L437.9,318.2L437.6,317.3L437.6,317.2L437.2,316.2L436.8,315.2L436.6,314.6L436.5,314.2L436.1,313.2L435.7,312.2L435.6,312.1L435.2,311.2L434.8,310.2L434.6,309.8L434.3,309.2L433.9,308.2L433.6,307.7L433.4,307.2L432.9,306.2L432.6,305.7L432.3,305.2L431.8,304.2L431.6,303.9L431.2,303.2L430.7,302.2L430.6,302.1L430.1,301.2L429.6,300.5L429.4,300.2L428.8,299.2L428.6,298.9L428.2,298.2L427.6,297.4L427.5,297.2L426.8,296.2L426.6,295.9L426.1,295.2L425.6,294.5L425.4,294.2L424.6,293.2L424.6,293.2L423.9,292.2L423.6,291.9L423.1,291.2L422.6,290.6L422.2,290.2L421.6,289.4L421.4,289.2L420.6,288.3L420.5,288.2L419.6,287.2L419.6,287.1L418.7,286.2L418.6,286.1L417.8,285.2L417.6,285.0L416.8,284.2L416.6,284.0L415.7,283.2L415.6,283.1L414.7,282.2L414.6,282.1L413.6,281.2L413.6,281.2L412.6,280.4L412.4,280.2L411.6,279.5L411.2,279.2L410.6,278.8L409.9,278.2L409.6,278.0L408.6,277.3L408.6,278.2L408.6,279.2L408.6,280.2L408.6,281.2L408.6,282.2L408.6,283.2L408.6,284.2L408.6,285.2L408.6,286.2L408.6,287.2L408.6,288.2L408.6,289.2L408.6,290.2L408.6,291.2L408.6,292.2L408.6,293.2L408.6,294.2L408.6,295.2L408.6,296.2L408.6,297.2L408.6,298.2L408.6,299.2L408.6,300.2L408.6,301.2L408.6,302.2L408.6,303.2L408.6,304.2L408.6,305.2L408.6,306.2L408.6,307.2L408.6,308.2L408.6,309.2L408.6,310.2L408.6,311.2L408.6,312.2L408.6,313.2L408.6,314.2L408.6,315.2L408.6,316.2L408.6,317.2L408.6,318.2Z" fill="#c2ff00" fill-rule="evenodd" stroke="#c2ff00" stroke-width="0.3"/>
<path d="M409.6,318.2L410.6,318.2L411.6,318.2L412.6,318.2L413.6,318.2L414.6,318.2L415.6,318.2L416.6,318.2L417.6,318.2L418.6,318.2L419.6,318.2L420.6,318.2L421.6,318.2L422.6,318.2L423.6,318.2L424.6,318.2L425.6,318.2L426.6,318.2L427.6,318.2L428.6,318.2L429.6,318.2L430.6,318.2L431.6,318.2L432.6,318.2L433.6,318.2L434.6,318.2L435.5,318.2L435.2,317.2L434.8,316.2L434.6,315.6L434.4,315.2L434.1,314.2L433.7,313.2L433.6,313.0L433.2,312.2L432.8,311.2L432.6,310.7L432.4,310.2L431.9,309.2L431.6,308.6L431.4,308.2L430.9,307.2L430.6,306.6L430.4,306.2L429.9,305.2L429.6,304.7L429.3,304.2L428.8,303.2L428.6,302.9L428.2,302.2L427.6,301.3L427.6,301.2L426.9,300.2L426.6,299.7L426.3,299.2L425.6,298.2L425.6,298.2L424.9,297.2L424.6,296.7L424.2,296.2L423.6,295.3L423.5,295.2L422.7,294.2L422.6,294.0L422.0,293.2L421.6,292.7L421.2,292.2L420.6,291.5L420.3,291.2L419.6,290.3L419.5,290.2L418.6,289.2L418.6,289.2L417.7,288.2L417.6,288.1L416.7,287.2L416.6,287.1L415.8,286.2L415.6,286.0L414.7,285.2L414.6,285.1L413.7,284.2L413.6,284.1L412.6,283.2L412.6,283.2L411.6,282.4L411.4,282.2L410.6,281.5L410.2,281.2L409.6,280.8L408.9,280.2L408.6,280.0L408.6,280.2L408.6,281.2L408.6,282.2L408.6,283.2L408.6,284.2L408.6,285.2L408.6,286.2L408.6,287.2L408.6,288.2L408.6,289.2L408.6,290.2L408.6,291.2L408.6,292.2L408.6,293.2L408.6,294.2L408.6,295.2L408.6,296.2L408.6,297.2L408.6,298.2L408.6,299.2L408.6,300.2L408.6,301.2L408.6,302.2L408.6,303.2L408.6,304.2L408.6,305.2L408.6,306.2L408.6,307.2L408.6,308.2L408.6,309.2L408.6,310.2L408.6,311.2L408.6,312.2L408.6,313.2L408.6,314.2L408.6,315.2L408.6,316.2L408.6,317.2L408.6,318.2Z" fill="#d6ff00" fill-rule="evenodd" stroke="#d6ff00" stroke-width="0.3"/>
<path d="M409.6,318.2L410.6,318.2L411.6,318.2L412.6,318.2L413.6,318.2L414.6,318.2L415.6,318.2L416.6,318.2L417.6,318.2L418.6,318.2L419.6,318.2L420.6,318.2L421.6,318.2L422.6,318.2L423.6,318.2L424.6,318.2L425.6,318.2L426.6,318.2L427.6,318.2L428.6,318.2L429.6,318.2L430.6,318.2L431.6,318.2L432.6,318.2L433.2,318.2L432.8,317.2L432.6,316.5L432.5,316.2L432.1,315.2L431.7,314.2L431.6,313.9L431.3,313.2L430.9,312.2L430.6,311.5L430.5,311.2L430.0,310.2L429.6,309.3L429.5,309.2L429.0,308.2L428.6,307.3L428.5,307.2L428.0,306.2L427.6,305.4L427.5,305.2L426.9,304.2L426.6,303.7L426.3,303.2L425.7,302.2L425.6,302.0L425.1,301.2L424.6,300.4L424.5,300.2L423.8,299.2L423.6,298.9L423.1,298.2L422.6,297.5L422.4,297.2L421.6,296.2L421.6,296.1L420.9,295.2L420.6,294.8L420.1,294.2L419.6,293.6L419.3,293.2L418.6,292.4L418.4,292.2L417.6,291.2L417.6,291.2L416.7,290.2L416.6,290.1L415.7,289.2L415.6,289.1L414.7,288.2L414.6,288.1L413.7,287.2L413.6,287.1L412.7,286.2L412.6,286.1L411.6,285.2L411.6,285.2L410.6,284.4L410.4,284.2L409.6,283.6L409.2,283.2L408.6,282.8L408.6,283.2L408.6,284.2L408.6,285.2L408.6,286.2L408.6,287.2L408.6,288.2L408.6,289.2L408.6,290.2L408.6,291.2L408.6,292.2L408.6,293.2L408.6,294.2L408.6,295.2L408.6,296.2L408.6,297.2L408.6,298.2L408.6,299.2L408.6,300.2L408.6,301.2L408.6,302.2L408.6,303.2L408.6,304.2L408.6,305.2L408.6,306.2L408.6,307.2L408.6,308.2L408.6,309.2L408.6,310.2L408.6,311.2L408.6,312.2L408.6,313.2L408.6,314.2L408.6,315.2L408.6,316.2L408.6,317.2L408.6,318.2Z" fill="#ebff00" fill-rule="evenodd" stroke="#ebff00" stroke-width="0.3"/>
<path d="M409.6,318.2L410.6,318.2L411.6,318.2L412.6,318.2L413.6,318.2L414.6,318.2L415.6,318.2L416.6,318.2L417.6,318.2L418.6,318.2L419.6,318.2L420.6,318.2L421.6,318.2L422.6,318.2L423.6,318.2L424.6,318.2L425.6,318.2L426.6,318.2L427.6,318.2L428.6,318.2L429.6,318.2L430.6,318.2L430.9,318.2L430.6,317.2L430.6,317.2L430.2,316.2L429.9,315.2L429.6,314.6L429.5,314.2L429.0,313.2L428.6,312.2L428.6,312.2L428.2,311.2L427.7,310.2L427.6,310.0L427.2,309.2L426.7,308.2L426.6,308.0L426.2,307.2L425.7,306.2L425.6,306.1L425.1,305.2L424.6,304.3L424.5,304.2L423.9,303.2L423.6,302.7L423.3,302.2L422.6,301.2L422.6,301.1L422.0,300.2L421.6,299.7L421.3,299.2L420.6,298.3L420.6,298.2L419.8,297.2L419.6,296.9L419.0,296.2L418.6,295.6L418.2,295.2L417.6,294.4L417.4,294.2L416.6,293.3L416.5,293.2L415.6,292.2L415.6,292.2L414.7,291.2L414.6,291.1L413.7,290.2L413.6,290.1L412.7,289.2L412.6,289.1L411.7,288.2L411.6,288.1L410.6,287.2L410.6,287.2L409.6,286.4L409.4,286.2L408.6,285.6L408.6,286.2L408.6,287.2L408.6,288.2L408.6,289.2L408.6,290.2L408.6,291.2L408.6,292.2L408.6,293.2L408.6,294.2L408.6,295.2L408.6,296.2L408.6,297.2L408.6,298.2L408.6,299.2L408.6,300.2L408.6,301.2L408.6,302.2L408.6,303.2L408.6,304.2L408.6,305.2L408.6,306.2L408.6,307.2L408.6,308.2L408.6,309.2L408.6,310.2L408.6,311.2L408.6,312.2L408.6,313.2L408.6,314.2L408.6,315.2L408.6,316.2L408.6,317.2L408.6,318.2Z" fill="#ffff00" fill-rule="evenodd" stroke="#ffff00" stroke-width="0.3"/>
<path d="M409.6,318.2L410.6,318.2L411.6,318.2L412.6,318.2L413.6,318.2L414.6,318.2L415.6,318.2L416.6,318.2L417.6,318.2L418.6,318.2L419.6,318.2L420.6,318.2L421.6,318.2L422.6,318.2L423.6,318.2L424.6,318.2L425.6,318.2L426.6,318.2L427.6,318.2L428.6,318.2L428.8,318.2L428.6,317.7L428.4,317.2L428.0,316.2L427.7,315.2L427.6,315.1L427.3,314.2L426.8,313.2L426.6,312.7L426.4,312.2L425.9,311.2L425.6,310.5L425.5,310.2L425.0,309.2L424.6,308.5L424.5,308.2L423.9,307.2L423.6,306.6L423.4,306.2L422.8,305.2L422.6,304.9L422.2,304.2L421.6,303.3L421.5,303.2L420.9,302.2L420.6,301.8L420.2,301.2L419.6,300.3L419.5,300.2L418.8,299.2L418.6,299.0L418.0,298.2L417.6,297.7L417.2,297.2L416.6,296.5L416.4,296.2L415.6,295.3L415.5,295.2L414.6,294.2L414.6,294.2L413.7,293.2L413.6,293.1L412.7,292.2L412.6,292.1L411.7,291.2L411.6,291.1L410.7,290.2L410.6,290.1L409.6,289.2L409.6,289.2L408.6,288.4L408.6,289.2L408.6,290.2L408.6,291.2L408.6,292.2L408.6,293.2L408.6,294.2L408.6,295.2L408.6,296.2L408.6,297.2L408.6,298.2L408.6,299.2L408.6,300.2L408.6,301.2L408.6,302.2L408.6,303.2L408.6,304.2L408.6,305.2L408.6,306.2L408.6,307.2L408.6,308.2L408.6,309.2L408.6,310.2L408.6,311.2L408.6,312.2L408.6,313.2L408.6,314.2L408.6,315.2L408.6,316.2L408.6,317.2L408.6,318.2Z" fill="#ffeb00" fill-rule="evenodd" stroke="#ffeb00" stroke-width="0.3"/>
<path d="M409.6,318.2L410.6,318.2L411.6,318.2L412.6,318.2L413.6,318.2L414.6,318.2L415.6,318.2L416.6,318.2L417.6,318.2L418.6,318.2L419.6,318.2L420.6,318.2L421.6,318.2L422.6,318.2L423.6,318.2L424.6,318.2L425.6,318.2L426.6,318.2L426.7,318.2L426.6,318.0L426.3,317.2L425.9,316.2L425.6,315.4L425.5,315.2L425.1,314.2L424.7,313.2L424.6,313.0L424.2,312.2L423.8,311.2L423.6,310.9L423.3,310.2L422.8,309.2L422.6,308.9L422.2,308.2L421.7,307.2L421.6,307.1L421.1,306.2L420.6,305.4L420.5,305.2L419.8,304.2L419.6,303.8L419.2,303.2L418.6,302.4L418.5,302.2L417.8,301.2L417.6,301.0L417.0,300.2L416.6,299.7L416.2,299.2L415.6,298.4L415.4,298.2L414.6,297.2L414.6,297.2L413.7,296.2L413.6,296.1L412.7,295.2L412.6,295.0L411.8,294.2L411.6,294.0L410.8,293.2L410.6,293.0L409.7,292.2L409.6,292.1L408.6,291.2L408.6,292.2L408.6,293.2L408.6,294.2L408.6,295.2L408.6,296.2L408.6,297.2L408.6,298.2L408.6,299.2L408.6,300.2L408.6,301.2L408.6,302.2L408.6,303.2L408.6,304.2L408.6,305.2L408.6,306.2L408.6,307.2L408.6,308.2L408.6,309.2L408.6,310.2L408.6,311.2L408.6,312.2L408.6,313.2L408.6,314.2L408.6,315.2L408.6,316.2L408.6,317.2L408.6,318.2Z" fill="#ffd600" fill-rule="evenodd" stroke="#ffd600" stroke-width="0.3"/>
<path d="M409.6,318.2L410.6,318.2L411.6,318.2L412.6,318.2L413.6,318.2L414.6,318.2L415.6,318.2L416.6,318.2L417.6,318.2L418.6,318.2L419.6,318.2L420.6,318.2L421.6,318.2L422.6,318.2L423.6,318.2L424.6,318.2L424.6,318.2L424.6,318.1L424.3,317.2L423.9,316.2L423.6,315.5L423.5,315.2L423.0,314.2L422.6,313.2L422.6,313.2L422.1,312.2L421.6,311.2L421.6,311.1L421.1,310.2L420.6,309.2L420.6,309.2L420.0,308.2L419.6,307.5L419.4,307.2L418.8,306.2L418.6,305.8L418.2,305.2L417.6,304.3L417.5,304.2L416.8,303.2L416.6,302.9L416.1,302.2L415.6,301.6L415.3,301.2L414.6,300.4L414.5,300.2L413.6,299.2L413.6,299.2L412.7,298.2L412.6,298.1L411.8,297.2L411.6,297.0L410.8,296.2L410.6,296.0L409.8,295.2L409.6,295.0L408.8,294.2L408.6,294.1L408.6,294.2L408.6,295.2L408.6,296.2L408.6,297.2L408.6,298.2L408.6,299.2L408.6,300.2L408.6,301.2L408.6,302.2L408.6,303.2L408.6,304.2L408.6,305.2L408.6,306.2L408.6,307.2L408.6,308.2L408.6,309.2L408.6,310.2L408.6,311.2L408.6,312.2L408.6,313.2L408.6,314.2L408.6,315.2L408.6,316.2L408.6,317.2L408.6,318.2Z" fill="#ffc200" fill-rule="evenodd" stroke="#ffc200" stroke-width="0.3"/>
<path d="M409.6,318.2L410.6,318.2L411.6,318.2L412.6,318.2L413.6,318.2L414.6,318.2L415.6,318.2L416.6,318.2L417.6,318.2L418.6,318.2L419.6,318.2L420.6,318.2L421.6,318.2L422.6,318.2L422.7,318.2L422.6,318.0L422.3,317.2L421.9,316.2L421.6,315.5L421.5,315.2L421.0,314.2L420.6,313.3L420.6,313.2L420.1,312.2L419.6,311.3L419.6,311.2L419.0,310.2L418.6,309.4L418.5,309.2L417.9,308.2L417.6,307.8L417.2,307.2L416.6,306.2L416.6,306.2L415.9,305.2L415.6,304.8L415.2,304.2L414.6,303.5L414.4,303.2L413.6,302.2L413.6,302.2L412.7,301.2L412.6,301.0L411.8,300.2L411.6,299.9L410.9,299.2L410.6,298.9L409.9,298.2L409.6,297.9L408.9,297.2L408.6,296.9L408.6,297.2L408.6,298.2L408.6,299.2L408.6,300.2L408.6,301.2L408.6,302.2L408.6,303.2L408.6,304.2L408.6,305.2L408.6,306.2L408.6,307.2L408.6,308.2L408.6,309.2L408.6,310.2L408.6,311.2L408.6,312.2L408.6,313.2L408.6,314.2L408.6,315.2L408.6,316.2L408.6,317.2L408.6,318.2Z" fill="#ffad00" fill-rule="evenodd" stroke="#ffad00" stroke-width="0.3"/>
<path d="M409.6,318.2L410.6,318.2L411.6,318.2L412.6,318.2L413.6,318.2L414.6,318.2L415.6,318.2L416.6,318.2L417.6,318.2L418.6,318.2L419.6,318.2L420.6,318.2L420.8,318.2L420.6,317.8L420.4,317.2L420.0,316.2L419.6,315.4L419.5,315.2L419.1,314.2L418.6,313.2L418.6,313.2L418.1,312.2L417.6,311.3L417.5,311.2L417.0,310.2L416.6,309.6L416.4,309.2L415.7,308.2L415.6,308.0L415.0,307.2L414.6,306.6L414.3,306.2L413.6,305.3L413.6,305.2L412.8,304.2L412.6,304.0L411.9,303.2L411.6,302.8L411.0,302.2L410.6,301.7L410.1,301.2L409.6,300.7L409.1,300.2L408.6,299.7L408.6,300.2L408.6,301.2L408.6,302.2L408.6,303.2L408.6,304.2L408.6,305.2L408.6,306.2L408.6,307.2L408.6,308.2L408.6,309.2L408.6,310.2L408.6,311.2L408.6,312.2L408.6,313.2L408.6,314.2L408.6,315.2L408.6,316.2L408.6,317.2L408.6,318.2Z" fill="#ff9900" fill-rule="evenodd" stroke="#ff9900" stroke-width="0.3"/>
<path d="M409.6,318.2L410.6,318.2L411.6,318.2L412.6,318.2L413.6,318.2L414.6,318.2L415.6,318.2L416.6,318.2L417.6,318.2L418.6,318.2L418.9,318.2L418.6,317.4L418.5,317.2L418.1,316.2L417.7,315.2L417.6,315.1L417.2,314.2L416.7,313.2L416.6,313.1L416.1,312.2L415.6,311.3L415.6,311.2L414.9,310.2L414.6,309.7L414.3,309.2L413.6,308.3L413.6,308.2L412.8,307.2L412.6,306.9L412.0,306.2L411.6,305.7L411.2,305.2L410.6,304.6L410.3,304.2L409.6,303.5L409.3,303.2L408.6,302.5L408.6,303.2L408.6,304.2L408.6,305.2L408.6,306.2L408.6,307.2L408.6,308.2L408.6,309.2L408.6,310.2L408.6,311.2L408.6,312.2L408.6,313.2L408.6,314.2L408.6,315.2L408.6,316.2L408.6,317.2L408.6,318.2Z" fill="#ff8500" fill-rule="evenodd" stroke="#ff8500" stroke-width="0.3"/>
<path d="M409.6,318.2L410.6,318.2L411.6,318.2L412.6,318.2L413.6,318.2L414.6,318.2L415.6,318.2L416.6,318.2L417.1,318.2L416.7,317.2L416.6,316.9L416.3,316.2L415.8,315.2L415.6,314.7L415.3,314.2L414.8,313.2L414.6,312.9L414.2,312.2L413.6,311.3L413.6,311.2L412.9,310.2L412.6,309.8L412.1,309.2L411.6,308.5L411.3,308.2L410.6,307.3L410.5,307.2L409.6,306.2L409.6,306.2L408.6,305.2L408.6,305.2L408.6,305.2L408.6,306.2L408.6,307.2L408.6,308.2L408.6,309.2L408.6,310.2L408.6,311.2L408.6,312.2L408.6,313.2L408.6,314.2L408.6,315.2L408.6,316.2L408.6,317.2L408.6,318.2Z" fill="#ff7000" fill-rule="evenodd" stroke="#ff7000" stroke-width="0.3"/>
<path d="M409.6,318.2L410.6,318.2L411.6,318.2L412.6,318.2L413.6,318.2L414.6,318.2L415.4,318.2L415.0,317.2L414.6,316.3L414.6,316.2L414.1,315.2L413.6,314.3L413.5,314.2L412.9,313.2L412.6,312.7L412.3,312.2L411.6,311.3L411.5,311.2L410.7,310.2L410.6,310.0L409.9,309.2L409.6,308.9L409.0,308.2L408.6,307.8L408.6,308.2L408.6,309.2L408.6,310.2L408.6,311.2L408.6,312.2L408.6,313.2L408.6,314.2L408.6,315.2L408.6,316.2L408.6,317.2L408.6,318.2Z" fill="#ff5c00" fill-rule="evenodd" stroke="#ff5c00" stroke-width="0.3"/>
<path d="M409.6,318.2L410.6,318.2L411.6,318.2L412.6,318.2L413.6,318.2L413.8,318.2L413.6,317.8L413.4,317.2L412.9,316.2L412.6,315.7L412.3,315.2L411.7,314.2L411.6,314.0L411.0,313.2L410.6,312.6L410.3,312.2L409.6,311.4L409.4,311.2L408.6,310.3L408.6,311.2L408.6,312.2L408.6,313.2L408.6,314.2L408.6,315.2L408.6,316.2L408.6,317.2L408.6,318.2Z" fill="#ff4700" fill-rule="evenodd" stroke="#ff4700" stroke-width="0.3"/>
<path d="M409.6,318.2L410.6,318.2L411.6,318.2L412.2,318.2L411.8,317.2L411.6,316.9L411.2,316.2L410.6,315.2L410.6,315.2L409.9,314.2L409.6,313.9L409.0,313.2L408.6,312.8L408.6,313.2L408.6,314.2L408.6,315.2L408.6,316.2L408.6,317.2L408.6,318.2Z" fill="#ff3300" fill-rule="evenodd" stroke="#ff3300" stroke-width="0.3"/>
<path d="M409.6,318.2L410.6,318.2L410.7,318.2L410.6,318.0L410.2,317.2L409.6,316.3L409.6,316.2L408.7,315.2L408.6,315.1L408.6,315.2L408.6,316.2L408.6,317.2L408.6,318.2Z" fill="#ff1f00" fill-rule="evenodd" stroke="#ff1f00" stroke-width="0.3"/>
<path d="M408.6,317.3L408.6,318.2L409.2,318.2Z" fill="#ff0a00" fill-rule="evenodd" stroke="#ff0a00" stroke-width="0.3"/>
</g>
<rect x="408.6" y="184.2" width="140.0" height="134.0" fill="none" stroke="#1e1e1e" stroke-width="1.2"/>
<line x1="408.6" y1="318.2" x2="408.6" y2="315.7" stroke="#1e1e1e" stroke-width="1.0" />
<text x="408.6" y="329.3" font-size="9.3" text-anchor="middle" fill="#3a3a3a" font-family='"Liberation Sans", sans-serif' font-weight="normal"  stroke="#3a3a3a" stroke-width="0.2">−8</text>
<line x1="417.35" y1="318.2" x2="417.35" y2="316.7" stroke="#1e1e1e" stroke-width="1.0" />
<line x1="426.1" y1="318.2" x2="426.1" y2="315.7" stroke="#1e1e1e" stroke-width="1.0" />
<text x="426.1" y="329.3" font-size="9.3" text-anchor="middle" fill="#3a3a3a" font-family='"Liberation Sans", sans-serif' font-weight="normal"  stroke="#3a3a3a" stroke-width="0.2">−7</text>
<line x1="434.85" y1="318.2" x2="434.85" y2="316.7" stroke="#1e1e1e" stroke-width="1.0" />
<line x1="443.6" y1="318.2" x2="443.6" y2="315.7" stroke="#1e1e1e" stroke-width="1.0" />
<text x="443.6" y="329.3" font-size="9.3" text-anchor="middle" fill="#3a3a3a" font-family='"Liberation Sans", sans-serif' font-weight="normal"  stroke="#3a3a3a" stroke-width="0.2">−6</text>
<line x1="452.35" y1="318.2" x2="452.35" y2="316.7" stroke="#1e1e1e" stroke-width="1.0" />
<line x1="461.1" y1="318.2" x2="461.1" y2="315.7" stroke="#1e1e1e" stroke-width="1.0" />
<text x="461.1" y="329.3" font-size="9.3" text-anchor="middle" fill="#3a3a3a" font-family='"Liberation Sans", sans-serif' font-weight="normal"  stroke="#3a3a3a" stroke-width="0.2">−5</text>
<line x1="469.85" y1="318.2" x2="469.85" y2="316.7" stroke="#1e1e1e" stroke-width="1.0" />
<line x1="478.6" y1="318.2" x2="478.6" y2="315.7" stroke="#1e1e1e" stroke-width="1.0" />
<text x="478.6" y="329.3" font-size="9.3" text-anchor="middle" fill="#3a3a3a" font-family='"Liberation Sans", sans-serif' font-weight="normal"  stroke="#3a3a3a" stroke-width="0.2">−4</text>
<line x1="487.35" y1="318.2" x2="487.35" y2="316.7" stroke="#1e1e1e" stroke-width="1.0" />
<line x1="496.1" y1="318.2" x2="496.1" y2="315.7" stroke="#1e1e1e" stroke-width="1.0" />
<text x="496.1" y="329.3" font-size="9.3" text-anchor="middle" fill="#3a3a3a" font-family='"Liberation Sans", sans-serif' font-weight="normal"  stroke="#3a3a3a" stroke-width="0.2">−3</text>
<line x1="504.85" y1="318.2" x2="504.85" y2="316.7" stroke="#1e1e1e" stroke-width="1.0" />
<line x1="513.6" y1="318.2" x2="513.6" y2="315.7" stroke="#1e1e1e" stroke-width="1.0" />
<text x="513.6" y="329.3" font-size="9.3" text-anchor="middle" fill="#3a3a3a" font-family='"Liberation Sans", sans-serif' font-weight="normal"  stroke="#3a3a3a" stroke-width="0.2">−2</text>
<line x1="522.35" y1="318.2" x2="522.35" y2="316.7" stroke="#1e1e1e" stroke-width="1.0" />
<line x1="531.1" y1="318.2" x2="531.1" y2="315.7" stroke="#1e1e1e" stroke-width="1.0" />
<text x="531.1" y="329.3" font-size="9.3" text-anchor="middle" fill="#3a3a3a" font-family='"Liberation Sans", sans-serif' font-weight="normal"  stroke="#3a3a3a" stroke-width="0.2">−1</text>
<line x1="539.85" y1="318.2" x2="539.85" y2="316.7" stroke="#1e1e1e" stroke-width="1.0" />
<line x1="548.6" y1="318.2" x2="548.6" y2="315.7" stroke="#1e1e1e" stroke-width="1.0" />
<text x="548.6" y="329.3" font-size="9.3" text-anchor="middle" fill="#3a3a3a" font-family='"Liberation Sans", sans-serif' font-weight="normal"  stroke="#3a3a3a" stroke-width="0.2">0</text>
<line x1="408.6" y1="318.2" x2="411.1" y2="318.2" stroke="#1e1e1e" stroke-width="1.0" />
<text x="405.5" y="321.5" font-size="9.3" text-anchor="end" fill="#3a3a3a" font-family='"Liberation Sans", sans-serif' font-weight="normal"  stroke="#3a3a3a" stroke-width="0.2">−2</text>
<line x1="408.6" y1="309.82" x2="410.1" y2="309.82" stroke="#1e1e1e" stroke-width="1.0" />
<line x1="408.6" y1="301.45" x2="411.1" y2="301.45" stroke="#1e1e1e" stroke-width="1.0" />
<text x="405.5" y="304.75" font-size="9.3" text-anchor="end" fill="#3a3a3a" font-family='"Liberation Sans", sans-serif' font-weight="normal"  stroke="#3a3a3a" stroke-width="0.2">−1</text>
<line x1="408.6" y1="293.07" x2="410.1" y2="293.07" stroke="#1e1e1e" stroke-width="1.0" />
<line x1="408.6" y1="284.7" x2="411.1" y2="284.7" stroke="#1e1e1e" stroke-width="1.0" />
<text x="405.5" y="288" font-size="9.3" text-anchor="end" fill="#3a3a3a" font-family='"Liberation Sans", sans-serif' font-weight="normal"  stroke="#3a3a3a" stroke-width="0.2">0</text>
<line x1="408.6" y1="276.32" x2="410.1" y2="276.32" stroke="#1e1e1e" stroke-width="1.0" />
<line x1="408.6" y1="267.95" x2="411.1" y2="267.95" stroke="#1e1e1e" stroke-width="1.0" />
<text x="405.5" y="271.25" font-size="9.3" text-anchor="end" fill="#3a3a3a" font-family='"Liberation Sans", sans-serif' font-weight="normal"  stroke="#3a3a3a" stroke-width="0.2">1</text>
<line x1="408.6" y1="259.57" x2="410.1" y2="259.57" stroke="#1e1e1e" stroke-width="1.0" />
<line x1="408.6" y1="251.2" x2="411.1" y2="251.2" stroke="#1e1e1e" stroke-width="1.0" />
<text x="405.5" y="254.5" font-size="9.3" text-anchor="end" fill="#3a3a3a" font-family='"Liberation Sans", sans-serif' font-weight="normal"  stroke="#3a3a3a" stroke-width="0.2">2</text>
<line x1="408.6" y1="242.82" x2="410.1" y2="242.82" stroke="#1e1e1e" stroke-width="1.0" />
<line x1="408.6" y1="234.45" x2="411.1" y2="234.45" stroke="#1e1e1e" stroke-width="1.0" />
<text x="405.5" y="237.75" font-size="9.3" text-anchor="end" fill="#3a3a3a" font-family='"Liberation Sans", sans-serif' font-weight="normal"  stroke="#3a3a3a" stroke-width="0.2">3</text>
<line x1="408.6" y1="226.07" x2="410.1" y2="226.07" stroke="#1e1e1e" stroke-width="1.0" />
<line x1="408.6" y1="217.7" x2="411.1" y2="217.7" stroke="#1e1e1e" stroke-width="1.0" />
<text x="405.5" y="221" font-size="9.3" text-anchor="end" fill="#3a3a3a" font-family='"Liberation Sans", sans-serif' font-weight="normal"  stroke="#3a3a3a" stroke-width="0.2">4</text>
<line x1="408.6" y1="209.32" x2="410.1" y2="209.32" stroke="#1e1e1e" stroke-width="1.0" />
<line x1="408.6" y1="200.95" x2="411.1" y2="200.95" stroke="#1e1e1e" stroke-width="1.0" />
<text x="405.5" y="204.25" font-size="9.3" text-anchor="end" fill="#3a3a3a" font-family='"Liberation Sans", sans-serif' font-weight="normal"  stroke="#3a3a3a" stroke-width="0.2">5</text>
<line x1="408.6" y1="192.57" x2="410.1" y2="192.57" stroke="#1e1e1e" stroke-width="1.0" />
<line x1="408.6" y1="184.2" x2="411.1" y2="184.2" stroke="#1e1e1e" stroke-width="1.0" />
<text x="405.5" y="187.5" font-size="9.3" text-anchor="end" fill="#3a3a3a" font-family='"Liberation Sans", sans-serif' font-weight="normal"  stroke="#3a3a3a" stroke-width="0.2">6</text>
<rect x="570.3" y="315.93" width="11.2" height="2.97" fill="#000aef"/>
<rect x="570.3" y="313.26" width="11.2" height="2.97" fill="#001ff0"/>
<rect x="570.3" y="310.58" width="11.2" height="2.97" fill="#0033f1"/>
<rect x="570.3" y="307.91" width="11.2" height="2.97" fill="#0047f3"/>
<rect x="570.3" y="305.24" width="11.2" height="2.97" fill="#005cf4"/>
<rect x="570.3" y="302.57" width="11.2" height="2.97" fill="#0070f5"/>
<rect x="570.3" y="299.9" width="11.2" height="2.97" fill="#0085f7"/>
<rect x="570.3" y="297.22" width="11.2" height="2.97" fill="#0099f8"/>
<rect x="570.3" y="294.55" width="11.2" height="2.97" fill="#00adfa"/>
<rect x="570.3" y="291.88" width="11.2" height="2.97" fill="#00c2fb"/>
<rect x="570.3" y="289.21" width="11.2" height="2.97" fill="#00d6fc"/>
<rect x="570.3" y="286.54" width="11.2" height="2.97" fill="#00ebfe"/>
<rect x="570.3" y="283.86" width="11.2" height="2.97" fill="#00ffff"/>
<rect x="570.3" y="281.19" width="11.2" height="2.97" fill="#00ffeb"/>
<rect x="570.3" y="278.52" width="11.2" height="2.97" fill="#00ffd6"/>
<rect x="570.3" y="275.85" width="11.2" height="2.97" fill="#00ffc2"/>
<rect x="570.3" y="273.18" width="11.2" height="2.97" fill="#00ffad"/>
<rect x="570.3" y="270.5" width="11.2" height="2.97" fill="#00ff99"/>
<rect x="570.3" y="267.83" width="11.2" height="2.97" fill="#00ff85"/>
<rect x="570.3" y="265.16" width="11.2" height="2.97" fill="#00ff70"/>
<rect x="570.3" y="262.49" width="11.2" height="2.97" fill="#00ff5c"/>
<rect x="570.3" y="259.82" width="11.2" height="2.97" fill="#00ff47"/>
<rect x="570.3" y="257.14" width="11.2" height="2.97" fill="#00ff33"/>
<rect x="570.3" y="254.47" width="11.2" height="2.97" fill="#00ff1f"/>
<rect x="570.3" y="251.8" width="11.2" height="2.97" fill="#00ff0a"/>
<rect x="570.3" y="249.13" width="11.2" height="2.97" fill="#0aff00"/>
<rect x="570.3" y="246.46" width="11.2" height="2.97" fill="#1fff00"/>
<rect x="570.3" y="243.78" width="11.2" height="2.97" fill="#33ff00"/>
<rect x="570.3" y="241.11" width="11.2" height="2.97" fill="#47ff00"/>
<rect x="570.3" y="238.44" width="11.2" height="2.97" fill="#5cff00"/>
<rect x="570.3" y="235.77" width="11.2" height="2.97" fill="#70ff00"/>
<rect x="570.3" y="233.1" width="11.2" height="2.97" fill="#85ff00"/>
<rect x="570.3" y="230.42" width="11.2" height="2.97" fill="#99ff00"/>
<rect x="570.3" y="227.75" width="11.2" height="2.97" fill="#adff00"/>
<rect x="570.3" y="225.08" width="11.2" height="2.97" fill="#c2ff00"/>
<rect x="570.3" y="222.41" width="11.2" height="2.97" fill="#d6ff00"/>
<rect x="570.3" y="219.74" width="11.2" height="2.97" fill="#ebff00"/>
<rect x="570.3" y="217.06" width="11.2" height="2.97" fill="#ffff00"/>
<rect x="570.3" y="214.39" width="11.2" height="2.97" fill="#ffeb00"/>
<rect x="570.3" y="211.72" width="11.2" height="2.97" fill="#ffd600"/>
<rect x="570.3" y="209.05" width="11.2" height="2.97" fill="#ffc200"/>
<rect x="570.3" y="206.38" width="11.2" height="2.97" fill="#ffad00"/>
<rect x="570.3" y="203.7" width="11.2" height="2.97" fill="#ff9900"/>
<rect x="570.3" y="201.03" width="11.2" height="2.97" fill="#ff8500"/>
<rect x="570.3" y="198.36" width="11.2" height="2.97" fill="#ff7000"/>
<rect x="570.3" y="195.69" width="11.2" height="2.97" fill="#ff5c00"/>
<rect x="570.3" y="193.02" width="11.2" height="2.97" fill="#ff4700"/>
<rect x="570.3" y="190.34" width="11.2" height="2.97" fill="#ff3300"/>
<rect x="570.3" y="187.67" width="11.2" height="2.97" fill="#ff1f00"/>
<rect x="570.3" y="185" width="11.2" height="2.97" fill="#ff0a00"/>
<rect x="570.3" y="185.0" width="11.2" height="133.6" fill="none" stroke="#222" stroke-width="1.1"/>
<text x="575.6" y="182.0" font-size="7.7" text-anchor="middle" fill="#3a3a3a" font-family='"Liberation Sans", sans-serif' stroke="#3a3a3a" stroke-width="0.08">6.5 × 10<tspan font-size="4.8" dy="-3.0">−6</tspan></text>
<text x="576.4" y="326.9" font-size="7.7" text-anchor="middle" fill="#3a3a3a" font-family='"Liberation Sans", sans-serif' stroke="#3a3a3a" stroke-width="0.08">8.0 × 10<tspan font-size="4.8" dy="-3.0">−8</tspan></text>
<text x="0" y="0" font-size="10.2" text-anchor="middle" fill="#3a3a3a" font-family='"Liberation Sans", sans-serif' transform="translate(592.4,252.2) rotate(90)" dy="3.65"  stroke="#3a3a3a" stroke-width="0.2">| Drain Current | (A)</text>
<text x="478.5" y="343.7" font-size="10.1" text-anchor="middle" fill="#3a3a3a" font-family='"Liberation Sans", sans-serif' font-weight="normal"  stroke="#3a3a3a" stroke-width="0.2">Bottom Gate Voltage (V)</text>
<text x="0" y="0" font-size="11.1" text-anchor="middle" fill="#3a3a3a" font-family='"Liberation Sans", sans-serif' transform="translate(386.6,251.4) rotate(-90)" dy="3.97"  stroke="#3a3a3a" stroke-width="0.2">Top Gate Voltage (V)</text>
<text x="357.2" y="196.2" font-size="12.4" text-anchor="start" fill="#222" font-family='"Liberation Serif", serif' font-weight="bold" stroke="none" letter-spacing="0.45">(e)</text>
</svg>
</body></html>
